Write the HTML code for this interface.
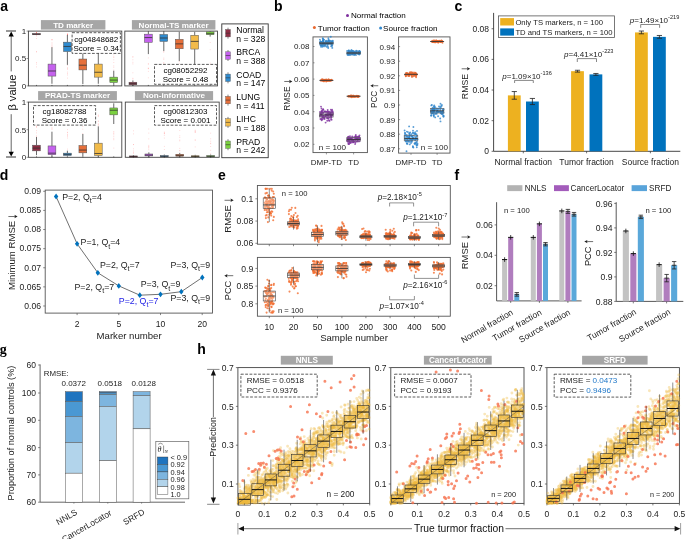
<!DOCTYPE html>
<html><head><meta charset="utf-8"><style>
html,body{margin:0;padding:0;background:#fff;width:685px;height:539px;overflow:hidden}
svg{display:block;will-change:transform}
text{font-family:"Liberation Sans", sans-serif}
.d0{fill:none;stroke:#ff7070;stroke-width:0.7;stroke-linecap:round;stroke-opacity:0.45}
.d1{fill:none;stroke:#2f86cc;stroke-width:1.9;stroke-linecap:round;stroke-opacity:0.8}
.d2{fill:none;stroke:#e8682e;stroke-width:1.9;stroke-linecap:round;stroke-opacity:0.8}
.d3{fill:none;stroke:#7e2f9e;stroke-width:1.9;stroke-linecap:round;stroke-opacity:0.8}
.d4{fill:none;stroke:#f36f32;stroke-width:2.1;stroke-linecap:round;stroke-opacity:0.8}
.d5{fill:none;stroke:#efbb40;stroke-width:2.9;stroke-linecap:round;stroke-opacity:0.36}
.d6{fill:none;stroke:#f6704c;stroke-width:3.0;stroke-linecap:round;stroke-opacity:0.8}
</style></head><body>
<svg width="685" height="539" viewBox="0 0 685 539">
<rect width="685" height="539" fill="#fff"/>
<text x="0.30" y="10.70" font-size="14" text-anchor="start" fill="#000" font-weight="bold">a</text>
<rect x="40.90" y="20.10" width="64.50" height="9.50" fill="#a6a6a6" stroke="none" stroke-width="1"/>
<text x="73.15" y="27.50" font-size="8.1" text-anchor="middle" fill="#fff" font-weight="bold">TD marker</text>
<rect x="131.90" y="20.10" width="83.50" height="9.50" fill="#a6a6a6" stroke="none" stroke-width="1"/>
<text x="173.65" y="27.50" font-size="8.1" text-anchor="middle" fill="#fff" font-weight="bold">Normal-TS marker</text>
<rect x="38.10" y="91.10" width="78.80" height="9.20" fill="#a6a6a6" stroke="none" stroke-width="1"/>
<text x="77.50" y="98.20" font-size="8.1" text-anchor="middle" fill="#fff" font-weight="bold">PRAD-TS marker</text>
<rect x="134.90" y="91.10" width="78.20" height="9.20" fill="#a6a6a6" stroke="none" stroke-width="1"/>
<text x="174.00" y="98.20" font-size="8.1" text-anchor="middle" fill="#fff" font-weight="bold">Non-informative</text>
<rect x="28.40" y="31.10" width="93.40" height="54.80" fill="#fff" stroke="#444" stroke-width="0.9"/>
<rect x="28.40" y="102.10" width="93.40" height="55.20" fill="#fff" stroke="#444" stroke-width="0.9"/>
<rect x="124.80" y="31.10" width="92.70" height="54.80" fill="#fff" stroke="#444" stroke-width="0.9"/>
<rect x="125.30" y="102.10" width="93.90" height="55.20" fill="#fff" stroke="#444" stroke-width="0.9"/>
<path class="d0" d="M36.5 33.1h0M36.5 32.4h0M36.5 32.5h0M36.5 33.0h0M36.5 32.7h0M36.5 32.8h0"/>
<path class="d0" d="M36.5 32.6h0M36.5 32.4h0M36.5 38.5h0M36.5 36.0h0M36.5 66.9h0M36.5 51.5h0"/>
<path class="d0" d="M36.5 64.1h0M36.5 35.0h0M36.5 52.0h0M36.5 62.5h0"/>
<line x1="36.50" y1="33.29" x2="36.50" y2="33.57" stroke="#444" stroke-width="0.8"/>
<line x1="36.50" y1="34.66" x2="36.50" y2="34.94" stroke="#444" stroke-width="0.8"/>
<rect x="32.60" y="33.57" width="7.80" height="1.20" fill="#8f2d44" stroke="#555" stroke-width="0.5"/>
<line x1="32.60" y1="34.17" x2="40.40" y2="34.17" stroke="#333" stroke-width="0.8"/>
<line x1="36.50" y1="85.90" x2="36.50" y2="84.90" stroke="#000" stroke-width="0.5"/>
<path class="d0" d="M52.0 45.4h0M52.0 39.6h0M52.0 39.9h0M52.0 47.0h0M52.0 47.0h0M52.0 42.8h0"/>
<path class="d0" d="M52.0 39.6h0M52.0 44.1h0"/>
<line x1="51.95" y1="47.21" x2="51.95" y2="64.09" stroke="#444" stroke-width="0.8"/>
<line x1="51.95" y1="76.09" x2="51.95" y2="83.76" stroke="#444" stroke-width="0.8"/>
<rect x="48.05" y="64.09" width="7.80" height="12.00" fill="#c562ee" stroke="#555" stroke-width="0.5"/>
<line x1="48.05" y1="70.99" x2="55.85" y2="70.99" stroke="#333" stroke-width="0.8"/>
<line x1="51.95" y1="85.90" x2="51.95" y2="84.90" stroke="#000" stroke-width="0.5"/>
<path class="d0" d="M67.4 34.5h0M67.4 34.1h0M67.4 34.9h0M67.4 34.5h0M67.4 34.1h0M67.4 34.0h0"/>
<path class="d0" d="M67.4 34.5h0M67.4 34.5h0M67.4 68.3h0M67.4 72.1h0M67.4 69.4h0M67.4 65.2h0"/>
<path class="d0" d="M67.4 78.1h0M67.4 73.6h0M67.4 75.0h0M67.4 67.8h0"/>
<line x1="67.40" y1="34.94" x2="67.40" y2="42.17" stroke="#444" stroke-width="0.8"/>
<line x1="67.40" y1="51.54" x2="67.40" y2="64.86" stroke="#444" stroke-width="0.8"/>
<rect x="63.50" y="42.17" width="7.80" height="9.37" fill="#2f8bcf" stroke="#555" stroke-width="0.5"/>
<line x1="63.50" y1="46.44" x2="71.30" y2="46.44" stroke="#333" stroke-width="0.8"/>
<line x1="67.40" y1="85.90" x2="67.40" y2="84.90" stroke="#000" stroke-width="0.5"/>
<path class="d0" d="M82.8 41.6h0M82.8 43.0h0M82.8 50.7h0M82.8 48.5h0M82.8 44.4h0M82.8 44.5h0"/>
<path class="d0" d="M82.8 42.2h0M82.8 47.5h0"/>
<line x1="82.85" y1="51.92" x2="82.85" y2="59.05" stroke="#444" stroke-width="0.8"/>
<line x1="82.85" y1="69.90" x2="82.85" y2="84.04" stroke="#444" stroke-width="0.8"/>
<rect x="78.95" y="59.05" width="7.80" height="10.85" fill="#e66f3a" stroke="#555" stroke-width="0.5"/>
<line x1="78.95" y1="65.19" x2="86.75" y2="65.19" stroke="#333" stroke-width="0.8"/>
<line x1="82.85" y1="85.90" x2="82.85" y2="84.90" stroke="#000" stroke-width="0.5"/>
<path class="d0" d="M98.3 39.1h0M98.3 40.2h0M98.3 42.7h0M98.3 40.8h0M98.3 38.8h0M98.3 39.0h0"/>
<path class="d0" d="M98.3 41.3h0M98.3 40.8h0"/>
<line x1="98.30" y1="44.80" x2="98.30" y2="64.09" stroke="#444" stroke-width="0.8"/>
<line x1="98.30" y1="77.13" x2="98.30" y2="83.76" stroke="#444" stroke-width="0.8"/>
<rect x="94.40" y="64.09" width="7.80" height="13.04" fill="#f2bb4a" stroke="#555" stroke-width="0.5"/>
<line x1="94.40" y1="72.25" x2="102.20" y2="72.25" stroke="#333" stroke-width="0.8"/>
<line x1="98.30" y1="85.90" x2="98.30" y2="84.90" stroke="#000" stroke-width="0.5"/>
<path class="d0" d="M113.8 70.0h0M113.8 65.9h0M113.8 54.9h0M113.8 62.5h0M113.8 67.3h0M113.8 59.8h0"/>
<path class="d0" d="M113.8 56.8h0M113.8 57.4h0"/>
<line x1="113.75" y1="70.72" x2="113.75" y2="77.13" stroke="#444" stroke-width="0.8"/>
<line x1="113.75" y1="82.50" x2="113.75" y2="84.80" stroke="#444" stroke-width="0.8"/>
<rect x="109.85" y="77.13" width="7.80" height="5.37" fill="#7bd13f" stroke="#555" stroke-width="0.5"/>
<line x1="109.85" y1="80.09" x2="117.65" y2="80.09" stroke="#333" stroke-width="0.8"/>
<line x1="113.75" y1="85.90" x2="113.75" y2="84.90" stroke="#000" stroke-width="0.5"/>
<path class="d0" d="M132.9 56.8h0M132.9 57.0h0M132.9 79.0h0M132.9 78.3h0M132.9 59.8h0M132.9 62.3h0"/>
<path class="d0" d="M132.9 63.9h0M132.9 72.8h0"/>
<line x1="132.90" y1="80.42" x2="132.90" y2="82.23" stroke="#444" stroke-width="0.8"/>
<line x1="132.90" y1="84.80" x2="132.90" y2="85.90" stroke="#444" stroke-width="0.8"/>
<rect x="129.00" y="82.23" width="7.80" height="2.58" fill="#8f2d44" stroke="#555" stroke-width="0.5"/>
<line x1="129.00" y1="83.71" x2="136.80" y2="83.71" stroke="#333" stroke-width="0.8"/>
<line x1="132.90" y1="85.90" x2="132.90" y2="84.90" stroke="#000" stroke-width="0.5"/>
<path class="d0" d="M148.3 68.6h0M148.3 68.6h0M148.3 68.0h0M148.3 57.9h0M148.3 64.4h0M148.3 63.5h0"/>
<path class="d0" d="M148.3 71.4h0M148.3 77.8h0"/>
<line x1="148.35" y1="31.10" x2="148.35" y2="34.17" stroke="#444" stroke-width="0.8"/>
<line x1="148.35" y1="42.33" x2="148.35" y2="54.12" stroke="#444" stroke-width="0.8"/>
<rect x="144.45" y="34.17" width="7.80" height="8.17" fill="#c562ee" stroke="#555" stroke-width="0.5"/>
<line x1="144.45" y1="37.57" x2="152.25" y2="37.57" stroke="#333" stroke-width="0.8"/>
<line x1="148.35" y1="85.90" x2="148.35" y2="84.90" stroke="#000" stroke-width="0.5"/>
<path class="d0" d="M163.8 75.9h0M163.8 65.3h0M163.8 62.7h0M163.8 58.1h0M163.8 52.0h0M163.8 51.8h0"/>
<path class="d0" d="M163.8 63.2h0M163.8 59.4h0"/>
<line x1="163.80" y1="31.10" x2="163.80" y2="34.50" stroke="#444" stroke-width="0.8"/>
<line x1="163.80" y1="41.40" x2="163.80" y2="51.05" stroke="#444" stroke-width="0.8"/>
<rect x="159.90" y="34.50" width="7.80" height="6.90" fill="#2f8bcf" stroke="#555" stroke-width="0.5"/>
<line x1="159.90" y1="38.00" x2="167.70" y2="38.00" stroke="#333" stroke-width="0.8"/>
<line x1="163.80" y1="85.90" x2="163.80" y2="84.90" stroke="#000" stroke-width="0.5"/>
<path class="d0" d="M179.2 68.1h0M179.2 77.7h0M179.2 70.8h0M179.2 71.5h0M179.2 65.4h0M179.2 61.5h0"/>
<path class="d0" d="M179.2 67.1h0M179.2 63.6h0"/>
<line x1="179.25" y1="31.87" x2="179.25" y2="39.32" stroke="#444" stroke-width="0.8"/>
<line x1="179.25" y1="48.75" x2="179.25" y2="61.02" stroke="#444" stroke-width="0.8"/>
<rect x="175.35" y="39.32" width="7.80" height="9.43" fill="#e66f3a" stroke="#555" stroke-width="0.5"/>
<line x1="175.35" y1="43.87" x2="183.15" y2="43.87" stroke="#333" stroke-width="0.8"/>
<line x1="179.25" y1="85.90" x2="179.25" y2="84.90" stroke="#000" stroke-width="0.5"/>
<path class="d0" d="M194.7 72.9h0M194.7 80.6h0M194.7 75.5h0M194.7 67.7h0M194.7 79.0h0M194.7 77.4h0"/>
<path class="d0" d="M194.7 76.4h0M194.7 79.2h0"/>
<line x1="194.70" y1="31.87" x2="194.70" y2="35.26" stroke="#444" stroke-width="0.8"/>
<line x1="194.70" y1="49.07" x2="194.70" y2="64.86" stroke="#444" stroke-width="0.8"/>
<rect x="190.80" y="35.26" width="7.80" height="13.81" fill="#f2bb4a" stroke="#555" stroke-width="0.5"/>
<line x1="190.80" y1="41.40" x2="198.60" y2="41.40" stroke="#333" stroke-width="0.8"/>
<line x1="194.70" y1="85.90" x2="194.70" y2="84.90" stroke="#000" stroke-width="0.5"/>
<path class="d0" d="M210.2 64.8h0M210.2 65.8h0M210.2 49.7h0M210.2 72.9h0M210.2 72.2h0M210.2 42.5h0"/>
<path class="d0" d="M210.2 64.5h0M210.2 63.0h0"/>
<line x1="210.15" y1="31.10" x2="210.15" y2="31.87" stroke="#444" stroke-width="0.8"/>
<line x1="210.15" y1="34.61" x2="210.15" y2="36.58" stroke="#444" stroke-width="0.8"/>
<rect x="206.25" y="31.87" width="7.80" height="2.74" fill="#7bd13f" stroke="#555" stroke-width="0.5"/>
<line x1="206.25" y1="33.73" x2="214.05" y2="33.73" stroke="#333" stroke-width="0.8"/>
<line x1="210.15" y1="85.90" x2="210.15" y2="84.90" stroke="#000" stroke-width="0.5"/>
<path class="d0" d="M36.5 132.9h0M36.5 127.5h0M36.5 130.6h0M36.5 126.5h0M36.5 126.1h0M36.5 135.9h0"/>
<path class="d0" d="M36.5 136.8h0M36.5 122.4h0"/>
<line x1="36.50" y1="137.04" x2="36.50" y2="145.21" stroke="#444" stroke-width="0.8"/>
<line x1="36.50" y1="150.84" x2="36.50" y2="155.15" stroke="#444" stroke-width="0.8"/>
<rect x="32.60" y="145.21" width="7.80" height="5.63" fill="#8f2d44" stroke="#555" stroke-width="0.5"/>
<line x1="32.60" y1="148.08" x2="40.40" y2="148.08" stroke="#333" stroke-width="0.8"/>
<line x1="36.50" y1="157.30" x2="36.50" y2="156.30" stroke="#000" stroke-width="0.5"/>
<path class="d0" d="M52.0 127.9h0M52.0 128.2h0M52.0 117.0h0M52.0 124.7h0M52.0 119.3h0M52.0 124.6h0"/>
<path class="d0" d="M52.0 122.2h0M52.0 129.5h0"/>
<line x1="51.95" y1="131.69" x2="51.95" y2="145.93" stroke="#444" stroke-width="0.8"/>
<line x1="51.95" y1="154.71" x2="51.95" y2="156.75" stroke="#444" stroke-width="0.8"/>
<rect x="48.05" y="145.93" width="7.80" height="8.78" fill="#c562ee" stroke="#555" stroke-width="0.5"/>
<line x1="48.05" y1="153.16" x2="55.85" y2="153.16" stroke="#333" stroke-width="0.8"/>
<line x1="51.95" y1="157.30" x2="51.95" y2="156.30" stroke="#000" stroke-width="0.5"/>
<path class="d0" d="M67.4 135.3h0M67.4 129.6h0M67.4 138.0h0M67.4 132.7h0M67.4 134.4h0M67.4 149.1h0"/>
<path class="d0" d="M67.4 132.3h0M67.4 136.3h0"/>
<line x1="67.40" y1="150.68" x2="67.40" y2="153.16" stroke="#444" stroke-width="0.8"/>
<line x1="67.40" y1="155.48" x2="67.40" y2="156.20" stroke="#444" stroke-width="0.8"/>
<rect x="63.50" y="153.16" width="7.80" height="2.32" fill="#2f8bcf" stroke="#555" stroke-width="0.5"/>
<line x1="63.50" y1="154.37" x2="71.30" y2="154.37" stroke="#333" stroke-width="0.8"/>
<line x1="67.40" y1="157.30" x2="67.40" y2="156.30" stroke="#000" stroke-width="0.5"/>
<path class="d0" d="M82.8 129.2h0M82.8 133.5h0M82.8 120.2h0M82.8 126.5h0M82.8 122.5h0M82.8 120.0h0"/>
<path class="d0" d="M82.8 122.6h0M82.8 119.3h0"/>
<line x1="82.85" y1="134.01" x2="82.85" y2="145.49" stroke="#444" stroke-width="0.8"/>
<line x1="82.85" y1="152.83" x2="82.85" y2="156.20" stroke="#444" stroke-width="0.8"/>
<rect x="78.95" y="145.49" width="7.80" height="7.34" fill="#e66f3a" stroke="#555" stroke-width="0.5"/>
<line x1="78.95" y1="150.07" x2="86.75" y2="150.07" stroke="#333" stroke-width="0.8"/>
<line x1="82.85" y1="157.30" x2="82.85" y2="156.30" stroke="#000" stroke-width="0.5"/>
<path class="d0" d="M98.3 121.5h0M98.3 116.6h0M98.3 120.9h0M98.3 115.0h0M98.3 115.7h0M98.3 125.2h0"/>
<path class="d0" d="M98.3 124.7h0M98.3 123.7h0"/>
<line x1="98.30" y1="126.33" x2="98.30" y2="143.17" stroke="#444" stroke-width="0.8"/>
<line x1="98.30" y1="155.48" x2="98.30" y2="156.75" stroke="#444" stroke-width="0.8"/>
<rect x="94.40" y="143.17" width="7.80" height="12.31" fill="#f2bb4a" stroke="#555" stroke-width="0.5"/>
<line x1="94.40" y1="153.49" x2="102.20" y2="153.49" stroke="#333" stroke-width="0.8"/>
<line x1="98.30" y1="157.30" x2="98.30" y2="156.30" stroke="#000" stroke-width="0.5"/>
<path class="d0" d="M113.8 148.1h0M113.8 134.9h0M113.8 139.7h0M113.8 131.5h0M113.8 136.7h0M113.8 133.6h0"/>
<path class="d0" d="M113.8 132.8h0M113.8 138.6h0"/>
<line x1="113.75" y1="103.31" x2="113.75" y2="107.95" stroke="#444" stroke-width="0.8"/>
<line x1="113.75" y1="114.85" x2="113.75" y2="124.01" stroke="#444" stroke-width="0.8"/>
<rect x="109.85" y="107.95" width="7.80" height="6.90" fill="#7bd13f" stroke="#555" stroke-width="0.5"/>
<line x1="109.85" y1="110.21" x2="117.65" y2="110.21" stroke="#333" stroke-width="0.8"/>
<line x1="113.75" y1="157.30" x2="113.75" y2="156.30" stroke="#000" stroke-width="0.5"/>
<path class="d0" d="M133.4 148.8h0M133.4 152.4h0M133.4 144.6h0M133.4 151.0h0M133.4 153.3h0M133.4 144.5h0"/>
<path class="d0" d="M133.4 130.8h0M133.4 133.9h0"/>
<line x1="133.40" y1="155.09" x2="133.40" y2="155.92" stroke="#444" stroke-width="0.8"/>
<line x1="133.40" y1="157.02" x2="133.40" y2="157.30" stroke="#444" stroke-width="0.8"/>
<rect x="129.50" y="155.92" width="7.80" height="1.20" fill="#8f2d44" stroke="#555" stroke-width="0.5"/>
<line x1="129.50" y1="156.64" x2="137.30" y2="156.64" stroke="#333" stroke-width="0.8"/>
<line x1="133.40" y1="157.30" x2="133.40" y2="156.30" stroke="#000" stroke-width="0.5"/>
<path class="d0" d="M148.8 133.1h0M148.8 146.8h0M148.8 138.9h0M148.8 145.4h0M148.8 148.0h0M148.8 149.7h0"/>
<path class="d0" d="M148.8 146.9h0M148.8 129.0h0"/>
<line x1="148.85" y1="152.33" x2="148.85" y2="153.99" stroke="#444" stroke-width="0.8"/>
<line x1="148.85" y1="155.92" x2="148.85" y2="157.30" stroke="#444" stroke-width="0.8"/>
<rect x="144.95" y="153.99" width="7.80" height="1.93" fill="#c562ee" stroke="#555" stroke-width="0.5"/>
<line x1="144.95" y1="155.09" x2="152.75" y2="155.09" stroke="#333" stroke-width="0.8"/>
<line x1="148.85" y1="157.30" x2="148.85" y2="156.30" stroke="#000" stroke-width="0.5"/>
<path class="d0" d="M164.3 132.8h0M164.3 133.4h0M164.3 133.6h0M164.3 149.5h0M164.3 146.4h0M164.3 138.1h0"/>
<path class="d0" d="M164.3 135.3h0M164.3 132.1h0"/>
<line x1="164.30" y1="154.54" x2="164.30" y2="155.64" stroke="#444" stroke-width="0.8"/>
<line x1="164.30" y1="156.86" x2="164.30" y2="157.30" stroke="#444" stroke-width="0.8"/>
<rect x="160.40" y="155.64" width="7.80" height="1.21" fill="#2f8bcf" stroke="#555" stroke-width="0.5"/>
<line x1="160.40" y1="156.31" x2="168.20" y2="156.31" stroke="#333" stroke-width="0.8"/>
<line x1="164.30" y1="157.30" x2="164.30" y2="156.30" stroke="#000" stroke-width="0.5"/>
<path class="d0" d="M179.8 130.5h0M179.8 150.7h0M179.8 137.5h0M179.8 135.8h0M179.8 140.0h0M179.8 148.4h0"/>
<path class="d0" d="M179.8 140.9h0M179.8 150.6h0"/>
<line x1="179.75" y1="152.88" x2="179.75" y2="154.26" stroke="#444" stroke-width="0.8"/>
<line x1="179.75" y1="156.20" x2="179.75" y2="157.30" stroke="#444" stroke-width="0.8"/>
<rect x="175.85" y="154.26" width="7.80" height="1.93" fill="#e66f3a" stroke="#555" stroke-width="0.5"/>
<line x1="175.85" y1="155.37" x2="183.65" y2="155.37" stroke="#333" stroke-width="0.8"/>
<line x1="179.75" y1="157.30" x2="179.75" y2="156.30" stroke="#000" stroke-width="0.5"/>
<path class="d0" d="M195.2 130.2h0M195.2 132.0h0M195.2 140.4h0M195.2 146.9h0M195.2 130.9h0M195.2 139.7h0"/>
<path class="d0" d="M195.2 131.6h0M195.2 132.5h0"/>
<line x1="195.20" y1="154.82" x2="195.20" y2="155.75" stroke="#444" stroke-width="0.8"/>
<line x1="195.20" y1="156.86" x2="195.20" y2="157.30" stroke="#444" stroke-width="0.8"/>
<rect x="191.30" y="155.75" width="7.80" height="1.20" fill="#f2bb4a" stroke="#555" stroke-width="0.5"/>
<line x1="191.30" y1="156.47" x2="199.10" y2="156.47" stroke="#333" stroke-width="0.8"/>
<line x1="195.20" y1="157.30" x2="195.20" y2="156.30" stroke="#000" stroke-width="0.5"/>
<path class="d0" d="M210.7 141.2h0M210.7 143.7h0M210.7 138.8h0M210.7 143.2h0M210.7 150.3h0M210.7 146.5h0"/>
<path class="d0" d="M210.7 133.2h0M210.7 153.4h0"/>
<line x1="210.65" y1="154.54" x2="210.65" y2="155.64" stroke="#444" stroke-width="0.8"/>
<line x1="210.65" y1="156.86" x2="210.65" y2="157.30" stroke="#444" stroke-width="0.8"/>
<rect x="206.75" y="155.64" width="7.80" height="1.21" fill="#7bd13f" stroke="#555" stroke-width="0.5"/>
<line x1="206.75" y1="156.31" x2="214.55" y2="156.31" stroke="#333" stroke-width="0.8"/>
<line x1="210.65" y1="157.30" x2="210.65" y2="156.30" stroke="#000" stroke-width="0.5"/>
<line x1="26.60" y1="31.10" x2="28.40" y2="31.10" stroke="#555" stroke-width="0.6"/>
<line x1="26.60" y1="58.50" x2="28.40" y2="58.50" stroke="#555" stroke-width="0.6"/>
<line x1="26.60" y1="85.90" x2="28.40" y2="85.90" stroke="#555" stroke-width="0.6"/>
<text x="26.20" y="34.00" font-size="8" text-anchor="end" fill="#222">1</text>
<text x="26.20" y="61.40" font-size="8" text-anchor="end" fill="#222">0.5</text>
<text x="26.20" y="88.80" font-size="8" text-anchor="end" fill="#222">0</text>
<line x1="26.60" y1="102.10" x2="28.40" y2="102.10" stroke="#555" stroke-width="0.6"/>
<line x1="26.60" y1="129.70" x2="28.40" y2="129.70" stroke="#555" stroke-width="0.6"/>
<line x1="26.60" y1="157.30" x2="28.40" y2="157.30" stroke="#555" stroke-width="0.6"/>
<text x="26.20" y="105.00" font-size="8" text-anchor="end" fill="#222">1</text>
<text x="26.20" y="132.60" font-size="8" text-anchor="end" fill="#222">0.5</text>
<text x="26.20" y="160.20" font-size="8" text-anchor="end" fill="#222">0</text>
<rect x="72.10" y="32.70" width="48.30" height="20.70" fill="#fff" stroke="#333" stroke-width="0.8" stroke-dasharray="2.8,1.5"/>
<text x="96.25" y="41.60" font-size="8.0" text-anchor="middle" fill="#000">cg04848682</text>
<text x="96.25" y="50.71" font-size="8.0" text-anchor="middle" fill="#000">Score = 0.34</text>
<rect x="154.50" y="64.40" width="62.00" height="19.90" fill="#fff" stroke="#333" stroke-width="0.8" stroke-dasharray="2.8,1.5"/>
<text x="185.50" y="72.96" font-size="8.0" text-anchor="middle" fill="#000">cg08052292</text>
<text x="185.50" y="81.71" font-size="8.0" text-anchor="middle" fill="#000">Score = 0.48</text>
<rect x="33.50" y="105.60" width="62.10" height="19.50" fill="#fff" stroke="#333" stroke-width="0.8" stroke-dasharray="2.8,1.5"/>
<text x="64.55" y="113.98" font-size="8.0" text-anchor="middle" fill="#000">cg18082788</text>
<text x="64.55" y="122.56" font-size="8.0" text-anchor="middle" fill="#000">Score = 0.36</text>
<rect x="154.50" y="105.60" width="62.00" height="19.60" fill="#fff" stroke="#333" stroke-width="0.8" stroke-dasharray="2.8,1.5"/>
<text x="185.50" y="114.03" font-size="8.0" text-anchor="middle" fill="#000">cg00812303</text>
<text x="185.50" y="122.65" font-size="8.0" text-anchor="middle" fill="#000">Score = 0.001</text>
<line x1="11.20" y1="34.00" x2="11.20" y2="71.40" stroke="#222" stroke-width="0.7"/>
<line x1="11.20" y1="114.20" x2="11.20" y2="152.00" stroke="#222" stroke-width="0.7"/>
<path d="M8.6,36.4 L11.2,31.6 L13.8,36.4 Z" fill="#000" stroke="none" stroke-width="1"/>
<path d="M8.6,151.8 L11.2,156.6 L13.8,151.8 Z" fill="#000" stroke="none" stroke-width="1"/>
<line x1="6.00" y1="31.00" x2="16.00" y2="31.00" stroke="#000" stroke-width="0.8"/>
<line x1="6.00" y1="157.00" x2="16.00" y2="157.00" stroke="#000" stroke-width="0.8"/>
<text x="15.60" y="92.60" font-size="11.1" text-anchor="middle" fill="#111" transform="rotate(-90 15.6 92.6)">β value</text>
<rect x="221.80" y="23.90" width="46.40" height="133.80" fill="#fff" stroke="#333" stroke-width="0.9"/>
<line x1="228.00" y1="27.70" x2="228.00" y2="38.70" stroke="#555" stroke-width="0.7"/>
<rect x="225.60" y="29.50" width="4.80" height="7.40" fill="#8f2d44" stroke="#555" stroke-width="0.4"/>
<line x1="225.60" y1="33.20" x2="230.40" y2="33.20" stroke="#333" stroke-width="0.6"/>
<text x="236.30" y="33.10" font-size="8.6" text-anchor="start" fill="#000">Normal</text>
<text x="236.30" y="41.60" font-size="8.6" text-anchor="start" fill="#000">n = 328</text>
<line x1="228.00" y1="50.00" x2="228.00" y2="61.00" stroke="#555" stroke-width="0.7"/>
<rect x="225.60" y="51.80" width="4.80" height="7.40" fill="#c562ee" stroke="#555" stroke-width="0.4"/>
<line x1="225.60" y1="55.50" x2="230.40" y2="55.50" stroke="#333" stroke-width="0.6"/>
<text x="236.30" y="55.40" font-size="8.6" text-anchor="start" fill="#000">BRCA</text>
<text x="236.30" y="63.90" font-size="8.6" text-anchor="start" fill="#000">n = 388</text>
<line x1="228.00" y1="72.30" x2="228.00" y2="83.30" stroke="#555" stroke-width="0.7"/>
<rect x="225.60" y="74.10" width="4.80" height="7.40" fill="#2f8bcf" stroke="#555" stroke-width="0.4"/>
<line x1="225.60" y1="77.80" x2="230.40" y2="77.80" stroke="#333" stroke-width="0.6"/>
<text x="236.30" y="77.70" font-size="8.6" text-anchor="start" fill="#000">COAD</text>
<text x="236.30" y="86.20" font-size="8.6" text-anchor="start" fill="#000">n = 147</text>
<line x1="228.00" y1="94.60" x2="228.00" y2="105.60" stroke="#555" stroke-width="0.7"/>
<rect x="225.60" y="96.40" width="4.80" height="7.40" fill="#e66f3a" stroke="#555" stroke-width="0.4"/>
<line x1="225.60" y1="100.10" x2="230.40" y2="100.10" stroke="#333" stroke-width="0.6"/>
<text x="236.30" y="100.00" font-size="8.6" text-anchor="start" fill="#000">LUNG</text>
<text x="236.30" y="108.50" font-size="8.6" text-anchor="start" fill="#000">n = 411</text>
<line x1="228.00" y1="116.90" x2="228.00" y2="127.90" stroke="#555" stroke-width="0.7"/>
<rect x="225.60" y="118.70" width="4.80" height="7.40" fill="#f2bb4a" stroke="#555" stroke-width="0.4"/>
<line x1="225.60" y1="122.40" x2="230.40" y2="122.40" stroke="#333" stroke-width="0.6"/>
<text x="236.30" y="122.30" font-size="8.6" text-anchor="start" fill="#000">LIHC</text>
<text x="236.30" y="130.80" font-size="8.6" text-anchor="start" fill="#000">n = 188</text>
<line x1="228.00" y1="139.20" x2="228.00" y2="150.20" stroke="#555" stroke-width="0.7"/>
<rect x="225.60" y="141.00" width="4.80" height="7.40" fill="#7bd13f" stroke="#555" stroke-width="0.4"/>
<line x1="225.60" y1="144.70" x2="230.40" y2="144.70" stroke="#333" stroke-width="0.6"/>
<text x="236.30" y="144.60" font-size="8.6" text-anchor="start" fill="#000">PRAD</text>
<text x="236.30" y="153.10" font-size="8.6" text-anchor="start" fill="#000">n = 242</text>
<text x="274.00" y="10.80" font-size="14" text-anchor="start" fill="#000" font-weight="bold">b</text>
<circle cx="347.50" cy="15.40" r="1.5" fill="#7e2f9e" stroke="none"/>
<text x="350.90" y="18.30" font-size="8.1" text-anchor="start" fill="#000">Normal fraction</text>
<circle cx="314.40" cy="27.60" r="1.5" fill="#e8682e" stroke="none"/>
<text x="317.80" y="30.50" font-size="8.1" text-anchor="start" fill="#000">Tumor fraction</text>
<circle cx="380.60" cy="28.00" r="1.5" fill="#2f86cc" stroke="none"/>
<text x="383.10" y="30.50" font-size="8.1" text-anchor="start" fill="#000">Source fraction</text>
<rect x="313.00" y="36.90" width="54.40" height="115.70" fill="#fff" stroke="#555" stroke-width="0.9"/>
<line x1="313.00" y1="144.30" x2="314.50" y2="144.30" stroke="#555" stroke-width="0.6"/>
<text x="309.50" y="147.20" font-size="8" text-anchor="end" fill="#222">0.02</text>
<line x1="313.00" y1="128.00" x2="314.50" y2="128.00" stroke="#555" stroke-width="0.6"/>
<text x="309.50" y="130.90" font-size="8" text-anchor="end" fill="#222">0.03</text>
<line x1="313.00" y1="111.70" x2="314.50" y2="111.70" stroke="#555" stroke-width="0.6"/>
<text x="309.50" y="114.60" font-size="8" text-anchor="end" fill="#222">0.04</text>
<line x1="313.00" y1="95.40" x2="314.50" y2="95.40" stroke="#555" stroke-width="0.6"/>
<text x="309.50" y="98.30" font-size="8" text-anchor="end" fill="#222">0.05</text>
<line x1="313.00" y1="79.10" x2="314.50" y2="79.10" stroke="#555" stroke-width="0.6"/>
<text x="309.50" y="82.00" font-size="8" text-anchor="end" fill="#222">0.06</text>
<line x1="313.00" y1="62.80" x2="314.50" y2="62.80" stroke="#555" stroke-width="0.6"/>
<text x="309.50" y="65.70" font-size="8" text-anchor="end" fill="#222">0.07</text>
<line x1="313.00" y1="46.50" x2="314.50" y2="46.50" stroke="#555" stroke-width="0.6"/>
<text x="309.50" y="49.40" font-size="8" text-anchor="end" fill="#222">0.08</text>
<path class="d1" d="M331.9 45.6h0M326.0 42.5h0M322.3 45.8h0M326.6 43.4h0M321.1 45.6h0M323.8 45.8h0"/>
<path class="d1" d="M328.9 40.2h0M320.4 41.3h0M328.4 38.2h0M327.9 43.8h0M326.8 43.1h0M320.7 43.0h0"/>
<path class="d1" d="M320.3 42.7h0M325.9 41.9h0M326.6 46.7h0M328.2 41.9h0M325.8 46.1h0M323.5 43.2h0"/>
<path class="d1" d="M330.8 36.8h0M329.1 43.3h0M323.7 43.8h0M320.8 41.9h0M330.9 43.0h0M324.9 45.2h0"/>
<path class="d1" d="M319.9 39.6h0M322.6 44.2h0M332.6 41.4h0M325.1 44.4h0M330.0 40.8h0M323.4 42.0h0"/>
<path class="d1" d="M332.4 41.7h0M329.8 42.3h0M321.2 42.2h0M320.7 42.2h0M327.2 42.9h0M325.7 44.4h0"/>
<path class="d1" d="M321.6 42.1h0M328.3 40.3h0M322.7 41.7h0M323.4 41.9h0M323.9 39.8h0M331.4 43.9h0"/>
<path class="d1" d="M331.0 42.8h0M328.2 41.3h0M322.7 38.5h0M323.3 39.8h0M323.8 43.0h0M320.9 45.0h0"/>
<path class="d1" d="M323.1 41.1h0M327.7 41.9h0M332.4 44.7h0M326.2 41.7h0M322.3 46.7h0M321.9 45.0h0"/>
<path class="d1" d="M323.1 40.2h0M322.4 45.2h0M322.5 43.5h0M332.3 47.9h0M325.4 41.3h0M321.2 45.0h0"/>
<path class="d1" d="M323.0 38.4h0M329.1 42.0h0M327.7 43.4h0M323.7 39.6h0M320.8 41.8h0M322.9 40.5h0"/>
<path class="d1" d="M327.9 46.8h0M323.5 44.6h0M320.1 42.1h0M323.4 43.9h0M322.2 43.9h0M324.7 43.0h0"/>
<path class="d1" d="M324.6 44.2h0M331.5 43.7h0M328.9 40.4h0M327.5 43.6h0M320.1 42.9h0M331.7 42.8h0"/>
<path class="d1" d="M320.2 44.8h0M328.2 48.0h0M324.0 46.4h0M332.9 42.9h0M329.5 41.1h0M331.6 42.1h0"/>
<path class="d1" d="M330.2 43.5h0M331.8 46.3h0M331.6 45.0h0M331.2 40.9h0M331.1 46.2h0M327.3 41.5h0"/>
<path class="d1" d="M327.5 44.6h0M327.8 44.6h0M332.8 40.8h0M331.3 41.9h0M329.5 43.5h0M327.5 45.2h0"/>
<path class="d1" d="M321.0 46.7h0M329.7 41.9h0M326.2 40.6h0M322.9 42.7h0"/>
<rect x="319.60" y="42.42" width="13.60" height="1.63" fill="none" stroke="#666" stroke-width="0.6" fill-opacity="0"/>
<line x1="319.60" y1="43.24" x2="333.20" y2="43.24" stroke="#333" stroke-width="0.9"/>
<path class="d2" d="M328.2 81.1h0M322.5 80.3h0M323.9 80.0h0M329.8 80.4h0M327.0 80.6h0M328.2 81.0h0"/>
<path class="d2" d="M322.7 80.1h0M330.9 80.0h0M321.7 79.6h0M328.5 80.1h0M330.2 80.6h0M321.1 80.0h0"/>
<path class="d2" d="M326.5 79.5h0M321.9 80.0h0M322.1 79.3h0M325.6 80.5h0M327.7 80.1h0M322.7 80.1h0"/>
<path class="d2" d="M322.8 80.5h0M329.9 80.5h0M327.5 80.8h0M326.1 80.1h0M328.9 80.5h0M331.5 80.3h0"/>
<path class="d2" d="M324.8 79.7h0M324.9 80.5h0M322.2 80.7h0M323.5 81.0h0M329.8 80.8h0M326.4 80.0h0"/>
<path class="d2" d="M325.6 79.6h0M326.6 80.3h0M325.2 80.3h0M329.4 79.9h0M322.9 79.9h0M328.6 80.1h0"/>
<path class="d2" d="M324.7 80.0h0M327.9 80.3h0M323.2 79.9h0M324.0 80.2h0M326.2 81.5h0M331.4 80.2h0"/>
<path class="d2" d="M324.9 79.9h0M323.0 79.5h0M321.0 80.4h0M323.9 81.4h0M323.6 80.3h0M321.0 80.8h0"/>
<path class="d2" d="M331.7 79.8h0M331.9 80.2h0M324.4 80.5h0M329.6 80.4h0M323.4 80.1h0M326.7 81.0h0"/>
<path class="d2" d="M323.8 81.0h0M331.3 80.3h0M324.1 80.2h0M330.5 80.6h0M326.6 80.6h0M328.6 79.3h0"/>
<line x1="319.40" y1="80.40" x2="333.40" y2="80.40" stroke="#333" stroke-width="0.9"/>
<path class="d3" d="M328.8 115.3h0M330.9 109.8h0M321.8 114.0h0M322.8 112.7h0M326.8 115.1h0M322.7 116.8h0"/>
<path class="d3" d="M330.8 116.0h0M327.8 111.5h0M321.8 112.2h0M331.2 114.7h0M330.6 112.7h0M329.6 120.7h0"/>
<path class="d3" d="M323.2 109.2h0M330.9 116.9h0M327.2 120.7h0M325.5 114.5h0M324.0 117.3h0M321.4 112.2h0"/>
<path class="d3" d="M332.7 112.4h0M328.9 120.5h0M321.7 120.3h0M328.7 116.9h0M322.5 117.0h0M326.7 114.2h0"/>
<path class="d3" d="M327.8 115.0h0M325.0 111.2h0M323.0 112.3h0M323.0 112.0h0M320.9 113.8h0M328.4 111.9h0"/>
<path class="d3" d="M329.2 111.7h0M332.0 115.9h0M330.4 113.1h0M330.8 114.5h0M325.3 116.3h0M331.2 116.5h0"/>
<path class="d3" d="M322.5 110.3h0M331.0 119.0h0M321.7 118.8h0M332.5 111.1h0M322.7 119.3h0M327.9 118.3h0"/>
<path class="d3" d="M324.6 119.0h0M329.4 117.2h0M322.0 116.5h0M328.8 112.6h0M320.8 113.1h0M328.3 113.4h0"/>
<path class="d3" d="M320.4 119.0h0M325.6 116.4h0M319.9 115.8h0M332.9 113.7h0M323.4 112.9h0M327.7 113.0h0"/>
<path class="d3" d="M324.7 111.6h0M330.7 113.2h0M326.4 111.9h0M332.5 114.8h0M328.6 118.8h0M323.8 115.4h0"/>
<path class="d3" d="M331.7 111.0h0M329.5 114.2h0M330.9 115.2h0M323.3 109.8h0M323.1 117.7h0M323.6 116.6h0"/>
<path class="d3" d="M320.4 114.1h0M325.1 111.9h0M327.7 110.0h0M320.0 112.0h0M326.1 114.6h0M327.1 117.2h0"/>
<path class="d3" d="M325.6 116.4h0M321.7 112.5h0M330.6 113.9h0M322.7 116.2h0M320.3 116.1h0M321.6 111.8h0"/>
<path class="d3" d="M331.3 117.3h0M332.8 112.1h0M321.6 110.9h0M330.3 113.8h0M327.0 118.2h0M321.5 108.5h0"/>
<path class="d3" d="M331.2 112.4h0M321.8 114.9h0M324.4 118.2h0M330.3 114.5h0M328.6 113.7h0M332.1 109.7h0"/>
<path class="d3" d="M325.6 122.6h0M327.4 115.9h0M331.6 119.7h0M321.4 119.5h0M330.5 112.2h0M326.8 111.7h0"/>
<path class="d3" d="M323.8 117.6h0M321.0 106.6h0M329.4 114.2h0M321.3 114.7h0"/>
<rect x="319.60" y="113.00" width="13.60" height="4.07" fill="none" stroke="#666" stroke-width="0.6" fill-opacity="0"/>
<line x1="319.60" y1="114.96" x2="333.20" y2="114.96" stroke="#333" stroke-width="0.9"/>
<path class="d1" d="M355.6 51.4h0M359.3 51.8h0M356.6 53.2h0M355.7 52.0h0M352.3 53.7h0M357.2 51.1h0"/>
<path class="d1" d="M358.8 52.3h0M351.8 52.4h0M355.3 53.2h0M349.0 50.7h0M349.2 54.8h0M355.6 53.6h0"/>
<path class="d1" d="M348.2 52.2h0M349.8 52.2h0M360.0 51.7h0M352.8 53.2h0M356.0 55.1h0M348.5 54.7h0"/>
<path class="d1" d="M349.5 54.6h0M348.3 54.0h0M349.6 51.9h0M353.0 54.1h0M353.6 52.6h0M348.4 50.7h0"/>
<path class="d1" d="M350.7 52.8h0M347.5 53.5h0M353.9 53.1h0M348.3 53.7h0M354.1 55.0h0M353.0 52.8h0"/>
<path class="d1" d="M354.8 54.4h0M348.3 52.9h0M358.4 54.0h0M359.3 52.9h0M356.2 52.4h0M354.5 52.7h0"/>
<path class="d1" d="M359.4 51.0h0M352.6 52.8h0M359.3 54.0h0M350.5 51.6h0M355.3 53.3h0M353.2 52.2h0"/>
<path class="d1" d="M347.6 53.1h0M351.2 51.7h0M350.8 51.3h0M359.3 53.2h0M347.6 53.6h0M349.0 52.2h0"/>
<path class="d1" d="M358.4 52.7h0M350.5 52.1h0M359.0 53.0h0M350.9 51.2h0M354.4 52.9h0M354.8 54.3h0"/>
<path class="d1" d="M353.7 51.0h0M358.0 53.8h0M359.6 53.9h0M354.2 52.1h0M359.0 52.9h0M355.1 54.1h0"/>
<path class="d1" d="M353.2 53.0h0M351.5 50.0h0M349.7 53.1h0M356.1 52.4h0M352.9 52.4h0M354.2 52.2h0"/>
<path class="d1" d="M350.4 54.7h0M351.9 51.5h0M350.0 53.6h0M349.0 52.7h0M355.8 53.1h0M350.0 53.7h0"/>
<path class="d1" d="M351.7 54.2h0M359.2 54.5h0M347.7 53.9h0M352.4 54.4h0M359.2 53.2h0M358.3 51.6h0"/>
<path class="d1" d="M359.2 51.2h0M354.2 52.3h0M352.6 50.9h0M359.8 51.5h0M359.2 51.3h0M348.0 54.8h0"/>
<path class="d1" d="M348.9 52.7h0M352.0 54.1h0M352.9 53.1h0M357.3 53.1h0M351.0 54.6h0M359.7 53.0h0"/>
<path class="d1" d="M355.5 53.0h0M347.1 51.0h0M360.0 52.1h0M359.2 53.0h0M352.3 50.9h0M352.9 54.5h0"/>
<path class="d1" d="M347.5 54.8h0M348.9 50.5h0M356.3 50.7h0M359.7 53.7h0"/>
<rect x="346.80" y="52.21" width="13.60" height="1.63" fill="none" stroke="#666" stroke-width="0.6" fill-opacity="0"/>
<line x1="346.80" y1="53.02" x2="360.40" y2="53.02" stroke="#333" stroke-width="0.9"/>
<path class="d2" d="M356.2 96.2h0M349.8 96.2h0M357.8 96.2h0M355.6 96.2h0M350.7 95.5h0M351.8 97.2h0"/>
<path class="d2" d="M351.0 96.3h0M350.6 96.4h0M356.9 95.8h0M350.6 96.7h0M350.6 95.9h0M353.1 96.4h0"/>
<path class="d2" d="M354.3 96.3h0M352.1 96.2h0M355.2 96.8h0M352.6 96.5h0M353.5 95.6h0M358.5 96.9h0"/>
<path class="d2" d="M350.0 96.1h0M358.4 96.2h0M351.3 96.4h0M353.5 96.7h0M349.4 96.1h0M348.6 96.3h0"/>
<path class="d2" d="M354.2 96.8h0M352.5 96.1h0M358.5 96.4h0M352.0 96.2h0M357.2 96.2h0M351.6 96.0h0"/>
<path class="d2" d="M353.0 96.0h0M348.9 96.4h0M353.3 95.8h0M349.4 96.5h0M357.3 96.5h0M358.3 96.2h0"/>
<path class="d2" d="M348.6 96.2h0M357.9 96.5h0M353.6 96.1h0M353.4 96.3h0M348.8 96.1h0M357.4 96.2h0"/>
<path class="d2" d="M356.7 96.5h0M354.6 96.4h0M349.0 96.3h0M348.2 96.4h0M352.3 96.4h0M351.9 95.8h0"/>
<path class="d2" d="M354.6 96.6h0M351.5 96.5h0M357.9 96.0h0M357.9 96.7h0M351.9 95.8h0M352.4 96.2h0"/>
<path class="d2" d="M350.8 96.4h0M358.9 96.2h0M355.6 96.5h0M351.6 95.6h0M355.8 96.4h0M351.8 95.9h0"/>
<line x1="346.60" y1="96.22" x2="360.60" y2="96.22" stroke="#333" stroke-width="0.9"/>
<path class="d3" d="M352.5 141.0h0M352.9 137.6h0M350.5 142.0h0M355.4 137.7h0M351.5 137.6h0M348.9 139.3h0"/>
<path class="d3" d="M357.4 139.5h0M359.5 141.2h0M357.6 139.5h0M355.8 134.9h0M355.2 137.1h0M351.0 139.0h0"/>
<path class="d3" d="M350.5 139.1h0M357.3 137.6h0M355.5 140.7h0M359.4 137.6h0M359.8 139.6h0M357.9 138.8h0"/>
<path class="d3" d="M350.2 138.8h0M349.1 141.9h0M348.0 140.2h0M356.2 137.2h0M358.1 139.5h0M353.5 139.8h0"/>
<path class="d3" d="M357.4 137.3h0M353.0 140.6h0M347.4 141.3h0M349.0 141.0h0M351.9 139.2h0M354.1 137.3h0"/>
<path class="d3" d="M351.3 140.6h0M353.7 141.2h0M355.6 135.9h0M357.7 140.5h0M348.3 139.3h0M348.7 138.4h0"/>
<path class="d3" d="M359.0 136.4h0M348.6 139.2h0M357.0 141.4h0M349.1 144.1h0M349.4 140.5h0M347.2 140.7h0"/>
<path class="d3" d="M348.5 144.1h0M349.0 140.2h0M353.1 139.9h0M356.6 139.0h0M347.5 140.0h0M349.7 139.3h0"/>
<path class="d3" d="M353.6 141.8h0M348.4 143.6h0M348.5 138.9h0M348.6 137.3h0M350.2 143.1h0M358.6 137.8h0"/>
<path class="d3" d="M350.0 137.8h0M349.5 141.0h0M358.3 141.4h0M349.8 142.8h0M351.1 139.8h0M350.9 139.2h0"/>
<path class="d3" d="M360.0 138.8h0M351.1 138.8h0M353.2 142.0h0M354.8 139.4h0M348.1 141.9h0M355.3 139.4h0"/>
<path class="d3" d="M351.2 141.1h0M353.1 142.4h0M347.8 138.2h0M351.5 142.6h0M352.3 137.8h0M352.2 136.5h0"/>
<path class="d3" d="M356.4 139.0h0M355.3 137.1h0M355.2 139.0h0M347.8 137.3h0M355.2 139.0h0M349.0 139.7h0"/>
<path class="d3" d="M350.0 136.3h0M353.6 140.3h0M355.7 137.1h0M355.4 142.8h0M353.8 139.6h0M355.1 144.1h0"/>
<path class="d3" d="M349.9 138.7h0M354.6 141.8h0M356.8 141.4h0M358.9 136.7h0M359.2 139.1h0M356.6 139.1h0"/>
<path class="d3" d="M359.5 135.5h0M349.1 139.5h0M357.0 138.3h0M348.6 136.7h0M349.7 138.0h0M352.8 139.9h0"/>
<path class="d3" d="M348.1 139.0h0M347.5 138.6h0M357.2 137.5h0M357.1 136.8h0"/>
<rect x="346.80" y="137.45" width="13.60" height="3.59" fill="none" stroke="#666" stroke-width="0.6" fill-opacity="0"/>
<line x1="346.80" y1="139.41" x2="360.40" y2="139.41" stroke="#333" stroke-width="0.9"/>
<line x1="326.40" y1="152.60" x2="326.40" y2="154.40" stroke="#555" stroke-width="0.6"/>
<line x1="353.60" y1="152.60" x2="353.60" y2="154.40" stroke="#555" stroke-width="0.6"/>
<text x="326.40" y="164.50" font-size="8" text-anchor="middle" fill="#222">DMP-TD</text>
<text x="353.60" y="164.50" font-size="8" text-anchor="middle" fill="#222">TD</text>
<text x="332.30" y="149.60" font-size="8.1" text-anchor="middle" fill="#222">n = 100</text>
<text x="290.30" y="98.60" font-size="8.4" text-anchor="middle" fill="#222" transform="rotate(-90 290.3 98.6)">RMSE</text>
<line x1="284.25" y1="81.47" x2="289.98" y2="81.47" stroke="#222" stroke-width="0.65"/>
<path d="M292.38,81.47 L289.18,79.77 L289.78,81.47 L289.18,83.17 Z" fill="#222" stroke="none" stroke-width="1"/>
<rect x="398.60" y="36.90" width="51.40" height="116.20" fill="#fff" stroke="#555" stroke-width="0.9"/>
<line x1="398.60" y1="148.80" x2="400.10" y2="148.80" stroke="#555" stroke-width="0.6"/>
<text x="395.20" y="151.70" font-size="8" text-anchor="end" fill="#222">0.87</text>
<line x1="398.60" y1="134.20" x2="400.10" y2="134.20" stroke="#555" stroke-width="0.6"/>
<text x="395.20" y="137.10" font-size="8" text-anchor="end" fill="#222">0.88</text>
<line x1="398.60" y1="119.60" x2="400.10" y2="119.60" stroke="#555" stroke-width="0.6"/>
<text x="395.20" y="122.50" font-size="8" text-anchor="end" fill="#222">0.89</text>
<line x1="398.60" y1="105.00" x2="400.10" y2="105.00" stroke="#555" stroke-width="0.6"/>
<text x="395.20" y="107.90" font-size="8" text-anchor="end" fill="#222">0.9</text>
<line x1="398.60" y1="90.40" x2="400.10" y2="90.40" stroke="#555" stroke-width="0.6"/>
<text x="395.20" y="93.30" font-size="8" text-anchor="end" fill="#222">0.91</text>
<line x1="398.60" y1="75.80" x2="400.10" y2="75.80" stroke="#555" stroke-width="0.6"/>
<text x="395.20" y="78.70" font-size="8" text-anchor="end" fill="#222">0.92</text>
<line x1="398.60" y1="61.20" x2="400.10" y2="61.20" stroke="#555" stroke-width="0.6"/>
<text x="395.20" y="64.10" font-size="8" text-anchor="end" fill="#222">0.93</text>
<line x1="398.60" y1="46.60" x2="400.10" y2="46.60" stroke="#555" stroke-width="0.6"/>
<text x="395.20" y="49.50" font-size="8" text-anchor="end" fill="#222">0.94</text>
<path class="d2" d="M412.5 73.4h0M410.8 72.8h0M414.4 73.9h0M411.1 72.3h0M405.5 75.2h0M409.6 74.4h0"/>
<path class="d2" d="M414.2 74.7h0M408.1 74.6h0M416.5 74.3h0M413.6 74.0h0M405.9 73.2h0M409.1 75.5h0"/>
<path class="d2" d="M416.0 74.9h0M409.6 74.3h0M406.9 73.1h0M415.7 72.6h0M409.3 75.8h0M410.8 73.9h0"/>
<path class="d2" d="M415.0 74.2h0M408.1 74.0h0M416.2 74.2h0M415.3 75.1h0M411.9 74.3h0M413.5 76.3h0"/>
<path class="d2" d="M414.6 73.4h0M407.7 73.4h0M410.0 72.2h0M409.5 75.5h0M416.4 75.4h0M409.8 74.0h0"/>
<path class="d2" d="M413.4 73.8h0M416.4 74.3h0M411.6 75.7h0M413.7 74.3h0M411.6 74.1h0M412.3 72.8h0"/>
<path class="d2" d="M409.3 74.0h0M415.7 73.7h0M408.9 75.2h0M406.6 73.0h0M414.0 72.4h0M409.6 73.5h0"/>
<path class="d2" d="M415.4 75.1h0M416.0 75.9h0M416.1 77.3h0M412.0 72.4h0M409.6 73.3h0M408.2 75.2h0"/>
<path class="d2" d="M406.3 73.8h0M414.4 74.8h0M414.7 74.1h0M406.1 75.7h0M410.1 74.4h0M407.4 73.4h0"/>
<path class="d2" d="M415.4 73.4h0M416.3 73.9h0M408.3 74.4h0M416.0 75.7h0M405.8 76.2h0M407.8 74.6h0"/>
<path class="d2" d="M415.2 73.2h0M412.1 76.1h0M414.8 75.7h0M408.9 73.6h0M414.0 75.3h0M405.6 74.5h0"/>
<path class="d2" d="M405.8 75.5h0M412.0 77.0h0M411.9 75.8h0M408.3 76.1h0"/>
<line x1="404.00" y1="74.34" x2="418.00" y2="74.34" stroke="#333" stroke-width="0.9"/>
<path class="d1" d="M404.8 136.0h0M417.5 139.3h0M413.0 137.6h0M409.0 136.3h0M417.0 135.9h0M408.7 140.8h0"/>
<path class="d1" d="M413.4 147.6h0M416.5 145.2h0M416.0 139.0h0M412.2 140.0h0M415.5 139.7h0M412.1 135.7h0"/>
<path class="d1" d="M417.0 130.9h0M411.9 141.7h0M407.9 140.7h0M416.9 144.9h0M416.9 141.8h0M413.0 130.8h0"/>
<path class="d1" d="M413.2 132.9h0M406.9 131.6h0M404.9 132.9h0M416.5 136.8h0M409.8 144.4h0M413.1 138.8h0"/>
<path class="d1" d="M409.4 135.0h0M412.1 140.6h0M411.6 140.5h0M410.1 132.4h0M405.6 141.3h0M417.5 143.8h0"/>
<path class="d1" d="M409.7 141.7h0M416.6 134.5h0M409.7 133.1h0M405.8 140.3h0M411.6 136.2h0M409.0 140.4h0"/>
<path class="d1" d="M407.0 140.7h0M405.0 134.6h0M412.9 147.0h0M407.1 140.5h0M409.8 139.1h0M415.3 140.1h0"/>
<path class="d1" d="M415.5 133.9h0M411.0 141.1h0M417.4 144.9h0M414.2 139.5h0M412.9 146.2h0M409.1 137.3h0"/>
<path class="d1" d="M412.4 136.7h0M416.8 147.3h0M412.7 132.9h0M408.9 137.9h0M410.1 135.1h0M408.0 132.1h0"/>
<path class="d1" d="M409.1 126.4h0M406.0 135.3h0M415.8 137.8h0M406.8 135.0h0M410.6 138.9h0M407.2 136.4h0"/>
<path class="d1" d="M416.5 143.0h0M415.3 132.1h0M415.5 134.0h0M404.9 137.5h0M409.5 137.0h0M414.3 133.2h0"/>
<path class="d1" d="M407.7 139.7h0M407.5 143.9h0M413.2 138.8h0M406.6 136.8h0M405.2 133.2h0M411.0 143.0h0"/>
<path class="d1" d="M410.8 139.7h0M404.9 139.4h0M412.7 138.5h0M417.3 139.0h0M411.4 136.6h0M406.3 141.5h0"/>
<path class="d1" d="M415.1 143.9h0M404.6 130.5h0M406.8 143.6h0M414.9 133.9h0M409.2 133.8h0M415.5 142.4h0"/>
<path class="d1" d="M408.1 141.7h0M406.6 138.8h0M413.6 135.5h0M415.1 143.5h0M409.8 135.5h0M415.9 139.1h0"/>
<path class="d1" d="M413.0 138.2h0M407.0 143.3h0M409.4 137.8h0M407.6 137.3h0M406.5 151.2h0M411.7 140.0h0"/>
<path class="d1" d="M411.4 134.3h0M414.5 143.5h0M413.4 127.0h0M415.0 137.0h0"/>
<rect x="404.20" y="135.66" width="13.60" height="5.11" fill="none" stroke="#666" stroke-width="0.6" fill-opacity="0"/>
<line x1="404.20" y1="138.58" x2="417.80" y2="138.58" stroke="#333" stroke-width="0.9"/>
<path class="d2" d="M441.4 40.4h0M432.5 42.1h0M437.4 41.9h0M433.0 41.8h0M434.0 41.3h0M436.6 41.0h0"/>
<path class="d2" d="M439.4 41.3h0M436.2 41.5h0M435.5 42.3h0M432.2 41.6h0M438.8 41.3h0M438.4 42.2h0"/>
<path class="d2" d="M440.0 41.0h0M435.7 41.6h0M435.1 42.2h0M432.5 41.8h0M438.1 42.3h0M436.5 41.4h0"/>
<path class="d2" d="M433.6 41.7h0M435.2 41.7h0M432.9 41.4h0M432.7 41.8h0M437.9 41.1h0M440.6 41.4h0"/>
<path class="d2" d="M434.8 41.7h0M435.0 41.1h0M434.4 41.4h0M432.8 42.1h0M440.7 41.3h0M434.2 42.3h0"/>
<path class="d2" d="M438.1 42.6h0M442.0 41.8h0M432.2 40.8h0M436.2 40.3h0M439.2 40.6h0M442.3 41.4h0"/>
<path class="d2" d="M437.5 41.1h0M442.5 42.7h0M442.3 41.5h0M435.7 42.0h0M436.7 41.4h0M433.8 41.3h0"/>
<path class="d2" d="M434.0 40.3h0M432.7 42.0h0M437.6 41.8h0M440.5 41.5h0M441.5 41.5h0M436.5 41.0h0"/>
<path class="d2" d="M440.6 42.1h0M441.4 40.6h0M439.2 41.7h0M440.7 42.0h0M434.8 41.7h0M436.1 41.8h0"/>
<path class="d2" d="M437.6 41.4h0M440.7 42.1h0M435.3 40.9h0M437.8 41.0h0M442.1 41.3h0M432.5 41.8h0"/>
<line x1="430.10" y1="41.49" x2="444.10" y2="41.49" stroke="#333" stroke-width="0.9"/>
<path class="d1" d="M433.0 112.2h0M443.6 116.5h0M431.8 109.3h0M440.5 106.5h0M440.0 108.0h0M440.6 106.9h0"/>
<path class="d1" d="M443.4 116.6h0M432.1 108.6h0M440.2 118.5h0M436.4 111.7h0M431.7 113.4h0M440.5 103.7h0"/>
<path class="d1" d="M434.8 109.8h0M434.6 112.3h0M442.2 113.7h0M442.6 111.6h0M431.5 113.5h0M431.9 104.9h0"/>
<path class="d1" d="M441.2 113.6h0M443.5 115.6h0M440.3 109.3h0M442.6 112.7h0M432.6 107.9h0M432.5 108.9h0"/>
<path class="d1" d="M443.3 115.4h0M432.3 110.3h0M440.5 121.4h0M437.5 111.2h0M434.0 110.6h0M439.0 106.5h0"/>
<path class="d1" d="M440.9 112.7h0M435.8 113.3h0M433.9 116.5h0M433.0 109.7h0M442.0 113.8h0M433.8 112.3h0"/>
<path class="d1" d="M436.5 111.6h0M434.7 110.1h0M431.1 115.8h0M443.5 109.2h0M437.6 112.2h0M438.1 116.3h0"/>
<path class="d1" d="M433.5 113.4h0M434.5 109.2h0M442.4 111.6h0M441.0 108.2h0M434.0 111.2h0M437.7 111.3h0"/>
<path class="d1" d="M438.8 112.0h0M442.4 113.8h0M440.5 111.2h0M434.7 107.9h0M430.9 111.4h0M436.6 113.9h0"/>
<path class="d1" d="M441.6 106.0h0M437.5 108.6h0M436.4 109.1h0M432.9 112.1h0M431.3 105.4h0M442.7 109.1h0"/>
<path class="d1" d="M431.2 115.3h0M442.4 112.5h0M433.0 110.5h0M432.4 112.2h0M441.0 112.1h0M437.1 110.9h0"/>
<path class="d1" d="M439.1 111.5h0M436.5 113.1h0M443.5 112.7h0M441.6 113.4h0M433.1 109.4h0M432.6 113.3h0"/>
<path class="d1" d="M434.3 105.4h0M441.9 104.9h0M433.8 110.4h0M434.6 106.6h0M442.9 110.9h0M433.7 115.0h0"/>
<path class="d1" d="M433.4 111.0h0M443.3 109.7h0M435.0 114.0h0M440.5 112.2h0M431.2 111.5h0M432.9 112.5h0"/>
<path class="d1" d="M433.5 108.8h0M433.6 115.4h0M440.3 112.5h0M433.7 106.5h0M442.9 111.9h0M437.8 108.9h0"/>
<path class="d1" d="M438.8 108.7h0M438.0 111.7h0M433.6 108.2h0M441.2 112.0h0M434.9 107.3h0M431.7 111.9h0"/>
<path class="d1" d="M435.2 117.4h0M436.4 108.4h0M432.0 112.9h0M437.3 111.7h0"/>
<rect x="430.30" y="108.65" width="13.60" height="4.38" fill="none" stroke="#666" stroke-width="0.6" fill-opacity="0"/>
<line x1="430.30" y1="110.84" x2="443.90" y2="110.84" stroke="#333" stroke-width="0.9"/>
<line x1="411.00" y1="153.10" x2="411.00" y2="154.90" stroke="#555" stroke-width="0.6"/>
<line x1="437.10" y1="153.10" x2="437.10" y2="154.90" stroke="#555" stroke-width="0.6"/>
<text x="411.00" y="165.00" font-size="8" text-anchor="middle" fill="#222">DMP-TD</text>
<text x="437.10" y="165.00" font-size="8" text-anchor="middle" fill="#222">TD</text>
<text x="434.30" y="149.80" font-size="8.1" text-anchor="middle" fill="#222">n = 100</text>
<text x="376.60" y="99.40" font-size="8.2" text-anchor="middle" fill="#222" transform="rotate(-90 376.6 99.4)">PCC</text>
<line x1="372.70" y1="85.74" x2="378.24" y2="85.74" stroke="#222" stroke-width="0.65"/>
<path d="M370.30,85.74 L373.50,84.04 L372.90,85.74 L373.50,87.44 Z" fill="#222" stroke="none" stroke-width="1"/>
<text x="454.60" y="10.80" font-size="14" text-anchor="start" fill="#000" font-weight="bold">c</text>
<line x1="493.60" y1="12.90" x2="493.60" y2="151.30" stroke="#333" stroke-width="0.9"/>
<line x1="493.60" y1="151.30" x2="680.30" y2="151.30" stroke="#333" stroke-width="0.9"/>
<line x1="491.60" y1="151.30" x2="493.60" y2="151.30" stroke="#333" stroke-width="0.7"/>
<text x="489.00" y="154.30" font-size="8.5" text-anchor="end" fill="#222">0</text>
<line x1="491.60" y1="120.66" x2="493.60" y2="120.66" stroke="#333" stroke-width="0.7"/>
<text x="489.00" y="123.66" font-size="8.5" text-anchor="end" fill="#222">0.02</text>
<line x1="491.60" y1="90.02" x2="493.60" y2="90.02" stroke="#333" stroke-width="0.7"/>
<text x="489.00" y="93.02" font-size="8.5" text-anchor="end" fill="#222">0.04</text>
<line x1="491.60" y1="59.38" x2="493.60" y2="59.38" stroke="#333" stroke-width="0.7"/>
<text x="489.00" y="62.38" font-size="8.5" text-anchor="end" fill="#222">0.06</text>
<line x1="491.60" y1="28.74" x2="493.60" y2="28.74" stroke="#333" stroke-width="0.7"/>
<text x="489.00" y="31.74" font-size="8.5" text-anchor="end" fill="#222">0.08</text>
<line x1="523.30" y1="151.30" x2="523.30" y2="153.30" stroke="#333" stroke-width="0.7"/>
<line x1="586.60" y1="151.30" x2="586.60" y2="153.30" stroke="#333" stroke-width="0.7"/>
<line x1="650.40" y1="151.30" x2="650.40" y2="153.30" stroke="#333" stroke-width="0.7"/>
<rect x="507.90" y="95.38" width="12.80" height="55.92" fill="#edb120" stroke="none" stroke-width="1"/>
<rect x="526.00" y="101.51" width="12.80" height="49.79" fill="#0072bd" stroke="none" stroke-width="1"/>
<line x1="514.30" y1="91.55" x2="514.30" y2="99.21" stroke="#222" stroke-width="0.8"/>
<line x1="511.70" y1="91.55" x2="516.90" y2="91.55" stroke="#222" stroke-width="0.8"/>
<line x1="511.70" y1="99.21" x2="516.90" y2="99.21" stroke="#222" stroke-width="0.8"/>
<line x1="532.40" y1="98.45" x2="532.40" y2="104.57" stroke="#222" stroke-width="0.8"/>
<line x1="529.80" y1="98.45" x2="535.00" y2="98.45" stroke="#222" stroke-width="0.8"/>
<line x1="529.80" y1="104.57" x2="535.00" y2="104.57" stroke="#222" stroke-width="0.8"/>
<rect x="571.10" y="71.18" width="12.80" height="80.12" fill="#edb120" stroke="none" stroke-width="1"/>
<rect x="589.50" y="74.39" width="12.80" height="76.91" fill="#0072bd" stroke="none" stroke-width="1"/>
<line x1="577.50" y1="70.26" x2="577.50" y2="72.10" stroke="#222" stroke-width="0.8"/>
<line x1="574.90" y1="70.26" x2="580.10" y2="70.26" stroke="#222" stroke-width="0.8"/>
<line x1="574.90" y1="72.10" x2="580.10" y2="72.10" stroke="#222" stroke-width="0.8"/>
<line x1="595.90" y1="73.47" x2="595.90" y2="75.31" stroke="#222" stroke-width="0.8"/>
<line x1="593.30" y1="73.47" x2="598.50" y2="73.47" stroke="#222" stroke-width="0.8"/>
<line x1="593.30" y1="75.31" x2="598.50" y2="75.31" stroke="#222" stroke-width="0.8"/>
<rect x="635.00" y="32.42" width="12.80" height="118.88" fill="#edb120" stroke="none" stroke-width="1"/>
<rect x="653.00" y="36.86" width="12.80" height="114.44" fill="#0072bd" stroke="none" stroke-width="1"/>
<line x1="641.40" y1="31.04" x2="641.40" y2="33.80" stroke="#222" stroke-width="0.8"/>
<line x1="638.80" y1="31.04" x2="644.00" y2="31.04" stroke="#222" stroke-width="0.8"/>
<line x1="638.80" y1="33.80" x2="644.00" y2="33.80" stroke="#222" stroke-width="0.8"/>
<line x1="659.40" y1="35.48" x2="659.40" y2="38.24" stroke="#222" stroke-width="0.8"/>
<line x1="656.80" y1="35.48" x2="662.00" y2="35.48" stroke="#222" stroke-width="0.8"/>
<line x1="656.80" y1="38.24" x2="662.00" y2="38.24" stroke="#222" stroke-width="0.8"/>
<text x="523.30" y="165.10" font-size="8.5" text-anchor="middle" fill="#222">Normal fraction</text>
<text x="586.60" y="165.10" font-size="8.5" text-anchor="middle" fill="#222">Tumor fraction</text>
<text x="650.40" y="165.10" font-size="8.5" text-anchor="middle" fill="#222">Source fraction</text>
<text x="468.00" y="86.50" font-size="8.8" text-anchor="middle" fill="#222" transform="rotate(-90 468.0 86.5)">RMSE</text>
<line x1="461.66" y1="68.79" x2="467.76" y2="68.79" stroke="#222" stroke-width="0.65"/>
<path d="M470.16,68.79 L466.96,67.09 L467.56,68.79 L466.96,70.49 Z" fill="#222" stroke="none" stroke-width="1"/>
<rect x="498.40" y="15.90" width="116.00" height="21.50" fill="#fff" stroke="#555" stroke-width="0.8"/>
<rect x="500.20" y="18.10" width="13.80" height="7.40" fill="#edb120" stroke="none" stroke-width="1"/>
<rect x="500.20" y="28.40" width="13.80" height="7.20" fill="#0072bd" stroke="none" stroke-width="1"/>
<text x="515.40" y="24.70" font-size="7.7" text-anchor="start" fill="#222">Only TS markers, n = 100</text>
<text x="515.40" y="34.50" font-size="7.7" text-anchor="start" fill="#222">TD and TS markers, n = 100</text>
<text x="502.30" y="78.60" font-size="8.0" text-anchor="start" fill="#222"><tspan font-style="italic">p</tspan>=1.09×10<tspan dy="-3.6" font-size="5.6">-136</tspan></text>
<path d="M514.6,83 V80.4 H533.3 V83" fill="none" stroke="#555" stroke-width="0.7"/>
<text x="564.00" y="56.60" font-size="8.0" text-anchor="start" fill="#222"><tspan font-style="italic">p</tspan>=4.41×10<tspan dy="-3.6" font-size="5.6">-223</tspan></text>
<path d="M577.3,62 V58.6 H596.5 V62" fill="none" stroke="#555" stroke-width="0.7"/>
<text x="629.80" y="22.50" font-size="8.0" text-anchor="start" fill="#222"><tspan font-style="italic">p</tspan>=1.49×10<tspan dy="-3.6" font-size="5.6">-219</tspan></text>
<path d="M640.7,27.8 V24.5 H659.6 V27.8" fill="none" stroke="#555" stroke-width="0.7"/>
<text x="-0.30" y="180.00" font-size="14" text-anchor="start" fill="#000" font-weight="bold">d</text>
<rect x="45.20" y="190.10" width="167.30" height="123.00" fill="none" stroke="#555" stroke-width="0.9"/>
<line x1="43.20" y1="191.30" x2="45.20" y2="191.30" stroke="#555" stroke-width="0.7"/>
<text x="41.00" y="194.10" font-size="8.6" text-anchor="end" fill="#222">0.09</text>
<line x1="43.20" y1="210.41" x2="45.20" y2="210.41" stroke="#555" stroke-width="0.7"/>
<text x="41.00" y="213.21" font-size="8.6" text-anchor="end" fill="#222">0.085</text>
<line x1="43.20" y1="229.53" x2="45.20" y2="229.53" stroke="#555" stroke-width="0.7"/>
<text x="41.00" y="232.33" font-size="8.6" text-anchor="end" fill="#222">0.08</text>
<line x1="43.20" y1="248.65" x2="45.20" y2="248.65" stroke="#555" stroke-width="0.7"/>
<text x="41.00" y="251.45" font-size="8.6" text-anchor="end" fill="#222">0.075</text>
<line x1="43.20" y1="267.76" x2="45.20" y2="267.76" stroke="#555" stroke-width="0.7"/>
<text x="41.00" y="270.56" font-size="8.6" text-anchor="end" fill="#222">0.07</text>
<line x1="43.20" y1="286.88" x2="45.20" y2="286.88" stroke="#555" stroke-width="0.7"/>
<text x="41.00" y="289.68" font-size="8.6" text-anchor="end" fill="#222">0.065</text>
<line x1="43.20" y1="305.99" x2="45.20" y2="305.99" stroke="#555" stroke-width="0.7"/>
<text x="41.00" y="308.79" font-size="8.6" text-anchor="end" fill="#222">0.06</text>
<line x1="77.10" y1="313.10" x2="77.10" y2="315.10" stroke="#555" stroke-width="0.7"/>
<text x="77.10" y="327.20" font-size="8.6" text-anchor="middle" fill="#222">2</text>
<line x1="118.80" y1="313.10" x2="118.80" y2="315.10" stroke="#555" stroke-width="0.7"/>
<text x="118.80" y="327.20" font-size="8.6" text-anchor="middle" fill="#222">5</text>
<line x1="160.50" y1="313.10" x2="160.50" y2="315.10" stroke="#555" stroke-width="0.7"/>
<text x="160.50" y="327.20" font-size="8.6" text-anchor="middle" fill="#222">10</text>
<line x1="202.20" y1="313.10" x2="202.20" y2="315.10" stroke="#555" stroke-width="0.7"/>
<text x="202.20" y="327.20" font-size="8.6" text-anchor="middle" fill="#222">20</text>
<path d="M56.1,196.5 L77.1,243.8 L97.8,272.8 L118.8,285.9 L139.8,295.2 L160.5,294.3 L181.3,291.7 L202.3,277.5" fill="none" stroke="#333" stroke-width="0.7"/>
<path d="M53.90,196.50 L56.10,193.60 L58.30,196.50 L56.10,199.40 Z" fill="#0072bd" stroke="none" stroke-width="1"/>
<path d="M74.90,243.80 L77.10,240.90 L79.30,243.80 L77.10,246.70 Z" fill="#0072bd" stroke="none" stroke-width="1"/>
<path d="M95.60,272.80 L97.80,269.90 L100.00,272.80 L97.80,275.70 Z" fill="#0072bd" stroke="none" stroke-width="1"/>
<path d="M116.60,285.90 L118.80,283.00 L121.00,285.90 L118.80,288.80 Z" fill="#0072bd" stroke="none" stroke-width="1"/>
<path d="M137.60,295.20 L139.80,292.30 L142.00,295.20 L139.80,298.10 Z" fill="#0072bd" stroke="none" stroke-width="1"/>
<path d="M158.30,294.30 L160.50,291.40 L162.70,294.30 L160.50,297.20 Z" fill="#0072bd" stroke="none" stroke-width="1"/>
<path d="M179.10,291.70 L181.30,288.80 L183.50,291.70 L181.30,294.60 Z" fill="#0072bd" stroke="none" stroke-width="1"/>
<path d="M200.10,277.50 L202.30,274.60 L204.50,277.50 L202.30,280.40 Z" fill="#0072bd" stroke="none" stroke-width="1"/>
<text x="62.20" y="199.60" font-size="8.8" text-anchor="start" fill="#222">P=2, Q<tspan dy="3.1" font-size="7.2">t</tspan><tspan dy="-3.1">=4</tspan></text>
<text x="80.60" y="245.40" font-size="8.8" text-anchor="start" fill="#222">P=1, Q<tspan dy="3.1" font-size="7.2">t</tspan><tspan dy="-3.1">=4</tspan></text>
<text x="99.90" y="268.20" font-size="8.8" text-anchor="start" fill="#222">P=2, Q<tspan dy="3.1" font-size="7.2">t</tspan><tspan dy="-3.1">=7</tspan></text>
<text x="74.50" y="290.00" font-size="8.8" text-anchor="start" fill="#222">P=2, Q<tspan dy="3.1" font-size="7.2">t</tspan><tspan dy="-3.1">=7</tspan></text>
<text x="118.80" y="304.00" font-size="8.8" text-anchor="start" fill="#2323e6">P=2, Q<tspan dy="3.1" font-size="7.2">t</tspan><tspan dy="-3.1">=7</tspan></text>
<text x="140.70" y="287.40" font-size="8.8" text-anchor="start" fill="#222">P=3, Q<tspan dy="3.1" font-size="7.2">t</tspan><tspan dy="-3.1">=9</tspan></text>
<text x="170.40" y="300.50" font-size="8.8" text-anchor="start" fill="#222">P=3, Q<tspan dy="3.1" font-size="7.2">t</tspan><tspan dy="-3.1">=9</tspan></text>
<text x="170.40" y="268.20" font-size="8.8" text-anchor="start" fill="#222">P=3, Q<tspan dy="3.1" font-size="7.2">t</tspan><tspan dy="-3.1">=9</tspan></text>
<text x="129.10" y="339.00" font-size="9.6" text-anchor="middle" fill="#222">Marker number</text>
<text x="15.30" y="255.40" font-size="9.6" text-anchor="middle" fill="#222" transform="rotate(-90 15.3 255.4)">Minimum RMSE</text>
<line x1="8.39" y1="216.53" x2="15.22" y2="216.53" stroke="#222" stroke-width="0.65"/>
<path d="M17.62,216.53 L14.42,214.83 L15.02,216.53 L14.42,218.23 Z" fill="#222" stroke="none" stroke-width="1"/>
<text x="217.90" y="180.00" font-size="14" text-anchor="start" fill="#000" font-weight="bold">e</text>
<rect x="257.40" y="185.50" width="192.90" height="58.70" fill="none" stroke="#555" stroke-width="0.9"/>
<rect x="257.40" y="257.40" width="192.90" height="58.80" fill="none" stroke="#555" stroke-width="0.9"/>
<line x1="255.40" y1="198.80" x2="257.40" y2="198.80" stroke="#555" stroke-width="0.7"/>
<text x="253.20" y="201.90" font-size="8.6" text-anchor="end" fill="#222">0.1</text>
<line x1="255.40" y1="221.05" x2="257.40" y2="221.05" stroke="#555" stroke-width="0.7"/>
<text x="253.20" y="224.15" font-size="8.6" text-anchor="end" fill="#222">0.08</text>
<line x1="255.40" y1="243.30" x2="257.40" y2="243.30" stroke="#555" stroke-width="0.7"/>
<text x="253.20" y="246.40" font-size="8.6" text-anchor="end" fill="#222">0.06</text>
<line x1="255.40" y1="268.40" x2="257.40" y2="268.40" stroke="#555" stroke-width="0.7"/>
<text x="253.20" y="271.50" font-size="8.6" text-anchor="end" fill="#222">0.9</text>
<line x1="255.40" y1="286.10" x2="257.40" y2="286.10" stroke="#555" stroke-width="0.7"/>
<text x="253.20" y="289.20" font-size="8.6" text-anchor="end" fill="#222">0.85</text>
<line x1="255.40" y1="303.80" x2="257.40" y2="303.80" stroke="#555" stroke-width="0.7"/>
<text x="253.20" y="306.90" font-size="8.6" text-anchor="end" fill="#222">0.8</text>
<line x1="269.30" y1="244.20" x2="269.30" y2="246.20" stroke="#555" stroke-width="0.7"/>
<line x1="269.30" y1="316.20" x2="269.30" y2="318.20" stroke="#555" stroke-width="0.7"/>
<text x="269.30" y="330.10" font-size="8.6" text-anchor="middle" fill="#222">10</text>
<line x1="293.50" y1="244.20" x2="293.50" y2="246.20" stroke="#555" stroke-width="0.7"/>
<line x1="293.50" y1="316.20" x2="293.50" y2="318.20" stroke="#555" stroke-width="0.7"/>
<text x="293.50" y="330.10" font-size="8.6" text-anchor="middle" fill="#222">20</text>
<line x1="317.50" y1="244.20" x2="317.50" y2="246.20" stroke="#555" stroke-width="0.7"/>
<line x1="317.50" y1="316.20" x2="317.50" y2="318.20" stroke="#555" stroke-width="0.7"/>
<text x="317.50" y="330.10" font-size="8.6" text-anchor="middle" fill="#222">50</text>
<line x1="341.90" y1="244.20" x2="341.90" y2="246.20" stroke="#555" stroke-width="0.7"/>
<line x1="341.90" y1="316.20" x2="341.90" y2="318.20" stroke="#555" stroke-width="0.7"/>
<text x="341.90" y="330.10" font-size="8.6" text-anchor="middle" fill="#222">100</text>
<line x1="365.90" y1="244.20" x2="365.90" y2="246.20" stroke="#555" stroke-width="0.7"/>
<line x1="365.90" y1="316.20" x2="365.90" y2="318.20" stroke="#555" stroke-width="0.7"/>
<text x="365.90" y="330.10" font-size="8.6" text-anchor="middle" fill="#222">200</text>
<line x1="390.10" y1="244.20" x2="390.10" y2="246.20" stroke="#555" stroke-width="0.7"/>
<line x1="390.10" y1="316.20" x2="390.10" y2="318.20" stroke="#555" stroke-width="0.7"/>
<text x="390.10" y="330.10" font-size="8.6" text-anchor="middle" fill="#222">300</text>
<line x1="414.40" y1="244.20" x2="414.40" y2="246.20" stroke="#555" stroke-width="0.7"/>
<line x1="414.40" y1="316.20" x2="414.40" y2="318.20" stroke="#555" stroke-width="0.7"/>
<text x="414.40" y="330.10" font-size="8.6" text-anchor="middle" fill="#222">400</text>
<line x1="438.60" y1="244.20" x2="438.60" y2="246.20" stroke="#555" stroke-width="0.7"/>
<line x1="438.60" y1="316.20" x2="438.60" y2="318.20" stroke="#555" stroke-width="0.7"/>
<text x="438.60" y="330.10" font-size="8.6" text-anchor="middle" fill="#222">500</text>
<path class="d4" d="M271.3 199.6h0M268.7 198.0h0M268.9 195.5h0M267.7 188.8h0M271.8 199.5h0M267.8 203.5h0"/>
<path class="d4" d="M273.7 200.2h0M273.1 200.1h0M266.1 188.8h0M268.3 201.6h0M272.5 203.4h0M266.8 215.0h0"/>
<path class="d4" d="M265.8 215.6h0M273.8 201.3h0M269.4 214.7h0M270.2 212.9h0M268.0 212.1h0M271.8 206.2h0"/>
<path class="d4" d="M266.9 198.4h0M273.2 220.2h0M269.2 207.9h0M265.9 218.1h0M271.7 190.6h0M270.2 201.0h0"/>
<path class="d4" d="M270.7 203.6h0M269.9 198.2h0M266.4 203.8h0M268.3 217.4h0M268.4 206.9h0M269.1 207.4h0"/>
<path class="d4" d="M271.2 215.6h0M265.0 197.4h0M266.9 192.9h0M265.7 201.3h0M269.7 197.2h0M267.8 207.6h0"/>
<path class="d4" d="M266.9 209.9h0M273.4 202.8h0M273.9 197.0h0M266.4 209.9h0M268.3 201.3h0M273.4 205.8h0"/>
<path class="d4" d="M269.9 198.7h0M267.4 203.8h0M272.3 211.8h0M271.0 213.6h0M273.8 216.9h0M272.2 199.4h0"/>
<path class="d4" d="M271.5 204.4h0M269.4 205.3h0M266.6 201.4h0M267.1 199.3h0M270.6 213.3h0M265.6 198.0h0"/>
<path class="d4" d="M272.8 197.0h0M268.9 209.9h0M272.7 207.6h0M264.7 202.8h0M270.5 202.2h0M265.9 188.8h0"/>
<path class="d4" d="M270.1 213.3h0M268.2 195.6h0M265.5 188.8h0M273.2 191.5h0M271.6 201.2h0M267.9 222.1h0"/>
<path class="d4" d="M269.8 203.6h0M269.1 203.1h0M266.5 206.8h0M270.1 188.8h0M271.8 188.8h0M264.9 208.1h0"/>
<path class="d4" d="M264.7 210.0h0M272.9 207.6h0M272.9 200.1h0M273.4 200.3h0M271.8 203.7h0M273.4 201.7h0"/>
<path class="d4" d="M266.5 205.7h0M270.9 208.1h0M273.2 200.2h0M265.0 198.1h0M273.8 193.8h0M268.2 195.7h0"/>
<path class="d4" d="M266.3 204.5h0M273.1 205.5h0M267.0 199.4h0M266.2 198.8h0M265.4 203.8h0M268.1 207.8h0"/>
<path class="d4" d="M269.5 201.1h0M264.9 206.3h0M273.9 204.0h0M267.0 203.0h0M270.0 212.1h0M267.6 206.1h0"/>
<path class="d4" d="M271.6 211.3h0M266.9 212.2h0M265.5 193.4h0M270.4 201.8h0"/>
<rect x="263.20" y="197.91" width="12.20" height="10.68" fill="#fff" stroke="#444" stroke-width="0.6" fill-opacity="0.25"/>
<line x1="263.20" y1="204.92" x2="275.40" y2="204.92" stroke="#333" stroke-width="0.9"/>
<line x1="269.30" y1="188.79" x2="269.30" y2="197.91" stroke="#444" stroke-width="0.6"/>
<line x1="269.30" y1="208.59" x2="269.30" y2="222.16" stroke="#444" stroke-width="0.6"/>
<path class="d4" d="M297.5 224.8h0M295.1 224.2h0M295.3 223.1h0M298.0 221.9h0M296.1 221.3h0M294.8 225.2h0"/>
<path class="d4" d="M290.7 221.6h0M296.6 220.6h0M292.5 224.9h0M292.8 226.6h0M293.2 216.9h0M295.4 221.9h0"/>
<path class="d4" d="M289.1 222.9h0M295.3 220.9h0M293.3 223.8h0M297.1 225.7h0M295.2 225.2h0M292.0 221.8h0"/>
<path class="d4" d="M297.1 223.2h0M296.1 222.9h0M296.3 224.5h0M295.8 222.6h0M293.0 222.4h0M297.2 222.5h0"/>
<path class="d4" d="M289.4 224.3h0M289.3 226.9h0M296.6 224.6h0M290.7 218.9h0M291.8 207.7h0M288.9 214.1h0"/>
<path class="d4" d="M296.9 227.5h0M291.0 226.4h0M295.0 222.7h0M297.7 226.2h0M295.2 224.4h0M290.8 218.6h0"/>
<path class="d4" d="M292.0 221.7h0M295.2 225.2h0M292.2 221.7h0M293.9 215.0h0M291.0 224.9h0M293.1 220.3h0"/>
<path class="d4" d="M298.2 221.3h0M291.3 223.7h0M297.8 226.0h0M297.5 223.1h0M291.4 216.1h0M290.1 222.2h0"/>
<path class="d4" d="M295.3 207.9h0M298.0 223.8h0M292.0 220.2h0M292.7 223.7h0M291.0 224.8h0M291.0 209.7h0"/>
<path class="d4" d="M294.3 223.0h0M297.3 222.2h0M293.7 224.1h0M297.5 223.3h0M297.6 225.1h0M297.6 223.6h0"/>
<path class="d4" d="M290.0 221.0h0M295.5 213.0h0M294.5 222.7h0M289.3 223.2h0M291.6 224.2h0M295.6 220.7h0"/>
<path class="d4" d="M296.9 217.0h0M291.9 220.1h0M293.2 217.8h0M290.2 218.9h0M297.1 222.2h0M295.9 221.4h0"/>
<path class="d4" d="M293.7 222.0h0M294.4 220.3h0M294.9 224.3h0M297.7 224.4h0M298.1 225.5h0M289.6 223.0h0"/>
<path class="d4" d="M292.3 224.1h0M289.2 223.1h0M298.1 219.4h0M297.5 223.5h0M295.7 222.1h0M298.0 220.3h0"/>
<path class="d4" d="M292.5 224.0h0M293.7 227.0h0M296.9 228.7h0M288.9 211.2h0M291.5 224.2h0M297.7 215.7h0"/>
<path class="d4" d="M289.4 223.4h0M293.9 223.2h0M293.1 224.5h0M289.5 209.8h0M295.5 222.5h0M297.8 228.0h0"/>
<path class="d4" d="M289.3 223.7h0M294.3 227.4h0M293.8 221.7h0M291.5 223.4h0"/>
<rect x="287.40" y="221.83" width="12.20" height="3.12" fill="#fff" stroke="#444" stroke-width="0.6" fill-opacity="0.25"/>
<line x1="287.40" y1="223.50" x2="299.60" y2="223.50" stroke="#333" stroke-width="0.9"/>
<line x1="293.50" y1="217.16" x2="293.50" y2="221.83" stroke="#444" stroke-width="0.6"/>
<line x1="293.50" y1="224.94" x2="293.50" y2="229.62" stroke="#444" stroke-width="0.6"/>
<path class="d4" d="M319.5 229.6h0M318.1 237.2h0M317.7 228.4h0M319.7 235.5h0M320.4 232.3h0M317.5 236.3h0"/>
<path class="d4" d="M317.8 238.8h0M319.1 231.8h0M313.6 231.0h0M319.9 237.1h0M316.5 230.3h0M318.3 233.0h0"/>
<path class="d4" d="M316.9 235.7h0M321.2 237.9h0M318.8 235.9h0M318.7 242.2h0M319.2 233.1h0M321.4 238.8h0"/>
<path class="d4" d="M317.8 231.2h0M321.7 230.6h0M314.4 235.3h0M316.4 228.8h0M319.3 231.8h0M319.0 232.5h0"/>
<path class="d4" d="M316.7 235.5h0M313.5 232.3h0M314.2 231.7h0M315.8 233.2h0M316.7 233.3h0M319.8 234.5h0"/>
<path class="d4" d="M317.2 232.5h0M320.8 232.5h0M314.9 240.4h0M316.5 232.9h0M321.9 233.5h0M315.4 232.1h0"/>
<path class="d4" d="M321.5 233.7h0M321.9 229.9h0M315.4 237.0h0M319.7 237.5h0M321.8 233.8h0M317.3 228.7h0"/>
<path class="d4" d="M321.8 233.3h0M317.1 235.6h0M314.1 233.1h0M318.0 230.3h0M317.4 234.4h0M319.9 233.4h0"/>
<path class="d4" d="M313.0 235.0h0M317.2 238.8h0M321.3 234.8h0M318.0 230.9h0M319.9 233.9h0M314.7 236.1h0"/>
<path class="d4" d="M322.0 233.2h0M316.0 225.5h0M315.0 237.7h0M314.7 234.1h0M317.4 230.7h0M313.6 231.4h0"/>
<path class="d4" d="M312.9 229.9h0M322.2 232.9h0M322.0 229.7h0M316.5 225.9h0M317.0 233.5h0M314.9 239.0h0"/>
<path class="d4" d="M320.4 230.5h0M321.4 234.9h0M318.8 240.7h0M320.9 234.9h0M315.3 233.3h0M313.0 235.2h0"/>
<path class="d4" d="M320.6 233.3h0M319.3 229.7h0M321.5 225.9h0M315.1 235.8h0M320.5 236.4h0M315.4 229.9h0"/>
<path class="d4" d="M313.7 230.6h0M319.2 235.1h0M317.2 230.8h0M319.8 239.0h0M315.8 229.8h0M319.6 232.8h0"/>
<path class="d4" d="M316.4 238.1h0M314.2 231.8h0M318.4 230.9h0M313.1 234.7h0M320.8 237.8h0M319.8 234.6h0"/>
<path class="d4" d="M316.2 237.2h0M318.9 230.9h0M314.3 232.7h0M316.4 236.1h0M320.4 230.7h0M319.7 232.0h0"/>
<path class="d4" d="M322.0 232.6h0M315.9 234.9h0M321.1 231.1h0M314.5 229.5h0"/>
<rect x="311.40" y="232.18" width="12.20" height="4.45" fill="#fff" stroke="#444" stroke-width="0.6" fill-opacity="0.25"/>
<line x1="311.40" y1="234.62" x2="323.60" y2="234.62" stroke="#333" stroke-width="0.9"/>
<line x1="317.50" y1="225.50" x2="317.50" y2="232.18" stroke="#444" stroke-width="0.6"/>
<line x1="317.50" y1="236.62" x2="317.50" y2="242.19" stroke="#444" stroke-width="0.6"/>
<path class="d4" d="M344.1 230.3h0M337.9 233.7h0M345.6 234.4h0M338.3 234.1h0M337.4 231.6h0M338.2 232.3h0"/>
<path class="d4" d="M341.0 231.0h0M344.0 230.9h0M345.0 237.4h0M340.7 230.9h0M341.7 239.0h0M339.8 236.5h0"/>
<path class="d4" d="M345.6 231.6h0M343.9 225.5h0M341.1 227.2h0M338.1 233.3h0M343.8 232.0h0M346.5 230.6h0"/>
<path class="d4" d="M344.5 231.6h0M342.8 233.9h0M344.9 235.5h0M341.4 230.1h0M342.3 229.5h0M343.1 232.2h0"/>
<path class="d4" d="M343.3 232.9h0M341.7 230.6h0M340.3 235.0h0M345.2 230.3h0M345.9 240.0h0M340.6 235.0h0"/>
<path class="d4" d="M345.4 233.0h0M343.6 233.9h0M337.8 234.7h0M338.7 227.5h0M339.9 235.9h0M344.2 231.8h0"/>
<path class="d4" d="M339.5 234.9h0M340.3 236.0h0M341.1 233.7h0M343.6 230.2h0M345.4 229.7h0M337.3 232.9h0"/>
<path class="d4" d="M339.4 233.4h0M339.6 237.3h0M342.4 223.6h0M342.2 222.2h0M344.6 231.2h0M339.5 233.3h0"/>
<path class="d4" d="M344.4 238.2h0M341.7 232.0h0M343.5 237.7h0M346.5 235.1h0M338.2 236.0h0M339.9 234.2h0"/>
<path class="d4" d="M341.5 229.6h0M337.4 233.2h0M342.1 234.2h0M340.5 229.7h0M339.0 234.4h0M341.5 230.2h0"/>
<path class="d4" d="M339.8 230.8h0M343.5 235.5h0M343.5 231.1h0M346.3 232.5h0M344.9 237.3h0M343.2 232.9h0"/>
<path class="d4" d="M341.1 231.8h0M343.2 233.0h0M343.4 231.3h0M341.2 237.3h0M345.6 233.4h0M337.6 232.0h0"/>
<path class="d4" d="M340.6 230.3h0M344.0 232.5h0M339.7 227.7h0M346.2 234.2h0M339.9 234.9h0M342.8 232.2h0"/>
<path class="d4" d="M341.6 227.9h0M339.4 229.2h0M341.4 235.7h0M342.9 232.3h0M344.2 237.1h0M339.4 229.4h0"/>
<path class="d4" d="M344.1 226.2h0M342.3 232.1h0M340.2 232.4h0M340.4 233.2h0M346.0 231.8h0M339.4 232.9h0"/>
<path class="d4" d="M339.0 229.1h0M338.1 233.3h0M338.5 235.9h0M343.3 223.7h0M337.7 229.2h0M341.0 235.7h0"/>
<path class="d4" d="M339.8 232.2h0M344.7 232.8h0M346.3 231.9h0M338.0 235.1h0"/>
<rect x="335.80" y="231.29" width="12.20" height="3.67" fill="#fff" stroke="#444" stroke-width="0.6" fill-opacity="0.25"/>
<line x1="335.80" y1="233.29" x2="348.00" y2="233.29" stroke="#333" stroke-width="0.9"/>
<line x1="341.90" y1="225.78" x2="341.90" y2="231.29" stroke="#444" stroke-width="0.6"/>
<line x1="341.90" y1="234.96" x2="341.90" y2="239.96" stroke="#444" stroke-width="0.6"/>
<path class="d4" d="M363.3 233.7h0M367.9 237.4h0M369.7 235.9h0M367.3 235.0h0M366.7 235.2h0M367.1 237.6h0"/>
<path class="d4" d="M365.6 235.8h0M366.6 235.8h0M369.0 235.0h0M365.1 235.4h0M363.0 235.4h0M361.5 237.3h0"/>
<path class="d4" d="M367.2 238.0h0M370.6 239.0h0M364.7 231.7h0M362.0 236.1h0M363.5 228.5h0M367.1 231.5h0"/>
<path class="d4" d="M366.2 238.3h0M367.7 236.9h0M369.6 237.9h0M368.1 235.7h0M361.4 238.1h0M365.4 235.8h0"/>
<path class="d4" d="M368.9 231.4h0M364.1 237.6h0M369.2 240.1h0M362.7 235.5h0M362.8 237.6h0M363.5 235.7h0"/>
<path class="d4" d="M361.9 236.1h0M363.3 236.5h0M363.4 236.2h0M369.6 231.8h0M370.1 238.0h0M364.9 237.2h0"/>
<path class="d4" d="M367.0 236.3h0M369.7 235.2h0M369.8 235.7h0M361.3 235.6h0M364.5 234.9h0M362.7 235.8h0"/>
<path class="d4" d="M367.6 236.2h0M368.7 234.6h0M364.7 236.3h0M362.1 229.0h0M365.2 237.2h0M367.5 235.5h0"/>
<path class="d4" d="M366.5 234.6h0M370.0 234.5h0M369.6 237.0h0M369.0 236.4h0M368.2 235.6h0M361.5 237.4h0"/>
<path class="d4" d="M362.4 237.0h0M366.9 236.6h0M361.8 236.7h0M367.8 234.4h0M365.1 236.2h0M368.2 237.5h0"/>
<path class="d4" d="M369.0 237.3h0M362.3 234.9h0M367.6 237.2h0M369.6 235.1h0M361.7 237.4h0M368.9 237.7h0"/>
<path class="d4" d="M368.8 232.7h0M364.8 233.7h0M366.3 233.9h0M362.4 237.4h0M366.0 236.5h0M368.3 234.8h0"/>
<path class="d4" d="M363.8 237.3h0M367.8 240.0h0M362.6 236.6h0M369.5 232.6h0M361.2 237.3h0M365.4 235.8h0"/>
<path class="d4" d="M361.5 235.4h0M362.8 235.8h0M364.6 237.5h0M362.3 237.2h0M362.9 235.6h0M363.4 238.2h0"/>
<path class="d4" d="M370.5 237.6h0M370.3 237.1h0M365.8 235.6h0M367.8 237.2h0M366.0 236.6h0M368.4 235.8h0"/>
<path class="d4" d="M369.0 237.2h0M366.0 235.0h0M363.0 237.7h0M362.1 236.9h0M365.2 231.1h0M367.9 238.1h0"/>
<path class="d4" d="M367.0 237.1h0M367.8 236.3h0M368.0 235.7h0M363.4 236.2h0"/>
<rect x="359.80" y="235.74" width="12.20" height="2.00" fill="#fff" stroke="#444" stroke-width="0.6" fill-opacity="0.25"/>
<line x1="359.80" y1="236.62" x2="372.00" y2="236.62" stroke="#333" stroke-width="0.9"/>
<line x1="365.90" y1="232.73" x2="365.90" y2="235.74" stroke="#444" stroke-width="0.6"/>
<line x1="365.90" y1="237.74" x2="365.90" y2="240.74" stroke="#444" stroke-width="0.6"/>
<path class="d4" d="M394.4 235.4h0M392.6 237.2h0M392.5 236.7h0M387.0 234.1h0M389.0 237.4h0M387.5 239.1h0"/>
<path class="d4" d="M391.2 235.6h0M387.7 233.8h0M394.8 236.9h0M392.6 236.8h0M394.6 236.8h0M390.4 234.0h0"/>
<path class="d4" d="M392.6 236.6h0M391.0 238.1h0M392.9 238.2h0M389.3 233.5h0M386.4 233.1h0M394.5 238.7h0"/>
<path class="d4" d="M385.5 236.0h0M388.4 236.1h0M389.6 235.8h0M386.1 238.7h0M388.7 237.7h0M394.1 235.2h0"/>
<path class="d4" d="M386.1 236.5h0M386.9 235.4h0M388.6 239.3h0M387.6 236.3h0M394.8 231.9h0M391.2 234.7h0"/>
<path class="d4" d="M391.8 236.6h0M390.4 233.5h0M391.9 236.2h0M392.4 230.7h0M391.6 234.7h0M388.8 238.5h0"/>
<path class="d4" d="M393.0 235.6h0M387.9 234.4h0M393.2 235.3h0M385.7 235.7h0M394.3 237.0h0M388.3 237.9h0"/>
<path class="d4" d="M389.9 235.6h0M385.6 237.6h0M387.0 235.8h0M386.0 237.4h0M391.8 235.3h0M386.2 236.1h0"/>
<path class="d4" d="M389.6 238.5h0M393.8 228.7h0M388.7 233.9h0M393.5 237.8h0M386.3 237.4h0M390.3 229.7h0"/>
<path class="d4" d="M389.9 234.3h0M394.7 236.6h0M390.2 231.6h0M387.8 237.4h0M388.8 238.1h0M389.8 237.9h0"/>
<path class="d4" d="M389.2 233.6h0M388.4 237.7h0M385.5 235.9h0M389.4 234.0h0M389.8 235.3h0M391.0 236.4h0"/>
<path class="d4" d="M390.9 234.8h0M389.8 233.0h0M389.6 236.8h0M388.5 235.8h0M394.5 235.6h0M392.1 234.7h0"/>
<path class="d4" d="M385.8 233.5h0M385.7 229.8h0M394.4 235.9h0M389.7 235.3h0M387.4 234.1h0M390.4 237.1h0"/>
<path class="d4" d="M393.8 234.8h0M393.4 237.6h0M392.4 235.9h0M386.3 235.7h0M389.7 237.5h0M388.6 236.9h0"/>
<path class="d4" d="M386.5 235.8h0M389.0 234.4h0M387.1 238.4h0M391.9 235.4h0M392.8 238.0h0M386.1 234.8h0"/>
<path class="d4" d="M390.3 235.1h0M394.6 235.9h0M394.8 235.9h0M389.7 236.1h0M391.0 234.5h0M390.6 238.1h0"/>
<path class="d4" d="M393.1 235.4h0M387.5 234.8h0M387.2 233.7h0M393.7 233.2h0"/>
<rect x="384.00" y="235.29" width="12.20" height="1.89" fill="#fff" stroke="#444" stroke-width="0.6" fill-opacity="0.25"/>
<line x1="384.00" y1="236.29" x2="396.20" y2="236.29" stroke="#333" stroke-width="0.9"/>
<line x1="390.10" y1="232.45" x2="390.10" y2="235.29" stroke="#444" stroke-width="0.6"/>
<line x1="390.10" y1="237.18" x2="390.10" y2="240.02" stroke="#444" stroke-width="0.6"/>
<path class="d4" d="M418.6 230.0h0M417.3 237.6h0M418.9 238.1h0M416.2 238.6h0M412.3 236.7h0M414.3 238.4h0"/>
<path class="d4" d="M411.3 233.6h0M410.0 235.9h0M416.7 237.8h0M414.9 238.3h0M411.1 238.9h0M412.7 236.9h0"/>
<path class="d4" d="M411.7 236.9h0M417.5 235.5h0M414.9 235.7h0M413.3 238.3h0M413.4 238.3h0M417.9 238.5h0"/>
<path class="d4" d="M416.6 238.1h0M410.3 238.3h0M414.4 236.5h0M414.9 236.9h0M416.8 237.4h0M417.1 237.2h0"/>
<path class="d4" d="M410.3 236.7h0M412.3 237.8h0M413.7 235.6h0M410.7 236.5h0M414.3 237.8h0M411.2 237.4h0"/>
<path class="d4" d="M416.0 237.5h0M412.7 239.6h0M417.3 238.1h0M410.0 237.0h0M415.1 239.1h0M410.1 239.3h0"/>
<path class="d4" d="M411.5 238.3h0M414.7 238.2h0M415.5 238.5h0M417.8 235.5h0M413.5 238.4h0M410.7 235.2h0"/>
<path class="d4" d="M418.7 237.1h0M412.9 238.5h0M413.1 236.3h0M415.0 234.9h0M413.9 238.7h0M415.3 236.8h0"/>
<path class="d4" d="M410.5 239.0h0M411.6 238.1h0M417.8 237.6h0M415.5 237.1h0M416.5 237.7h0M410.2 237.9h0"/>
<path class="d4" d="M413.5 237.2h0M415.2 235.9h0M414.4 239.2h0M418.6 239.2h0M411.3 232.5h0M415.8 237.2h0"/>
<path class="d4" d="M412.2 233.0h0M415.5 236.4h0M409.8 237.2h0M413.3 237.6h0M416.2 237.3h0M413.9 237.4h0"/>
<path class="d4" d="M414.5 235.5h0M414.4 239.3h0M416.6 233.9h0M418.9 240.0h0M411.7 239.0h0M415.3 237.7h0"/>
<path class="d4" d="M414.5 234.4h0M412.9 237.0h0M411.5 238.3h0M415.9 237.6h0M415.6 236.5h0M417.8 236.3h0"/>
<path class="d4" d="M409.7 238.3h0M416.2 237.6h0M410.3 239.5h0M411.9 239.3h0M419.0 238.6h0M418.4 235.7h0"/>
<path class="d4" d="M414.9 238.4h0M416.6 237.7h0M411.2 235.8h0M411.3 238.8h0M416.1 230.4h0M410.3 238.0h0"/>
<path class="d4" d="M418.6 238.7h0M413.0 237.4h0M414.0 236.9h0M419.0 237.8h0M415.8 237.2h0M416.3 239.6h0"/>
<path class="d4" d="M411.6 238.7h0M414.6 234.3h0M416.3 230.0h0M415.1 238.5h0"/>
<rect x="408.30" y="236.62" width="12.20" height="1.67" fill="#fff" stroke="#444" stroke-width="0.6" fill-opacity="0.25"/>
<line x1="408.30" y1="237.74" x2="420.50" y2="237.74" stroke="#333" stroke-width="0.9"/>
<line x1="414.40" y1="234.12" x2="414.40" y2="236.62" stroke="#444" stroke-width="0.6"/>
<line x1="414.40" y1="238.29" x2="414.40" y2="240.80" stroke="#444" stroke-width="0.6"/>
<path class="d4" d="M440.1 235.7h0M436.8 233.8h0M436.2 232.2h0M440.6 231.6h0M435.6 234.7h0M442.6 236.4h0"/>
<path class="d4" d="M434.6 235.8h0M436.4 233.4h0M437.9 235.7h0M437.7 235.1h0M436.7 236.6h0M442.3 235.2h0"/>
<path class="d4" d="M436.7 238.5h0M441.3 235.5h0M441.4 233.8h0M441.4 233.5h0M441.4 236.1h0M437.5 234.5h0"/>
<path class="d4" d="M439.2 237.0h0M440.4 237.2h0M443.0 235.7h0M438.9 234.2h0M436.3 235.6h0M442.2 237.9h0"/>
<path class="d4" d="M442.6 233.8h0M442.7 233.6h0M437.7 238.2h0M440.2 238.1h0M434.6 234.9h0M433.9 234.6h0"/>
<path class="d4" d="M435.3 236.8h0M438.7 228.5h0M437.1 237.7h0M443.1 233.8h0M439.9 229.8h0M439.6 233.4h0"/>
<path class="d4" d="M437.9 233.5h0M441.3 232.3h0M436.3 234.4h0M436.7 233.1h0M441.6 235.0h0M434.5 236.1h0"/>
<path class="d4" d="M439.6 236.8h0M438.1 233.8h0M439.4 239.2h0M435.7 235.2h0M436.0 237.0h0M434.2 237.2h0"/>
<path class="d4" d="M435.9 234.3h0M443.0 234.7h0M436.3 237.9h0M434.9 236.1h0M438.0 237.3h0M434.4 233.6h0"/>
<path class="d4" d="M437.0 235.8h0M438.7 237.4h0M442.2 236.3h0M438.7 236.0h0M436.7 233.6h0M443.3 235.0h0"/>
<path class="d4" d="M434.9 235.3h0M439.6 235.9h0M438.7 231.4h0M436.5 235.0h0M441.3 234.7h0M440.6 232.6h0"/>
<path class="d4" d="M436.8 234.0h0M439.8 239.0h0M433.9 232.5h0M436.3 227.7h0M438.7 235.4h0M436.6 238.8h0"/>
<path class="d4" d="M437.0 234.8h0M434.6 235.0h0M435.3 234.0h0M442.3 239.1h0M437.4 231.6h0M441.4 235.7h0"/>
<path class="d4" d="M441.6 232.0h0M442.3 233.5h0M435.6 235.9h0M441.6 235.9h0M439.6 233.0h0M439.3 235.5h0"/>
<path class="d4" d="M439.7 235.4h0M441.7 235.4h0M440.2 236.8h0M440.7 236.4h0M440.2 235.4h0M441.8 237.0h0"/>
<path class="d4" d="M435.9 235.0h0M435.7 231.8h0M439.1 236.3h0M437.0 235.1h0M435.6 235.1h0M436.8 235.5h0"/>
<path class="d4" d="M438.5 236.8h0M442.5 234.6h0M439.4 232.6h0M439.2 236.1h0"/>
<rect x="432.50" y="234.62" width="12.20" height="2.00" fill="#fff" stroke="#444" stroke-width="0.6" fill-opacity="0.25"/>
<line x1="432.50" y1="235.74" x2="444.70" y2="235.74" stroke="#333" stroke-width="0.9"/>
<line x1="438.60" y1="231.62" x2="438.60" y2="234.62" stroke="#444" stroke-width="0.6"/>
<line x1="438.60" y1="236.62" x2="438.60" y2="239.63" stroke="#444" stroke-width="0.6"/>
<path class="d4" d="M265.9 291.3h0M267.1 294.6h0M264.7 296.7h0M272.7 297.4h0M271.2 288.0h0M271.1 298.0h0"/>
<path class="d4" d="M270.7 293.3h0M269.2 299.2h0M265.6 291.4h0M270.9 301.5h0M269.7 310.4h0M271.1 295.1h0"/>
<path class="d4" d="M273.9 283.8h0M272.9 312.6h0M269.8 299.7h0M272.4 311.3h0M269.4 291.4h0M271.0 303.0h0"/>
<path class="d4" d="M267.8 300.0h0M271.8 294.8h0M264.8 302.3h0M266.6 312.6h0M266.7 302.0h0M265.2 287.6h0"/>
<path class="d4" d="M267.3 293.5h0M273.6 297.5h0M265.9 298.5h0M268.9 295.3h0M269.5 296.9h0M265.8 287.9h0"/>
<path class="d4" d="M271.5 295.0h0M271.1 312.6h0M270.8 293.1h0M265.6 305.3h0M266.9 294.2h0M268.5 285.9h0"/>
<path class="d4" d="M271.3 306.7h0M266.1 293.1h0M273.5 303.8h0M271.8 295.1h0M268.6 305.0h0M266.1 292.9h0"/>
<path class="d4" d="M264.7 291.4h0M270.2 290.5h0M268.7 298.0h0M273.6 311.4h0M268.2 286.3h0M271.3 294.6h0"/>
<path class="d4" d="M272.1 301.8h0M266.8 290.3h0M267.9 292.5h0M267.7 303.7h0M268.3 289.5h0M271.1 285.3h0"/>
<path class="d4" d="M273.0 297.1h0M273.7 285.0h0M265.4 300.1h0M272.2 300.7h0M269.3 308.5h0M270.7 304.5h0"/>
<path class="d4" d="M269.2 291.3h0M269.8 297.9h0M274.0 292.3h0M267.1 288.3h0M267.6 305.6h0M272.2 312.6h0"/>
<path class="d4" d="M268.7 293.0h0M268.6 288.6h0M272.9 303.5h0M267.3 293.3h0M266.1 304.7h0M268.7 302.4h0"/>
<path class="d4" d="M272.9 296.3h0M271.5 302.8h0M268.4 306.3h0M271.6 307.1h0M268.9 292.0h0M270.6 296.9h0"/>
<path class="d4" d="M270.5 292.0h0M270.3 288.9h0M266.2 296.3h0M269.4 291.5h0M265.7 307.1h0M268.0 300.4h0"/>
<path class="d4" d="M271.4 284.7h0M269.2 280.9h0M272.4 292.3h0M267.4 279.8h0M272.8 304.4h0M268.4 292.4h0"/>
<path class="d4" d="M265.9 292.6h0M268.6 299.8h0M269.0 283.5h0M270.6 303.1h0M267.3 308.3h0M273.6 303.6h0"/>
<path class="d4" d="M268.2 300.8h0M270.3 295.0h0M272.2 299.1h0M271.5 297.9h0"/>
<rect x="263.20" y="291.06" width="12.20" height="9.91" fill="#fff" stroke="#444" stroke-width="0.6" fill-opacity="0.25"/>
<line x1="263.20" y1="296.01" x2="275.40" y2="296.01" stroke="#333" stroke-width="0.9"/>
<line x1="269.30" y1="279.73" x2="269.30" y2="291.06" stroke="#444" stroke-width="0.6"/>
<line x1="269.30" y1="300.97" x2="269.30" y2="312.65" stroke="#444" stroke-width="0.6"/>
<path class="d4" d="M291.4 278.4h0M295.9 275.0h0M297.0 280.4h0M293.3 276.6h0M290.8 276.3h0M291.0 275.9h0"/>
<path class="d4" d="M290.5 277.2h0M294.2 288.5h0M293.9 270.8h0M296.1 272.8h0M294.3 282.0h0M290.5 282.2h0"/>
<path class="d4" d="M295.5 276.7h0M292.7 286.6h0M291.1 270.6h0M291.8 282.1h0M294.3 276.2h0M293.4 278.1h0"/>
<path class="d4" d="M288.8 278.8h0M297.0 277.6h0M289.1 281.1h0M293.4 275.6h0M293.1 272.7h0M292.1 275.1h0"/>
<path class="d4" d="M298.0 274.3h0M291.9 276.9h0M292.9 276.6h0M296.9 274.8h0M292.0 275.1h0M294.4 288.0h0"/>
<path class="d4" d="M291.0 273.9h0M295.1 273.3h0M297.8 279.1h0M294.5 284.4h0M292.4 277.4h0M291.7 273.5h0"/>
<path class="d4" d="M295.3 272.4h0M293.8 273.6h0M295.5 286.3h0M297.6 275.9h0M292.3 268.0h0M295.1 283.8h0"/>
<path class="d4" d="M289.5 270.9h0M291.5 281.3h0M296.4 272.7h0M290.8 277.6h0M288.8 272.2h0M291.6 274.1h0"/>
<path class="d4" d="M296.0 272.6h0M293.7 276.4h0M291.7 278.5h0M292.5 275.9h0M293.5 276.9h0M298.0 274.1h0"/>
<path class="d4" d="M291.1 272.5h0M294.3 271.5h0M297.4 272.3h0M288.9 272.7h0M291.0 277.8h0M292.1 280.0h0"/>
<path class="d4" d="M295.4 272.6h0M295.5 276.7h0M289.9 270.7h0M296.0 278.3h0M295.5 277.0h0M295.4 276.7h0"/>
<path class="d4" d="M297.8 293.2h0M292.3 279.9h0M296.9 278.5h0M294.4 278.1h0M289.5 291.6h0M293.9 281.5h0"/>
<path class="d4" d="M295.9 286.3h0M291.0 284.7h0M295.9 274.0h0M295.5 274.6h0M298.1 281.3h0M291.3 273.4h0"/>
<path class="d4" d="M291.5 270.0h0M289.2 281.9h0M296.5 275.6h0M294.3 275.7h0M296.9 274.3h0M297.1 276.6h0"/>
<path class="d4" d="M298.2 275.1h0M291.8 274.9h0M293.5 272.0h0M297.6 276.4h0M290.8 274.7h0M293.6 275.8h0"/>
<path class="d4" d="M294.6 272.8h0M292.8 278.1h0M295.4 278.1h0M291.1 283.6h0M294.7 275.5h0M296.0 281.3h0"/>
<path class="d4" d="M294.9 277.3h0M291.3 276.0h0M294.8 275.0h0M290.4 273.9h0"/>
<rect x="287.40" y="273.00" width="12.20" height="4.60" fill="#fff" stroke="#444" stroke-width="0.6" fill-opacity="0.25"/>
<line x1="287.40" y1="275.13" x2="299.60" y2="275.13" stroke="#333" stroke-width="0.9"/>
<line x1="293.50" y1="266.63" x2="293.50" y2="273.00" stroke="#444" stroke-width="0.6"/>
<line x1="293.50" y1="277.60" x2="293.50" y2="284.51" stroke="#444" stroke-width="0.6"/>
<path class="d4" d="M314.6 266.8h0M322.0 273.0h0M317.8 271.3h0M320.9 266.0h0M321.0 263.0h0M319.5 268.3h0"/>
<path class="d4" d="M313.1 265.5h0M320.9 267.3h0M313.2 264.3h0M313.1 261.3h0M314.4 272.1h0M314.8 268.5h0"/>
<path class="d4" d="M315.7 266.7h0M314.6 269.9h0M315.1 269.4h0M313.3 261.3h0M318.2 266.0h0M314.3 263.7h0"/>
<path class="d4" d="M322.0 270.8h0M312.9 268.6h0M322.1 261.3h0M321.0 269.8h0M321.9 268.5h0M314.0 269.2h0"/>
<path class="d4" d="M318.0 261.9h0M316.0 268.5h0M313.0 269.9h0M312.9 269.8h0M317.5 274.1h0M320.3 269.7h0"/>
<path class="d4" d="M317.2 261.7h0M317.5 262.6h0M315.0 266.2h0M313.4 269.6h0M318.6 271.2h0M316.7 273.2h0"/>
<path class="d4" d="M321.0 262.0h0M317.6 269.4h0M317.4 273.0h0M314.2 261.7h0M320.1 265.4h0M316.4 262.4h0"/>
<path class="d4" d="M318.8 270.2h0M317.4 268.4h0M321.1 262.1h0M316.2 275.5h0M318.4 269.9h0M322.0 273.9h0"/>
<path class="d4" d="M318.2 269.6h0M318.8 266.1h0M314.6 261.3h0M319.4 264.4h0M320.5 261.3h0M314.1 268.0h0"/>
<path class="d4" d="M316.5 264.8h0M316.6 264.0h0M318.2 268.6h0M319.2 266.8h0M315.8 265.1h0M315.2 265.1h0"/>
<path class="d4" d="M319.4 267.3h0M321.5 273.1h0M318.7 267.5h0M319.5 270.6h0M319.7 263.1h0M317.7 269.9h0"/>
<path class="d4" d="M314.7 268.5h0M314.3 272.6h0M316.9 273.8h0M318.4 265.1h0M316.2 269.8h0M321.8 268.0h0"/>
<path class="d4" d="M319.1 266.0h0M318.3 270.7h0M312.8 266.5h0M317.5 266.0h0M320.4 267.8h0M314.7 268.6h0"/>
<path class="d4" d="M313.0 271.0h0M313.3 272.9h0M316.9 261.3h0M314.6 272.0h0M318.9 268.0h0M318.6 267.6h0"/>
<path class="d4" d="M318.0 262.2h0M319.1 273.6h0M315.9 272.4h0M317.4 273.9h0M318.4 272.5h0M322.1 265.6h0"/>
<path class="d4" d="M314.0 272.8h0M314.0 266.5h0M320.9 262.5h0M313.4 271.5h0M314.4 265.3h0M320.9 274.7h0"/>
<path class="d4" d="M313.4 270.2h0M316.4 263.4h0M314.7 268.2h0M316.7 270.5h0"/>
<rect x="311.40" y="264.51" width="12.20" height="5.31" fill="#fff" stroke="#444" stroke-width="0.6" fill-opacity="0.25"/>
<line x1="311.40" y1="267.34" x2="323.60" y2="267.34" stroke="#333" stroke-width="0.9"/>
<line x1="317.50" y1="261.32" x2="317.50" y2="264.51" stroke="#444" stroke-width="0.6"/>
<line x1="317.50" y1="269.82" x2="317.50" y2="276.54" stroke="#444" stroke-width="0.6"/>
<path class="d4" d="M339.2 263.1h0M342.8 264.6h0M344.5 266.0h0M338.1 272.9h0M346.6 266.9h0M339.6 269.5h0"/>
<path class="d4" d="M340.0 270.2h0M338.9 271.6h0M342.8 271.0h0M345.4 271.4h0M339.8 263.7h0M340.3 266.3h0"/>
<path class="d4" d="M344.2 272.4h0M344.6 268.8h0M339.8 269.2h0M341.9 265.6h0M343.9 266.2h0M341.7 267.7h0"/>
<path class="d4" d="M346.6 265.3h0M346.5 276.7h0M340.9 269.6h0M340.8 273.9h0M345.2 271.4h0M344.7 268.8h0"/>
<path class="d4" d="M341.6 268.4h0M343.5 267.1h0M339.4 266.2h0M346.1 263.1h0M337.9 263.1h0M343.8 267.5h0"/>
<path class="d4" d="M341.2 274.5h0M341.0 271.1h0M346.0 268.7h0M340.9 274.1h0M344.4 271.4h0M343.8 269.1h0"/>
<path class="d4" d="M343.1 266.9h0M338.2 270.1h0M342.5 270.6h0M338.2 270.3h0M345.5 274.2h0M346.0 266.2h0"/>
<path class="d4" d="M341.2 267.4h0M343.7 278.1h0M342.3 268.5h0M346.0 270.1h0M342.6 266.8h0M345.1 265.8h0"/>
<path class="d4" d="M338.7 265.3h0M340.4 264.1h0M340.0 273.5h0M341.3 268.9h0M343.9 263.2h0M339.7 269.1h0"/>
<path class="d4" d="M340.8 272.3h0M339.7 264.0h0M341.7 268.3h0M340.6 272.4h0M337.8 270.6h0M341.3 270.1h0"/>
<path class="d4" d="M344.4 268.7h0M342.7 270.4h0M338.2 268.5h0M342.6 269.3h0M346.0 269.1h0M338.1 265.6h0"/>
<path class="d4" d="M339.6 273.3h0M343.4 263.1h0M344.8 271.3h0M337.5 266.8h0M337.9 277.1h0M345.8 265.6h0"/>
<path class="d4" d="M341.5 269.4h0M346.2 263.1h0M341.1 271.0h0M337.9 267.6h0M343.0 266.6h0M342.9 268.7h0"/>
<path class="d4" d="M343.7 267.2h0M340.6 266.6h0M344.1 268.1h0M341.5 269.8h0M346.3 268.9h0M346.3 274.8h0"/>
<path class="d4" d="M337.3 272.1h0M343.6 278.3h0M343.8 267.3h0M345.4 268.6h0M342.1 271.8h0M345.7 267.8h0"/>
<path class="d4" d="M338.8 263.1h0M345.1 267.6h0M338.4 268.4h0M340.9 267.0h0M344.2 272.6h0M344.1 263.1h0"/>
<path class="d4" d="M345.0 265.6h0M342.1 271.5h0M344.1 267.6h0M340.5 269.3h0"/>
<rect x="335.80" y="265.92" width="12.20" height="4.96" fill="#fff" stroke="#444" stroke-width="0.6" fill-opacity="0.25"/>
<line x1="335.80" y1="268.40" x2="348.00" y2="268.40" stroke="#333" stroke-width="0.9"/>
<line x1="341.90" y1="263.09" x2="341.90" y2="265.92" stroke="#444" stroke-width="0.6"/>
<line x1="341.90" y1="270.88" x2="341.90" y2="278.31" stroke="#444" stroke-width="0.6"/>
<path class="d4" d="M362.4 264.9h0M364.3 264.2h0M361.8 264.7h0M369.3 270.6h0M362.6 267.2h0M362.8 264.2h0"/>
<path class="d4" d="M364.7 263.7h0M362.4 265.4h0M368.1 262.8h0M365.4 262.0h0M369.7 264.0h0M362.9 265.6h0"/>
<path class="d4" d="M370.0 264.7h0M362.6 263.5h0M366.0 266.1h0M368.8 261.7h0M365.0 264.5h0M363.0 264.9h0"/>
<path class="d4" d="M366.6 269.9h0M370.1 265.0h0M367.7 264.7h0M366.5 265.9h0M370.6 263.5h0M365.0 264.7h0"/>
<path class="d4" d="M368.4 265.5h0M362.7 270.0h0M366.5 263.3h0M362.2 264.0h0M370.5 263.6h0M370.0 265.0h0"/>
<path class="d4" d="M368.2 262.7h0M368.8 263.8h0M367.0 262.2h0M369.4 265.9h0M363.6 263.4h0M369.6 264.5h0"/>
<path class="d4" d="M370.3 262.8h0M368.2 262.1h0M367.2 264.3h0M364.6 266.2h0M366.2 263.9h0M362.7 265.1h0"/>
<path class="d4" d="M369.3 265.6h0M365.7 263.8h0M368.1 263.0h0M365.5 268.1h0M362.3 263.3h0M366.0 272.3h0"/>
<path class="d4" d="M363.0 262.9h0M366.9 264.5h0M369.4 264.9h0M369.4 264.2h0M362.9 263.6h0M370.5 264.9h0"/>
<path class="d4" d="M367.4 265.6h0M370.2 262.8h0M367.5 267.7h0M366.7 264.8h0M369.8 264.1h0M363.0 265.5h0"/>
<path class="d4" d="M366.4 265.7h0M365.1 264.5h0M362.2 263.3h0M362.4 265.3h0M367.1 264.0h0M362.8 263.0h0"/>
<path class="d4" d="M369.9 268.7h0M369.8 264.2h0M363.5 264.4h0M365.8 265.0h0M366.5 266.0h0M363.4 263.8h0"/>
<path class="d4" d="M364.5 264.1h0M365.3 264.2h0M370.5 263.7h0M364.2 265.5h0M368.0 263.9h0M363.7 269.4h0"/>
<path class="d4" d="M370.2 265.3h0M368.1 265.9h0M368.3 264.4h0M367.7 262.3h0M361.2 264.8h0M370.1 265.8h0"/>
<path class="d4" d="M369.3 262.8h0M361.3 265.2h0M369.2 264.6h0M365.3 266.4h0M366.9 264.8h0M369.7 263.3h0"/>
<path class="d4" d="M362.9 265.2h0M365.2 265.9h0M366.4 264.8h0M362.3 263.2h0M368.4 263.0h0M367.9 270.1h0"/>
<path class="d4" d="M370.0 265.8h0M363.1 264.3h0M365.9 263.8h0M363.4 266.6h0"/>
<rect x="359.80" y="263.80" width="12.20" height="1.42" fill="#fff" stroke="#444" stroke-width="0.6" fill-opacity="0.25"/>
<line x1="359.80" y1="264.51" x2="372.00" y2="264.51" stroke="#333" stroke-width="0.9"/>
<line x1="365.90" y1="261.67" x2="365.90" y2="263.80" stroke="#444" stroke-width="0.6"/>
<line x1="365.90" y1="265.21" x2="365.90" y2="267.34" stroke="#444" stroke-width="0.6"/>
<path class="d4" d="M390.1 267.5h0M387.5 264.2h0M392.4 265.9h0M387.3 264.6h0M388.4 261.3h0M391.3 265.0h0"/>
<path class="d4" d="M388.5 265.3h0M388.2 263.5h0M390.4 263.9h0M388.8 266.8h0M392.1 270.1h0M386.3 261.3h0"/>
<path class="d4" d="M387.3 265.3h0M392.2 265.6h0M388.8 266.0h0M386.4 267.8h0M387.6 263.9h0M390.1 270.6h0"/>
<path class="d4" d="M390.9 264.8h0M394.4 268.2h0M388.9 266.4h0M387.9 265.0h0M386.6 270.4h0M393.3 265.1h0"/>
<path class="d4" d="M385.4 264.3h0M387.9 266.4h0M389.2 267.5h0M392.7 266.8h0M393.1 264.1h0M390.6 264.4h0"/>
<path class="d4" d="M394.1 263.2h0M390.2 267.0h0M386.5 264.8h0M393.3 263.4h0M394.3 266.2h0M392.1 269.4h0"/>
<path class="d4" d="M388.5 266.5h0M390.4 266.3h0M392.4 266.0h0M386.3 269.3h0M389.1 261.3h0M387.4 263.4h0"/>
<path class="d4" d="M388.1 266.2h0M393.8 265.1h0M393.6 263.5h0M385.9 267.0h0M393.7 266.1h0M388.0 264.8h0"/>
<path class="d4" d="M388.5 265.1h0M387.7 265.5h0M387.1 267.1h0M391.8 266.3h0M392.7 265.2h0M390.1 265.3h0"/>
<path class="d4" d="M389.8 265.7h0M386.1 263.6h0M387.5 267.2h0M392.2 266.3h0M386.8 265.6h0M387.7 266.3h0"/>
<path class="d4" d="M394.2 268.9h0M385.9 263.9h0M392.0 266.0h0M392.2 271.3h0M392.6 265.5h0M391.1 263.4h0"/>
<path class="d4" d="M386.0 266.6h0M385.7 265.7h0M389.5 265.8h0M388.8 267.1h0M388.4 266.4h0M394.5 267.0h0"/>
<path class="d4" d="M394.2 265.0h0M391.3 265.6h0M388.1 262.7h0M387.2 264.7h0M387.8 271.4h0M386.8 265.9h0"/>
<path class="d4" d="M387.5 263.8h0M386.0 265.4h0M391.2 264.4h0M393.3 266.1h0M386.5 269.6h0M385.9 267.8h0"/>
<path class="d4" d="M393.8 264.6h0M391.8 263.7h0M394.4 267.5h0M388.6 261.5h0M394.8 265.3h0M388.3 266.8h0"/>
<path class="d4" d="M391.9 267.0h0M389.5 267.2h0M385.7 264.6h0M387.6 265.5h0M394.5 267.8h0M393.1 266.8h0"/>
<path class="d4" d="M386.1 265.0h0M393.0 264.6h0M386.3 265.4h0M392.1 270.2h0"/>
<rect x="384.00" y="264.15" width="12.20" height="2.12" fill="#fff" stroke="#444" stroke-width="0.6" fill-opacity="0.25"/>
<line x1="384.00" y1="265.21" x2="396.20" y2="265.21" stroke="#333" stroke-width="0.9"/>
<line x1="390.10" y1="261.32" x2="390.10" y2="264.15" stroke="#444" stroke-width="0.6"/>
<line x1="390.10" y1="266.28" x2="390.10" y2="269.46" stroke="#444" stroke-width="0.6"/>
<path class="d4" d="M417.6 263.4h0M418.9 264.4h0M415.8 264.1h0M416.7 263.6h0M412.5 264.8h0M416.2 262.6h0"/>
<path class="d4" d="M412.9 265.6h0M410.6 264.9h0M414.5 262.6h0M409.8 265.2h0M410.5 266.8h0M416.8 266.5h0"/>
<path class="d4" d="M417.4 264.2h0M419.1 265.1h0M412.7 266.2h0M416.2 264.3h0M419.0 264.4h0M410.2 263.7h0"/>
<path class="d4" d="M413.9 264.2h0M412.8 264.3h0M418.5 263.2h0M409.7 266.4h0M415.1 264.5h0M416.6 266.4h0"/>
<path class="d4" d="M414.0 264.7h0M416.0 264.8h0M411.5 264.4h0M411.4 261.5h0M412.3 265.8h0M419.0 264.5h0"/>
<path class="d4" d="M413.2 262.5h0M415.8 271.9h0M410.7 266.4h0M417.4 265.8h0M411.4 265.3h0M417.7 262.1h0"/>
<path class="d4" d="M416.0 263.9h0M415.9 263.5h0M418.1 265.7h0M418.4 266.1h0M415.0 265.7h0M418.8 262.1h0"/>
<path class="d4" d="M414.3 265.3h0M415.4 263.3h0M417.9 262.4h0M410.1 266.5h0M411.3 270.5h0M410.0 268.4h0"/>
<path class="d4" d="M417.0 265.6h0M415.1 267.8h0M415.6 263.5h0M417.4 268.4h0M409.9 265.6h0M415.0 263.8h0"/>
<path class="d4" d="M416.6 264.9h0M415.2 264.7h0M415.8 263.7h0M417.1 262.9h0M415.1 263.4h0M414.0 265.3h0"/>
<path class="d4" d="M413.4 265.1h0M414.1 264.2h0M414.3 266.6h0M415.8 266.1h0M414.0 265.4h0M419.0 264.7h0"/>
<path class="d4" d="M416.5 264.8h0M410.9 263.4h0M416.5 265.6h0M417.6 263.3h0M416.6 265.5h0M410.2 261.3h0"/>
<path class="d4" d="M409.9 264.3h0M413.9 265.4h0M415.6 265.0h0M409.9 266.8h0M410.2 262.5h0M413.2 266.4h0"/>
<path class="d4" d="M417.7 266.0h0M415.5 264.8h0M411.2 265.1h0M418.5 264.7h0M415.6 268.3h0M411.0 264.7h0"/>
<path class="d4" d="M412.0 264.3h0M417.1 263.5h0M412.0 262.9h0M410.3 265.4h0M417.1 264.2h0M418.5 264.2h0"/>
<path class="d4" d="M418.6 265.2h0M412.7 265.8h0M415.4 264.0h0M414.3 264.6h0M418.8 270.1h0M410.3 265.2h0"/>
<path class="d4" d="M415.5 265.8h0M411.9 261.8h0M418.0 265.2h0M417.3 269.2h0"/>
<rect x="408.30" y="263.44" width="12.20" height="1.77" fill="#fff" stroke="#444" stroke-width="0.6" fill-opacity="0.25"/>
<line x1="408.30" y1="264.51" x2="420.50" y2="264.51" stroke="#333" stroke-width="0.9"/>
<line x1="414.40" y1="261.32" x2="414.40" y2="263.44" stroke="#444" stroke-width="0.6"/>
<line x1="414.40" y1="265.21" x2="414.40" y2="267.87" stroke="#444" stroke-width="0.6"/>
<path class="d4" d="M436.0 268.3h0M440.5 267.7h0M434.4 267.2h0M442.7 266.6h0M437.6 265.2h0M434.3 268.2h0"/>
<path class="d4" d="M441.1 265.3h0M436.3 268.3h0M437.3 266.4h0M439.8 266.6h0M437.4 266.9h0M440.9 264.8h0"/>
<path class="d4" d="M441.0 265.0h0M438.6 266.6h0M435.8 267.3h0M434.0 262.7h0M441.5 266.4h0M439.0 263.7h0"/>
<path class="d4" d="M440.4 269.7h0M441.5 265.7h0M434.1 265.5h0M436.7 266.4h0M440.0 267.1h0M443.3 269.6h0"/>
<path class="d4" d="M438.4 267.5h0M437.6 269.8h0M434.9 267.5h0M437.0 265.1h0M433.9 262.0h0M442.0 265.1h0"/>
<path class="d4" d="M442.7 266.5h0M434.3 267.5h0M434.3 270.0h0M443.3 263.4h0M442.0 263.9h0M436.2 267.7h0"/>
<path class="d4" d="M440.7 263.9h0M441.6 266.6h0M438.0 265.9h0M438.7 264.2h0M435.8 268.1h0M437.3 269.4h0"/>
<path class="d4" d="M434.1 266.5h0M433.9 267.5h0M439.1 265.7h0M441.8 271.1h0M440.6 268.1h0M441.9 265.0h0"/>
<path class="d4" d="M437.6 265.9h0M441.6 265.6h0M440.0 268.3h0M441.1 264.4h0M435.7 266.8h0M438.3 268.6h0"/>
<path class="d4" d="M436.6 264.7h0M439.7 267.7h0M433.9 268.4h0M438.2 267.4h0M438.1 264.5h0M439.3 266.8h0"/>
<path class="d4" d="M436.7 265.8h0M442.1 274.4h0M436.9 265.7h0M442.6 265.9h0M440.2 265.8h0M438.9 269.8h0"/>
<path class="d4" d="M441.3 264.7h0M434.0 265.3h0M441.9 267.3h0M441.5 270.1h0M441.0 268.5h0M440.0 269.5h0"/>
<path class="d4" d="M438.1 265.6h0M434.6 266.3h0M438.4 264.8h0M441.2 264.8h0M442.4 266.0h0M440.2 264.8h0"/>
<path class="d4" d="M435.5 265.1h0M443.3 264.2h0M441.7 265.3h0M437.0 262.4h0M433.9 272.7h0M439.6 264.9h0"/>
<path class="d4" d="M435.5 266.3h0M440.1 265.3h0M439.8 273.6h0M437.8 265.4h0M443.0 267.0h0M437.9 263.6h0"/>
<path class="d4" d="M440.0 264.9h0M434.4 265.9h0M437.2 265.0h0M435.3 265.9h0M440.5 265.5h0M440.5 264.4h0"/>
<path class="d4" d="M436.7 267.6h0M438.5 266.6h0M436.2 265.1h0M441.8 265.0h0"/>
<rect x="432.50" y="264.86" width="12.20" height="2.12" fill="#fff" stroke="#444" stroke-width="0.6" fill-opacity="0.25"/>
<line x1="432.50" y1="265.92" x2="444.70" y2="265.92" stroke="#333" stroke-width="0.9"/>
<line x1="438.60" y1="262.03" x2="438.60" y2="264.86" stroke="#444" stroke-width="0.6"/>
<line x1="438.60" y1="266.98" x2="438.60" y2="270.17" stroke="#444" stroke-width="0.6"/>
<text x="294.60" y="196.00" font-size="7.6" text-anchor="middle" fill="#222">n = 100</text>
<text x="290.80" y="313.20" font-size="7.6" text-anchor="middle" fill="#222">n = 100</text>
<text x="377.70" y="200.00" font-size="8.2" text-anchor="start" fill="#222"><tspan font-style="italic">p</tspan>=2.18×10<tspan dy="-3.6" font-size="5.6">-5</tspan></text>
<path d="M389.6,206.5 V202.9 H413.6 V206.5" fill="none" stroke="#666" stroke-width="0.7"/>
<text x="403.20" y="220.20" font-size="8.2" text-anchor="start" fill="#222"><tspan font-style="italic">p</tspan>=1.21×10<tspan dy="-3.6" font-size="5.6">-7</tspan></text>
<path d="M413.6,226.3 V222.2 H438.6 V226.3" fill="none" stroke="#666" stroke-width="0.7"/>
<text x="403.20" y="287.70" font-size="8.2" text-anchor="start" fill="#222"><tspan font-style="italic">p</tspan>=2.16×10<tspan dy="-3.6" font-size="5.6">-6</tspan></text>
<path d="M414.4,274.5 V278.4 H438.6 V274.5" fill="none" stroke="#666" stroke-width="0.7"/>
<text x="379.60" y="308.70" font-size="8.2" text-anchor="start" fill="#222"><tspan font-style="italic">p</tspan>=1.07×10<tspan dy="-3.6" font-size="5.6">-4</tspan></text>
<path d="M389.6,296 V299.8 H414.4 V296" fill="none" stroke="#666" stroke-width="0.7"/>
<text x="354.00" y="341.00" font-size="9.6" text-anchor="middle" fill="#222">Sample number</text>
<text x="231.40" y="219.00" font-size="9.5" text-anchor="middle" fill="#222" transform="rotate(-90 231.4 219.0)">RMSE</text>
<line x1="224.56" y1="200.28" x2="231.30" y2="200.28" stroke="#222" stroke-width="0.65"/>
<path d="M233.70,200.28 L230.50,198.58 L231.10,200.28 L230.50,201.98 Z" fill="#222" stroke="none" stroke-width="1"/>
<text x="231.40" y="290.50" font-size="9.3" text-anchor="middle" fill="#222" transform="rotate(-90 231.4 290.5)">PCC</text>
<line x1="226.70" y1="275.68" x2="233.26" y2="275.68" stroke="#222" stroke-width="0.65"/>
<path d="M224.30,275.68 L227.50,273.98 L226.90,275.68 L227.50,277.38 Z" fill="#222" stroke="none" stroke-width="1"/>
<text x="454.60" y="180.00" font-size="14" text-anchor="start" fill="#000" font-weight="bold">f</text>
<rect x="507.20" y="185.20" width="15.20" height="5.90" fill="#b3b3b3" stroke="none" stroke-width="1"/>
<text x="524.70" y="190.90" font-size="8.2" text-anchor="start" fill="#222">NNLS</text>
<rect x="554.00" y="185.20" width="14.90" height="5.90" fill="#a35cbb" stroke="none" stroke-width="1"/>
<text x="570.60" y="190.90" font-size="8.2" text-anchor="start" fill="#222">CancerLocator</text>
<rect x="631.60" y="185.20" width="15.40" height="5.90" fill="#59a4da" stroke="none" stroke-width="1"/>
<text x="649.10" y="190.90" font-size="8.2" text-anchor="start" fill="#222">SRFD</text>
<line x1="496.60" y1="202.20" x2="496.60" y2="300.90" stroke="#444" stroke-width="0.9"/>
<line x1="496.60" y1="300.90" x2="581.60" y2="300.90" stroke="#444" stroke-width="0.9"/>
<line x1="494.60" y1="285.70" x2="496.60" y2="285.70" stroke="#444" stroke-width="0.7"/>
<text x="492.80" y="288.80" font-size="8.6" text-anchor="end" fill="#222">0.02</text>
<line x1="494.60" y1="255.30" x2="496.60" y2="255.30" stroke="#444" stroke-width="0.7"/>
<text x="492.80" y="258.40" font-size="8.6" text-anchor="end" fill="#222">0.04</text>
<line x1="494.60" y1="224.90" x2="496.60" y2="224.90" stroke="#444" stroke-width="0.7"/>
<text x="492.80" y="228.00" font-size="8.6" text-anchor="end" fill="#222">0.06</text>
<line x1="510.70" y1="300.90" x2="510.70" y2="302.90" stroke="#444" stroke-width="0.7"/>
<rect x="502.10" y="259.56" width="5.00" height="41.34" fill="#c3c3c3" stroke="none" stroke-width="1"/>
<line x1="504.60" y1="257.26" x2="504.60" y2="261.86" stroke="#111" stroke-width="0.8"/>
<line x1="502.00" y1="259.56" x2="507.20" y2="259.56" stroke="#111" stroke-width="1.0"/>
<rect x="508.20" y="237.36" width="5.00" height="63.54" fill="#b07dbe" stroke="none" stroke-width="1"/>
<line x1="510.70" y1="235.06" x2="510.70" y2="239.66" stroke="#111" stroke-width="0.8"/>
<line x1="508.10" y1="237.36" x2="513.30" y2="237.36" stroke="#111" stroke-width="1.0"/>
<rect x="514.30" y="294.36" width="5.00" height="6.54" fill="#5aa8da" stroke="none" stroke-width="1"/>
<line x1="516.80" y1="292.54" x2="516.80" y2="296.19" stroke="#222" stroke-width="0.8"/>
<line x1="514.60" y1="292.54" x2="519.00" y2="292.54" stroke="#222" stroke-width="0.8"/>
<line x1="514.60" y1="296.19" x2="519.00" y2="296.19" stroke="#222" stroke-width="0.8"/>
<line x1="514.60" y1="294.36" x2="519.00" y2="294.36" stroke="#222" stroke-width="0.9"/>
<line x1="539.40" y1="300.90" x2="539.40" y2="302.90" stroke="#444" stroke-width="0.7"/>
<rect x="530.80" y="237.36" width="5.00" height="63.54" fill="#c3c3c3" stroke="none" stroke-width="1"/>
<line x1="533.30" y1="235.06" x2="533.30" y2="239.66" stroke="#111" stroke-width="0.8"/>
<line x1="530.70" y1="237.36" x2="535.90" y2="237.36" stroke="#111" stroke-width="1.0"/>
<rect x="536.90" y="223.84" width="5.00" height="77.06" fill="#b07dbe" stroke="none" stroke-width="1"/>
<line x1="539.40" y1="221.54" x2="539.40" y2="226.14" stroke="#111" stroke-width="0.8"/>
<line x1="536.80" y1="223.84" x2="542.00" y2="223.84" stroke="#111" stroke-width="1.0"/>
<rect x="543.00" y="244.20" width="5.00" height="56.70" fill="#5aa8da" stroke="none" stroke-width="1"/>
<line x1="545.50" y1="242.53" x2="545.50" y2="245.88" stroke="#222" stroke-width="0.8"/>
<line x1="543.30" y1="242.53" x2="547.70" y2="242.53" stroke="#222" stroke-width="0.8"/>
<line x1="543.30" y1="245.88" x2="547.70" y2="245.88" stroke="#222" stroke-width="0.8"/>
<line x1="543.30" y1="244.20" x2="547.70" y2="244.20" stroke="#222" stroke-width="0.9"/>
<line x1="567.90" y1="300.90" x2="567.90" y2="302.90" stroke="#444" stroke-width="0.7"/>
<rect x="559.30" y="210.92" width="5.00" height="89.98" fill="#c3c3c3" stroke="none" stroke-width="1"/>
<line x1="561.80" y1="208.62" x2="561.80" y2="213.22" stroke="#111" stroke-width="0.8"/>
<line x1="559.20" y1="210.92" x2="564.40" y2="210.92" stroke="#111" stroke-width="1.0"/>
<rect x="565.40" y="211.37" width="5.00" height="89.53" fill="#b07dbe" stroke="none" stroke-width="1"/>
<line x1="567.90" y1="209.40" x2="567.90" y2="213.35" stroke="#222" stroke-width="0.8"/>
<line x1="565.70" y1="209.40" x2="570.10" y2="209.40" stroke="#222" stroke-width="0.8"/>
<line x1="565.70" y1="213.35" x2="570.10" y2="213.35" stroke="#222" stroke-width="0.8"/>
<line x1="565.70" y1="211.37" x2="570.10" y2="211.37" stroke="#222" stroke-width="0.9"/>
<rect x="571.50" y="214.26" width="5.00" height="86.64" fill="#5aa8da" stroke="none" stroke-width="1"/>
<line x1="574.00" y1="212.44" x2="574.00" y2="216.08" stroke="#222" stroke-width="0.8"/>
<line x1="571.80" y1="212.44" x2="576.20" y2="212.44" stroke="#222" stroke-width="0.8"/>
<line x1="571.80" y1="216.08" x2="576.20" y2="216.08" stroke="#222" stroke-width="0.8"/>
<line x1="571.80" y1="214.26" x2="576.20" y2="214.26" stroke="#222" stroke-width="0.9"/>
<text x="516.90" y="212.70" font-size="7.7" text-anchor="middle" fill="#222">n = 100</text>
<text x="468.30" y="255.60" font-size="9.4" text-anchor="middle" fill="#222" transform="rotate(-90 468.3 255.6)">RMSE</text>
<line x1="461.53" y1="237.02" x2="468.18" y2="237.02" stroke="#222" stroke-width="0.65"/>
<path d="M470.58,237.02 L467.38,235.32 L467.98,237.02 L467.38,238.72 Z" fill="#222" stroke="none" stroke-width="1"/>
<text x="513.70" y="314.00" font-size="8.6" text-anchor="end" fill="#222" transform="rotate(-30 513.7 314.0)">Normal fraction</text>
<text x="542.30" y="314.00" font-size="8.6" text-anchor="end" fill="#222" transform="rotate(-30 542.3 314.0)">Tumor fraction</text>
<text x="571.00" y="314.00" font-size="8.6" text-anchor="end" fill="#222" transform="rotate(-30 571.0 314.0)">Source fraction</text>
<line x1="616.20" y1="202.20" x2="616.20" y2="301.40" stroke="#444" stroke-width="0.9"/>
<line x1="616.20" y1="301.40" x2="683.30" y2="301.40" stroke="#444" stroke-width="0.9"/>
<line x1="614.20" y1="301.40" x2="616.20" y2="301.40" stroke="#444" stroke-width="0.7"/>
<text x="612.50" y="304.50" font-size="8.6" text-anchor="end" fill="#222">0.88</text>
<line x1="614.20" y1="276.90" x2="616.20" y2="276.90" stroke="#444" stroke-width="0.7"/>
<text x="612.50" y="280.00" font-size="8.6" text-anchor="end" fill="#222">0.9</text>
<line x1="614.20" y1="252.40" x2="616.20" y2="252.40" stroke="#444" stroke-width="0.7"/>
<text x="612.50" y="255.50" font-size="8.6" text-anchor="end" fill="#222">0.92</text>
<line x1="614.20" y1="227.90" x2="616.20" y2="227.90" stroke="#444" stroke-width="0.7"/>
<text x="612.50" y="231.00" font-size="8.6" text-anchor="end" fill="#222">0.94</text>
<line x1="614.20" y1="203.40" x2="616.20" y2="203.40" stroke="#444" stroke-width="0.7"/>
<text x="612.50" y="206.50" font-size="8.6" text-anchor="end" fill="#222">0.96</text>
<line x1="633.30" y1="301.40" x2="633.30" y2="303.40" stroke="#444" stroke-width="0.7"/>
<rect x="622.80" y="230.96" width="6.10" height="70.44" fill="#c3c3c3" stroke="none" stroke-width="1"/>
<line x1="625.85" y1="228.66" x2="625.85" y2="233.26" stroke="#111" stroke-width="0.8"/>
<line x1="623.25" y1="230.96" x2="628.45" y2="230.96" stroke="#111" stroke-width="1.0"/>
<rect x="630.30" y="253.62" width="6.10" height="47.78" fill="#b07dbe" stroke="none" stroke-width="1"/>
<line x1="633.35" y1="251.32" x2="633.35" y2="255.92" stroke="#111" stroke-width="0.8"/>
<line x1="630.75" y1="253.62" x2="635.95" y2="253.62" stroke="#111" stroke-width="1.0"/>
<rect x="637.80" y="216.88" width="6.10" height="84.52" fill="#5aa8da" stroke="none" stroke-width="1"/>
<line x1="640.85" y1="215.16" x2="640.85" y2="218.59" stroke="#222" stroke-width="0.8"/>
<line x1="638.65" y1="215.16" x2="643.05" y2="215.16" stroke="#222" stroke-width="0.8"/>
<line x1="638.65" y1="218.59" x2="643.05" y2="218.59" stroke="#222" stroke-width="0.8"/>
<line x1="638.65" y1="216.88" x2="643.05" y2="216.88" stroke="#222" stroke-width="0.9"/>
<line x1="666.60" y1="301.40" x2="666.60" y2="303.40" stroke="#444" stroke-width="0.7"/>
<rect x="656.10" y="264.65" width="6.10" height="36.75" fill="#c3c3c3" stroke="none" stroke-width="1"/>
<line x1="659.15" y1="262.35" x2="659.15" y2="266.95" stroke="#111" stroke-width="0.8"/>
<line x1="656.55" y1="264.65" x2="661.75" y2="264.65" stroke="#111" stroke-width="1.0"/>
<rect x="663.60" y="278.12" width="6.10" height="23.28" fill="#b07dbe" stroke="none" stroke-width="1"/>
<line x1="666.65" y1="274.45" x2="666.65" y2="281.80" stroke="#222" stroke-width="0.8"/>
<line x1="664.45" y1="274.45" x2="668.85" y2="274.45" stroke="#222" stroke-width="0.8"/>
<line x1="664.45" y1="281.80" x2="668.85" y2="281.80" stroke="#222" stroke-width="0.8"/>
<line x1="664.45" y1="278.12" x2="668.85" y2="278.12" stroke="#222" stroke-width="0.9"/>
<rect x="671.10" y="265.26" width="6.10" height="36.14" fill="#5aa8da" stroke="none" stroke-width="1"/>
<line x1="674.15" y1="261.59" x2="674.15" y2="268.94" stroke="#222" stroke-width="0.8"/>
<line x1="671.95" y1="261.59" x2="676.35" y2="261.59" stroke="#222" stroke-width="0.8"/>
<line x1="671.95" y1="268.94" x2="676.35" y2="268.94" stroke="#222" stroke-width="0.8"/>
<line x1="671.95" y1="265.26" x2="676.35" y2="265.26" stroke="#222" stroke-width="0.9"/>
<text x="658.40" y="212.70" font-size="7.7" text-anchor="middle" fill="#222">n = 100</text>
<text x="591.30" y="256.30" font-size="9.2" text-anchor="middle" fill="#222" transform="rotate(-90 591.3 256.3)">PCC</text>
<line x1="586.68" y1="241.59" x2="593.14" y2="241.59" stroke="#222" stroke-width="0.65"/>
<path d="M584.28,241.59 L587.48,239.89 L586.88,241.59 L587.48,243.29 Z" fill="#222" stroke="none" stroke-width="1"/>
<text x="637.00" y="313.70" font-size="8.6" text-anchor="end" fill="#222" transform="rotate(-30 637.0 313.7)">Tumor fraction</text>
<text x="671.20" y="313.70" font-size="8.6" text-anchor="end" fill="#222" transform="rotate(-30 671.2 313.7)">Source fraction</text>
<text x="-0.20" y="354.30" font-size="14" text-anchor="start" fill="#000" font-weight="bold" style="font-family:Liberation Serif">g</text>
<line x1="40.10" y1="364.40" x2="40.10" y2="502.20" stroke="#555" stroke-width="0.9"/>
<line x1="40.10" y1="502.20" x2="185.00" y2="502.20" stroke="#555" stroke-width="0.9"/>
<line x1="38.10" y1="365.00" x2="40.10" y2="365.00" stroke="#555" stroke-width="0.7"/>
<text x="36.00" y="368.00" font-size="8.5" text-anchor="end" fill="#222">60</text>
<line x1="38.10" y1="393.00" x2="40.10" y2="393.00" stroke="#555" stroke-width="0.7"/>
<text x="36.00" y="396.00" font-size="8.5" text-anchor="end" fill="#222">100</text>
<line x1="38.10" y1="420.30" x2="40.10" y2="420.30" stroke="#555" stroke-width="0.7"/>
<text x="36.00" y="423.30" font-size="8.5" text-anchor="end" fill="#222">90</text>
<line x1="38.10" y1="447.60" x2="40.10" y2="447.60" stroke="#555" stroke-width="0.7"/>
<text x="36.00" y="450.60" font-size="8.5" text-anchor="end" fill="#222">80</text>
<line x1="38.10" y1="474.90" x2="40.10" y2="474.90" stroke="#555" stroke-width="0.7"/>
<text x="36.00" y="477.90" font-size="8.5" text-anchor="end" fill="#222">70</text>
<line x1="38.10" y1="502.20" x2="40.10" y2="502.20" stroke="#555" stroke-width="0.7"/>
<text x="36.00" y="505.20" font-size="8.5" text-anchor="end" fill="#222">60</text>
<text x="43.70" y="375.90" font-size="7.9" text-anchor="start" fill="#222">RMSE:</text>
<text x="73.70" y="385.90" font-size="8.0" text-anchor="middle" fill="#222">0.0372</text>
<text x="109.80" y="385.90" font-size="8.0" text-anchor="middle" fill="#222">0.0518</text>
<text x="143.70" y="385.90" font-size="8.0" text-anchor="middle" fill="#222">0.0128</text>
<rect x="65.40" y="391.70" width="17.00" height="9.70" fill="#1f74bf" stroke="#555" stroke-width="0.5"/>
<rect x="65.40" y="401.40" width="17.00" height="15.00" fill="#4a98d3" stroke="#555" stroke-width="0.5"/>
<rect x="65.40" y="416.40" width="17.00" height="26.20" fill="#7db5df" stroke="#555" stroke-width="0.5"/>
<rect x="65.40" y="442.60" width="17.00" height="30.60" fill="#b2d4eb" stroke="#555" stroke-width="0.5"/>
<rect x="65.40" y="473.20" width="17.00" height="29.00" fill="#ffffff" stroke="#555" stroke-width="0.5"/>
<line x1="73.90" y1="502.20" x2="73.90" y2="503.70" stroke="#555" stroke-width="0.6"/>
<rect x="99.30" y="391.70" width="17.00" height="1.20" fill="#1f74bf" stroke="#555" stroke-width="0.5"/>
<rect x="99.30" y="392.90" width="17.00" height="1.60" fill="#4a98d3" stroke="#555" stroke-width="0.5"/>
<rect x="99.30" y="394.50" width="17.00" height="11.90" fill="#7db5df" stroke="#555" stroke-width="0.5"/>
<rect x="99.30" y="406.40" width="17.00" height="54.30" fill="#b2d4eb" stroke="#555" stroke-width="0.5"/>
<rect x="99.30" y="460.70" width="17.00" height="41.50" fill="#ffffff" stroke="#555" stroke-width="0.5"/>
<line x1="107.80" y1="502.20" x2="107.80" y2="503.70" stroke="#555" stroke-width="0.6"/>
<rect x="133.10" y="391.70" width="17.00" height="3.90" fill="#7db5df" stroke="#555" stroke-width="0.5"/>
<rect x="133.10" y="395.60" width="17.00" height="33.20" fill="#b2d4eb" stroke="#555" stroke-width="0.5"/>
<rect x="133.10" y="428.80" width="17.00" height="73.40" fill="#ffffff" stroke="#555" stroke-width="0.5"/>
<line x1="141.60" y1="502.20" x2="141.60" y2="503.70" stroke="#555" stroke-width="0.6"/>
<text x="78.00" y="513.80" font-size="8.5" text-anchor="end" fill="#222" transform="rotate(-30 78.0 513.8)">NNLS</text>
<text x="112.20" y="514.60" font-size="8.5" text-anchor="end" fill="#222" transform="rotate(-30 112.2 514.6)">CancerLocator</text>
<text x="145.30" y="513.80" font-size="8.5" text-anchor="end" fill="#222" transform="rotate(-30 145.3 513.8)">SRFD</text>
<text x="14.00" y="433.00" font-size="9.2" text-anchor="middle" fill="#222" transform="rotate(-90 14.0 433)">Proportion of normal controls (%)</text>
<rect x="155.80" y="441.50" width="33.00" height="57.30" fill="#fff" stroke="#666" stroke-width="0.7"/>
<text x="157.5" y="451.5" font-size="8" style="font-family:Liberation Serif" font-style="italic" fill="#222">θ</text>
<line x1="158.20" y1="444.30" x2="160.50" y2="443.20" stroke="#222" stroke-width="0.5"/>
<line x1="160.50" y1="443.20" x2="162.80" y2="444.30" stroke="#222" stroke-width="0.5"/>
<line x1="163.60" y1="445.50" x2="163.60" y2="453.00" stroke="#222" stroke-width="0.5"/>
<text x="164.6" y="453" font-size="5" style="font-family:Liberation Serif" font-style="italic" fill="#222">N</text>
<rect x="157.40" y="457.00" width="10.50" height="7.40" fill="#1f74bf" stroke="#333" stroke-width="0.4"/>
<rect x="157.40" y="464.40" width="10.50" height="7.50" fill="#4a98d3" stroke="#333" stroke-width="0.4"/>
<rect x="157.40" y="471.90" width="10.50" height="7.30" fill="#7db5df" stroke="#333" stroke-width="0.4"/>
<rect x="157.40" y="479.20" width="10.50" height="7.50" fill="#b2d4eb" stroke="#333" stroke-width="0.4"/>
<rect x="157.40" y="486.70" width="10.50" height="7.70" fill="#ffffff" stroke="#333" stroke-width="0.4"/>
<text x="170.40" y="459.80" font-size="7.4" text-anchor="start" fill="#222">&lt; 0.9</text>
<text x="170.40" y="467.20" font-size="7.4" text-anchor="start" fill="#222">0.92</text>
<text x="170.40" y="474.70" font-size="7.4" text-anchor="start" fill="#222">0.94</text>
<text x="170.40" y="482.00" font-size="7.4" text-anchor="start" fill="#222">0.96</text>
<text x="170.40" y="489.50" font-size="7.4" text-anchor="start" fill="#222">0.98</text>
<text x="170.40" y="497.20" font-size="7.4" text-anchor="start" fill="#222">1.0</text>
<text x="197.20" y="354.00" font-size="14" text-anchor="start" fill="#000" font-weight="bold">h</text>
<rect x="280.80" y="355.80" width="52.00" height="8.80" fill="#a6a6a6" stroke="none" stroke-width="1"/>
<text x="306.80" y="362.90" font-size="8.2" text-anchor="middle" fill="#fff" font-weight="bold">NNLS</text>
<rect x="237.90" y="367.60" width="131.80" height="135.80" fill="#fff" stroke="#444" stroke-width="0.9"/>
<path class="d5" d="M238.1 497.9h0M246.9 492.2h0M239.7 498.3h0M247.9 493.0h0M239.8 503.4h0M239.7 500.0h0"/>
<path class="d5" d="M245.0 502.3h0M251.0 491.8h0M239.1 484.1h0M243.2 497.8h0M240.5 502.6h0M250.5 488.0h0"/>
<path class="d5" d="M240.7 499.9h0M245.1 488.2h0M250.5 490.8h0M240.6 501.8h0M248.9 494.0h0M247.6 497.2h0"/>
<path class="d5" d="M249.3 499.1h0M248.4 501.1h0M247.5 493.0h0M240.8 491.1h0M238.4 502.2h0M243.1 494.0h0"/>
<path class="d5" d="M246.4 487.1h0M250.8 500.6h0M251.0 492.8h0M240.2 501.7h0M246.1 501.4h0M239.1 502.4h0"/>
<path class="d5" d="M240.4 492.6h0M247.1 502.7h0M239.2 499.1h0M246.5 487.2h0M251.0 491.6h0M248.5 487.9h0"/>
<path class="d5" d="M243.8 497.3h0M239.5 500.5h0M239.2 499.1h0M240.5 502.7h0M242.3 503.0h0M244.2 499.9h0"/>
<path class="d5" d="M244.5 497.8h0M242.8 502.3h0M246.0 499.7h0M239.4 503.0h0M239.7 503.0h0M250.7 502.2h0"/>
<path class="d5" d="M248.0 497.1h0M250.9 480.6h0M242.5 492.9h0M241.6 500.9h0M240.2 498.4h0M249.3 494.6h0"/>
<path class="d5" d="M238.6 502.1h0M240.4 502.6h0M248.7 497.8h0M243.9 494.8h0M247.1 500.4h0M243.2 502.8h0"/>
<path class="d5" d="M244.8 501.0h0M247.4 502.6h0M244.1 496.8h0M248.2 493.4h0M247.7 485.2h0M245.5 503.0h0"/>
<path class="d5" d="M240.1 500.1h0M243.5 503.3h0M239.8 502.0h0M243.5 495.3h0M247.3 503.2h0M248.2 498.2h0"/>
<path class="d5" d="M247.6 496.1h0M246.0 500.1h0M249.7 495.8h0M248.6 490.8h0M242.7 500.5h0M243.0 491.7h0"/>
<path class="d5" d="M240.5 500.6h0M247.1 490.0h0M242.8 500.2h0M241.2 503.0h0M246.1 502.1h0M250.2 493.9h0"/>
<path class="d5" d="M241.6 500.6h0M244.3 497.5h0M241.8 502.1h0M237.9 503.2h0M242.9 500.2h0M249.9 502.3h0"/>
<path class="d5" d="M245.5 501.3h0M241.0 493.8h0M245.9 492.5h0M242.1 501.6h0M239.2 502.0h0M242.8 502.9h0"/>
<path class="d5" d="M245.0 487.5h0M244.7 503.3h0M249.2 498.8h0M246.8 490.0h0M245.2 497.3h0M248.8 487.9h0"/>
<path class="d5" d="M241.1 502.5h0M250.5 497.4h0M246.9 502.0h0M248.4 475.4h0M238.7 503.4h0M251.1 484.9h0"/>
<path class="d5" d="M239.8 496.1h0M238.5 501.7h0M243.3 501.8h0M239.8 502.9h0M238.2 501.1h0M244.2 502.1h0"/>
<path class="d5" d="M244.2 502.5h0M248.8 500.7h0M247.5 499.8h0M239.1 499.1h0M249.2 485.8h0M249.9 491.6h0"/>
<path class="d5" d="M242.1 502.1h0M250.3 489.5h0M246.9 496.3h0M247.5 499.1h0M243.8 500.8h0M247.6 488.3h0"/>
<path class="d5" d="M249.9 496.6h0M243.5 499.0h0M245.2 496.8h0M239.7 500.9h0M245.6 487.0h0M239.5 499.9h0"/>
<path class="d5" d="M242.9 499.5h0M250.5 487.4h0M243.4 502.6h0M243.7 493.9h0M246.7 500.6h0M240.9 497.6h0"/>
<path class="d5" d="M241.3 497.5h0M247.8 499.6h0M239.3 501.7h0M248.2 502.9h0M243.6 496.8h0M248.4 494.7h0"/>
<path class="d5" d="M245.0 502.5h0M247.0 496.8h0M244.3 489.2h0M242.0 496.9h0M249.1 501.6h0M239.5 502.2h0"/>
<path class="d5" d="M247.2 501.5h0M249.6 502.7h0M245.2 501.3h0M241.4 501.6h0M245.1 496.4h0M245.0 501.5h0"/>
<path class="d5" d="M249.2 489.6h0M238.9 503.1h0M246.0 485.3h0M244.2 482.2h0M244.9 492.2h0M239.8 499.1h0"/>
<path class="d5" d="M243.9 495.9h0M239.7 494.7h0M249.5 500.7h0M249.7 489.0h0M248.8 501.2h0M246.6 489.5h0"/>
<path class="d5" d="M240.4 491.8h0M240.0 490.4h0M247.2 498.1h0M242.5 500.9h0M249.2 495.1h0M249.7 498.6h0"/>
<path class="d5" d="M246.3 499.2h0M239.2 498.4h0M248.6 491.9h0M240.3 501.8h0M238.9 501.6h0M238.6 500.1h0"/>
<path class="d5" d="M241.8 500.0h0M243.2 503.0h0M244.7 498.0h0M238.9 501.6h0M239.8 486.8h0M247.2 500.0h0"/>
<path class="d5" d="M249.8 498.3h0M249.4 490.2h0M245.9 491.4h0M243.3 503.3h0M247.4 493.6h0M241.4 502.9h0"/>
<path class="d5" d="M238.1 498.0h0M245.4 502.8h0M239.9 502.3h0M239.3 500.2h0M249.9 500.4h0M242.4 501.8h0"/>
<path class="d5" d="M240.0 501.3h0M241.0 500.3h0M246.4 501.8h0M250.7 500.8h0M244.0 501.3h0M243.6 502.1h0"/>
<path class="d5" d="M245.4 496.3h0M244.0 500.0h0M242.3 494.1h0M244.1 498.9h0M239.0 500.7h0M246.9 503.3h0"/>
<path class="d5" d="M261.3 497.2h0M261.2 484.6h0M251.4 493.4h0M264.0 472.3h0M263.5 489.8h0M254.8 470.1h0"/>
<path class="d5" d="M257.0 484.0h0M256.2 481.2h0M260.1 483.6h0M259.7 489.3h0M259.0 489.0h0M263.5 483.2h0"/>
<path class="d5" d="M260.2 490.5h0M262.9 488.5h0M256.3 500.9h0M257.0 487.9h0M263.6 497.5h0M261.3 484.4h0"/>
<path class="d5" d="M263.4 481.8h0M263.6 478.6h0M259.1 500.5h0M252.6 481.1h0M254.4 480.8h0M257.5 484.6h0"/>
<path class="d5" d="M255.1 497.4h0M260.4 485.2h0M261.1 499.4h0M251.7 482.8h0M258.5 486.6h0M258.4 485.7h0"/>
<path class="d5" d="M252.2 489.7h0M256.0 488.8h0M262.0 487.5h0M261.2 482.9h0M261.8 483.9h0M253.3 492.9h0"/>
<path class="d5" d="M256.8 480.0h0M262.7 486.5h0M254.0 503.0h0M254.1 490.0h0M258.0 482.5h0M260.3 501.3h0"/>
<path class="d5" d="M262.0 475.1h0M254.4 492.3h0M254.0 475.0h0M258.6 482.5h0M259.0 479.8h0M256.3 499.8h0"/>
<path class="d5" d="M258.8 483.3h0M255.6 488.0h0M261.6 492.8h0M256.3 500.2h0M255.7 493.1h0M255.8 489.2h0"/>
<path class="d5" d="M263.1 483.1h0M257.7 495.4h0M260.9 484.8h0M258.8 481.4h0M253.6 491.3h0M262.7 486.8h0"/>
<path class="d5" d="M259.9 493.5h0M262.5 481.9h0M260.5 485.8h0M252.3 486.6h0M259.4 494.8h0M260.4 484.3h0"/>
<path class="d5" d="M254.4 482.7h0M262.8 474.3h0M261.7 499.0h0M262.5 490.9h0M251.6 496.5h0M260.7 479.9h0"/>
<path class="d5" d="M255.5 490.7h0M263.6 491.7h0M256.8 500.1h0M261.9 492.8h0M258.5 486.9h0M258.5 480.3h0"/>
<path class="d5" d="M252.0 490.4h0M263.2 491.8h0M256.0 478.2h0M256.3 494.7h0M260.3 484.2h0M258.8 488.8h0"/>
<path class="d5" d="M255.1 502.3h0M257.3 482.7h0M259.2 489.3h0M252.5 501.7h0M262.0 486.7h0M252.2 499.6h0"/>
<path class="d5" d="M253.6 483.5h0M264.2 479.0h0M257.5 490.6h0M263.9 480.0h0M258.3 487.8h0M256.6 472.2h0"/>
<path class="d5" d="M264.1 491.3h0M253.5 493.1h0M251.3 491.4h0M260.7 494.2h0M262.2 494.4h0M260.6 481.8h0"/>
<path class="d5" d="M259.5 491.8h0M254.8 487.5h0M251.4 502.1h0M261.3 495.9h0M256.9 491.4h0M262.3 496.8h0"/>
<path class="d5" d="M258.3 494.4h0M253.8 502.4h0M252.1 488.3h0M257.8 501.1h0M263.1 480.0h0M257.7 477.3h0"/>
<path class="d5" d="M252.5 492.2h0M253.6 491.3h0M261.3 489.5h0M257.6 489.3h0M263.9 483.4h0M257.5 496.6h0"/>
<path class="d5" d="M255.9 489.5h0M251.4 482.3h0M257.3 477.4h0M259.7 494.2h0M262.0 480.1h0M263.5 487.3h0"/>
<path class="d5" d="M262.9 490.3h0M258.1 489.1h0M257.6 483.4h0M260.5 487.7h0M261.1 492.6h0M263.0 489.7h0"/>
<path class="d5" d="M254.4 481.1h0M258.1 502.8h0M251.8 494.4h0M253.5 489.6h0M255.8 503.1h0M251.7 500.7h0"/>
<path class="d5" d="M260.9 477.1h0M251.2 486.1h0M255.8 475.9h0M251.8 501.4h0M256.2 486.3h0M257.1 492.7h0"/>
<path class="d5" d="M254.5 494.7h0M252.9 483.9h0M253.1 479.1h0M259.0 490.9h0M252.9 485.4h0M259.2 479.9h0"/>
<path class="d5" d="M251.2 486.6h0M254.6 493.7h0M259.5 481.7h0M257.8 493.5h0M251.7 501.1h0M263.5 481.7h0"/>
<path class="d5" d="M255.7 473.8h0M255.1 500.8h0M262.4 490.3h0M262.9 464.6h0M263.9 495.7h0M260.4 480.7h0"/>
<path class="d5" d="M258.8 477.2h0M261.7 482.8h0M259.5 470.7h0M259.5 500.5h0M255.8 496.3h0M254.0 492.6h0"/>
<path class="d5" d="M264.0 493.7h0M262.8 482.5h0M261.6 478.5h0M258.1 487.0h0M254.2 491.1h0M262.3 497.8h0"/>
<path class="d5" d="M252.9 490.5h0M257.9 482.9h0M254.4 499.6h0M251.9 494.5h0M262.0 503.3h0M257.9 494.0h0"/>
<path class="d5" d="M262.4 493.7h0M263.5 491.6h0M255.8 480.1h0M263.6 486.9h0M252.3 500.5h0M261.9 488.3h0"/>
<path class="d5" d="M263.1 480.4h0M252.0 500.1h0M263.9 480.8h0M258.9 473.8h0M260.7 489.0h0M256.2 496.6h0"/>
<path class="d5" d="M256.1 494.4h0M264.1 496.9h0M258.2 491.7h0M256.9 486.8h0M258.9 489.5h0M253.7 494.4h0"/>
<path class="d5" d="M259.5 483.9h0M252.9 500.7h0M260.7 498.0h0M260.1 484.3h0M256.4 502.2h0M251.4 502.1h0"/>
<path class="d5" d="M258.3 472.2h0M254.4 492.1h0M261.4 479.6h0M258.3 493.5h0M255.0 486.3h0M260.3 487.8h0"/>
<path class="d5" d="M277.3 458.9h0M270.0 483.1h0M276.6 470.2h0M269.2 488.0h0M268.6 486.5h0M269.7 471.0h0"/>
<path class="d5" d="M276.9 464.0h0M269.9 480.5h0M277.4 461.8h0M273.9 478.1h0M269.3 483.1h0M275.0 482.8h0"/>
<path class="d5" d="M271.8 478.5h0M269.4 475.3h0M268.8 486.2h0M264.7 492.5h0M268.6 502.7h0M276.5 468.4h0"/>
<path class="d5" d="M272.4 474.1h0M267.0 483.8h0M266.2 483.6h0M271.4 472.7h0M276.0 480.7h0M270.5 474.3h0"/>
<path class="d5" d="M276.8 499.5h0M268.3 482.8h0M271.5 488.6h0M275.3 486.4h0M265.8 482.5h0M274.5 473.4h0"/>
<path class="d5" d="M270.8 482.3h0M274.8 476.9h0M277.1 450.4h0M270.6 477.9h0M265.8 470.9h0M274.8 474.6h0"/>
<path class="d5" d="M269.7 480.4h0M275.7 476.8h0M266.3 480.3h0M268.6 474.6h0M276.1 485.0h0M275.0 477.2h0"/>
<path class="d5" d="M270.0 483.5h0M271.9 471.9h0M276.2 474.3h0M269.1 482.0h0M273.5 491.7h0M276.6 475.3h0"/>
<path class="d5" d="M264.9 486.4h0M272.9 484.3h0M266.8 472.6h0M272.9 465.8h0M272.7 484.4h0M265.1 481.4h0"/>
<path class="d5" d="M276.8 471.8h0M265.3 497.5h0M264.4 488.4h0M272.3 478.0h0M268.3 480.9h0M270.8 484.9h0"/>
<path class="d5" d="M269.7 480.0h0M266.8 475.5h0M268.2 489.6h0M273.0 475.4h0M275.8 481.9h0M271.0 480.0h0"/>
<path class="d5" d="M266.2 482.5h0M268.0 483.3h0M276.5 482.5h0M264.7 488.2h0M266.6 481.3h0M273.4 480.9h0"/>
<path class="d5" d="M266.4 483.0h0M266.0 487.6h0M266.8 481.4h0M270.6 480.6h0M276.2 476.6h0M273.0 479.7h0"/>
<path class="d5" d="M268.3 481.0h0M265.8 479.3h0M271.7 478.7h0M272.7 496.6h0M270.0 476.2h0M276.4 478.5h0"/>
<path class="d5" d="M277.2 488.8h0M272.4 482.3h0M273.5 483.5h0M273.2 489.9h0M270.6 477.2h0M268.6 474.6h0"/>
<path class="d5" d="M273.3 469.5h0M270.5 470.6h0M276.4 488.2h0M266.2 476.9h0M266.1 474.1h0M267.5 494.9h0"/>
<path class="d5" d="M269.8 480.4h0M273.3 481.6h0M273.4 450.6h0M274.5 486.1h0M265.8 481.6h0M267.9 486.6h0"/>
<path class="d5" d="M275.0 485.7h0M275.9 475.9h0M275.4 481.3h0M277.3 459.8h0M273.3 476.2h0M271.6 469.2h0"/>
<path class="d5" d="M268.0 482.2h0M266.5 487.3h0M276.8 478.1h0M274.6 473.1h0M274.8 486.1h0M264.4 481.2h0"/>
<path class="d5" d="M264.5 467.8h0M273.7 489.6h0M273.3 484.0h0M273.9 473.7h0M274.7 473.5h0M265.2 482.0h0"/>
<path class="d5" d="M273.6 481.2h0M270.9 479.5h0M276.6 474.1h0M272.7 492.1h0M266.9 491.6h0M276.6 478.2h0"/>
<path class="d5" d="M264.6 482.4h0M265.2 483.7h0M268.4 490.7h0M274.9 487.8h0M265.3 493.6h0M268.7 475.9h0"/>
<path class="d5" d="M267.8 478.5h0M265.6 477.0h0M277.4 478.6h0M265.1 503.1h0M265.8 496.8h0M269.6 499.7h0"/>
<path class="d5" d="M268.4 482.3h0M266.9 482.4h0M266.2 469.5h0M272.8 460.6h0M275.2 486.0h0M269.1 476.5h0"/>
<path class="d5" d="M270.4 477.1h0M266.3 495.5h0M267.8 487.9h0M271.3 487.8h0M264.9 486.4h0M276.1 467.2h0"/>
<path class="d5" d="M277.1 467.7h0M266.7 478.3h0M269.7 491.9h0M272.0 487.1h0M272.5 483.2h0M266.8 485.8h0"/>
<path class="d5" d="M270.8 472.6h0M272.5 475.1h0M275.8 465.4h0M266.1 485.1h0M271.8 481.7h0M275.2 482.1h0"/>
<path class="d5" d="M266.8 495.2h0M275.5 492.9h0M274.2 479.7h0M276.0 467.7h0M270.7 477.8h0M265.2 476.8h0"/>
<path class="d5" d="M276.9 482.5h0M265.1 477.6h0M272.5 475.6h0M274.4 472.6h0M270.6 486.3h0M265.2 486.4h0"/>
<path class="d5" d="M268.6 494.7h0M273.7 465.9h0M270.3 492.8h0M274.1 481.7h0M274.3 479.3h0M268.0 473.8h0"/>
<path class="d5" d="M269.2 477.0h0M264.9 492.5h0M274.0 484.8h0M276.3 464.7h0M276.2 477.5h0M276.2 476.6h0"/>
<path class="d5" d="M264.9 486.5h0M265.2 484.4h0M275.6 481.4h0M266.7 493.5h0M267.5 487.2h0M267.3 468.2h0"/>
<path class="d5" d="M272.0 476.8h0M269.6 483.9h0M267.5 488.8h0M276.9 479.3h0M268.6 476.1h0M270.8 486.5h0"/>
<path class="d5" d="M274.1 479.1h0M267.3 494.7h0M270.2 475.1h0M270.4 477.6h0M276.0 471.7h0M273.7 482.7h0"/>
<path class="d5" d="M277.2 481.8h0M270.2 495.9h0M274.9 485.0h0M270.3 487.1h0M272.0 489.8h0M264.8 484.9h0"/>
<path class="d5" d="M286.9 466.5h0M289.3 462.6h0M288.4 464.2h0M279.4 482.0h0M282.4 465.0h0M280.8 466.1h0"/>
<path class="d5" d="M283.1 454.5h0M279.5 485.5h0M285.3 454.0h0M284.6 488.0h0M287.4 462.4h0M287.1 463.2h0"/>
<path class="d5" d="M289.0 455.2h0M288.6 454.4h0M278.6 479.2h0M288.3 472.2h0M282.5 460.7h0M280.9 480.6h0"/>
<path class="d5" d="M283.9 478.4h0M288.5 470.4h0M279.2 459.1h0M281.5 484.9h0M286.4 481.2h0M279.7 487.0h0"/>
<path class="d5" d="M288.7 466.8h0M283.8 484.5h0M284.6 465.4h0M286.4 468.1h0M289.3 465.7h0M281.6 476.5h0"/>
<path class="d5" d="M284.9 485.4h0M286.4 466.0h0M289.2 456.5h0M287.9 478.1h0M290.0 463.3h0M289.4 457.6h0"/>
<path class="d5" d="M281.8 474.0h0M286.3 465.5h0M288.9 464.1h0M279.5 467.8h0M288.5 462.5h0M289.9 448.7h0"/>
<path class="d5" d="M286.0 452.7h0M284.0 476.9h0M285.2 457.8h0M289.7 452.1h0M278.8 473.2h0M286.7 464.6h0"/>
<path class="d5" d="M280.6 447.7h0M280.7 472.6h0M284.7 473.5h0M277.6 493.6h0M278.9 480.8h0M288.2 457.7h0"/>
<path class="d5" d="M289.1 455.9h0M280.6 480.4h0M289.0 472.0h0M281.0 482.7h0M281.0 462.6h0M283.9 473.9h0"/>
<path class="d5" d="M280.7 472.8h0M287.2 463.0h0M285.4 473.3h0M284.9 463.6h0M281.9 459.5h0M282.7 490.7h0"/>
<path class="d5" d="M287.9 493.0h0M281.4 453.1h0M287.1 484.2h0M279.5 489.7h0M280.8 487.7h0M286.3 472.6h0"/>
<path class="d5" d="M280.4 488.0h0M289.2 469.5h0M285.3 476.0h0M284.8 469.8h0M282.1 468.9h0M288.1 485.3h0"/>
<path class="d5" d="M279.2 472.1h0M288.7 468.0h0M280.8 469.6h0M282.9 467.0h0M285.9 466.8h0M281.7 470.4h0"/>
<path class="d5" d="M285.0 470.2h0M279.3 468.3h0M279.8 462.2h0M278.2 476.7h0M288.2 476.2h0M284.1 462.3h0"/>
<path class="d5" d="M279.2 481.5h0M289.6 467.8h0M282.6 470.5h0M279.0 466.1h0M278.0 490.9h0M286.7 478.5h0"/>
<path class="d5" d="M281.9 466.7h0M287.8 465.2h0M286.2 479.7h0M282.0 475.7h0M283.3 465.1h0M285.4 464.3h0"/>
<path class="d5" d="M289.0 463.4h0M283.9 460.5h0M288.7 471.1h0M278.1 481.9h0M289.5 463.7h0M288.3 455.1h0"/>
<path class="d5" d="M290.2 469.1h0M283.7 480.4h0M285.5 455.6h0M278.6 460.1h0M289.6 461.8h0M280.4 473.9h0"/>
<path class="d5" d="M288.4 451.5h0M283.6 467.3h0M288.2 478.8h0M280.7 481.4h0M285.8 467.1h0M278.1 463.7h0"/>
<path class="d5" d="M289.2 463.1h0M277.6 481.4h0M286.6 458.5h0M280.6 462.9h0M287.6 446.3h0M287.1 475.6h0"/>
<path class="d5" d="M283.0 475.2h0M281.5 473.7h0M284.3 480.1h0M281.4 455.4h0M286.9 456.1h0M288.7 475.3h0"/>
<path class="d5" d="M288.1 467.6h0M278.0 475.5h0M279.8 491.7h0M285.4 478.6h0M281.9 471.8h0M284.0 470.8h0"/>
<path class="d5" d="M280.4 476.7h0M281.6 464.1h0M279.6 466.8h0M281.4 477.8h0M285.4 460.7h0M282.9 477.5h0"/>
<path class="d5" d="M290.1 469.3h0M280.7 465.6h0M278.8 476.6h0M284.8 455.7h0M289.2 463.8h0M286.3 465.0h0"/>
<path class="d5" d="M280.1 453.3h0M277.8 482.7h0M283.1 471.7h0M278.7 487.0h0M282.0 481.2h0M286.9 487.1h0"/>
<path class="d5" d="M284.4 468.8h0M282.4 476.6h0M278.2 480.3h0M286.6 458.5h0M285.8 463.7h0M290.2 462.0h0"/>
<path class="d5" d="M283.1 488.8h0M285.5 470.1h0M289.3 460.2h0M284.1 460.5h0M284.1 472.4h0M279.1 491.1h0"/>
<path class="d5" d="M280.8 469.5h0M289.9 462.3h0M280.4 477.4h0M278.4 463.9h0M290.4 465.1h0M279.6 478.8h0"/>
<path class="d5" d="M279.1 484.6h0M284.2 467.9h0M289.8 477.1h0M282.7 462.1h0M281.7 481.3h0M288.6 471.6h0"/>
<path class="d5" d="M282.0 477.3h0M284.1 460.4h0M282.7 468.1h0M281.2 477.1h0M279.1 456.4h0M290.4 464.9h0"/>
<path class="d5" d="M279.8 458.0h0M284.8 485.2h0M279.5 467.5h0M285.8 489.1h0M287.8 459.7h0M290.0 470.3h0"/>
<path class="d5" d="M287.4 480.4h0M280.4 469.1h0M289.3 461.3h0M282.3 486.6h0M278.1 472.1h0M279.1 480.0h0"/>
<path class="d5" d="M287.1 461.4h0M281.9 459.2h0M279.9 464.8h0M289.8 468.2h0M287.1 475.8h0M279.7 475.1h0"/>
<path class="d5" d="M287.3 455.6h0M282.8 461.0h0M281.1 469.2h0M287.4 484.2h0M277.6 474.1h0M285.8 459.1h0"/>
<path class="d5" d="M300.6 437.5h0M301.5 441.3h0M298.5 467.9h0M294.6 469.6h0M294.8 474.0h0M295.7 449.3h0"/>
<path class="d5" d="M295.4 470.5h0M296.4 461.0h0M299.3 467.4h0M294.0 471.1h0M295.9 471.0h0M300.7 464.5h0"/>
<path class="d5" d="M295.0 466.4h0M291.4 459.9h0M295.5 455.4h0M303.1 468.2h0M300.1 456.8h0M292.2 474.7h0"/>
<path class="d5" d="M302.2 468.3h0M296.0 468.1h0M298.8 452.7h0M295.0 463.4h0M299.4 458.0h0M302.2 459.9h0"/>
<path class="d5" d="M299.7 466.3h0M291.4 465.3h0M293.8 458.4h0M300.3 463.5h0M294.5 472.4h0M290.6 470.5h0"/>
<path class="d5" d="M298.3 463.5h0M290.8 471.7h0M297.2 476.9h0M294.7 485.9h0M292.2 466.8h0M302.3 455.7h0"/>
<path class="d5" d="M301.2 453.7h0M296.3 465.5h0M302.6 453.7h0M292.1 474.7h0M302.3 454.0h0M294.3 461.3h0"/>
<path class="d5" d="M295.4 462.6h0M302.5 453.6h0M300.4 459.1h0M294.3 477.9h0M298.8 466.3h0M291.8 474.1h0"/>
<path class="d5" d="M298.8 469.6h0M296.6 448.8h0M291.5 451.1h0M300.9 458.4h0M291.6 470.4h0M302.2 461.6h0"/>
<path class="d5" d="M297.4 450.0h0M297.4 454.1h0M298.3 469.8h0M303.7 456.3h0M297.4 477.5h0M292.3 476.8h0"/>
<path class="d5" d="M294.7 463.7h0M296.4 447.8h0M297.2 462.5h0M292.9 472.8h0M298.6 458.9h0M295.0 461.0h0"/>
<path class="d5" d="M298.5 460.8h0M296.4 471.9h0M290.7 467.6h0M291.1 476.5h0M292.6 462.9h0M293.3 454.7h0"/>
<path class="d5" d="M297.2 460.5h0M293.9 470.5h0M295.0 452.3h0M300.5 465.1h0M294.9 470.4h0M292.5 456.5h0"/>
<path class="d5" d="M291.2 469.1h0M296.1 459.7h0M292.1 466.2h0M302.7 450.3h0M292.3 481.3h0M294.1 460.0h0"/>
<path class="d5" d="M297.3 456.0h0M302.7 463.3h0M296.6 464.0h0M303.7 462.0h0M291.6 463.3h0M300.6 454.2h0"/>
<path class="d5" d="M296.9 471.3h0M300.9 458.4h0M293.3 467.1h0M291.6 465.5h0M295.9 459.2h0M299.0 473.2h0"/>
<path class="d5" d="M294.1 466.7h0M300.4 449.8h0M293.9 456.7h0M302.1 448.7h0M293.1 477.1h0M298.0 450.6h0"/>
<path class="d5" d="M301.4 466.6h0M299.2 467.8h0M299.0 449.0h0M298.5 463.7h0M298.3 461.8h0M298.7 468.9h0"/>
<path class="d5" d="M301.6 449.9h0M292.1 464.9h0M300.7 456.0h0M303.5 446.6h0M300.7 450.7h0M302.5 474.5h0"/>
<path class="d5" d="M297.1 459.2h0M295.3 469.0h0M302.2 463.8h0M300.0 457.6h0M294.5 475.8h0M292.0 471.5h0"/>
<path class="d5" d="M302.1 448.4h0M302.4 462.3h0M298.9 454.2h0M296.8 459.4h0M296.6 443.3h0M295.7 482.6h0"/>
<path class="d5" d="M298.1 466.3h0M291.6 460.9h0M298.5 460.0h0M302.0 449.0h0M295.0 463.6h0M297.1 470.0h0"/>
<path class="d5" d="M302.6 445.8h0M294.9 457.5h0M294.7 461.0h0M297.5 462.4h0M300.8 455.3h0M300.2 444.0h0"/>
<path class="d5" d="M303.1 451.7h0M297.0 460.1h0M293.4 451.5h0M301.6 459.5h0M298.8 454.7h0M291.5 473.1h0"/>
<path class="d5" d="M303.8 448.5h0M303.7 457.1h0M292.9 477.8h0M298.5 465.3h0M294.9 475.7h0M301.0 441.8h0"/>
<path class="d5" d="M296.2 476.7h0M291.8 474.9h0M299.8 468.3h0M291.5 453.6h0M296.6 481.2h0M291.2 459.0h0"/>
<path class="d5" d="M296.9 470.1h0M291.1 455.5h0M301.7 461.2h0M298.3 450.3h0M299.6 454.0h0M291.6 468.8h0"/>
<path class="d5" d="M301.7 453.3h0M293.6 466.8h0M297.2 471.2h0M301.1 447.5h0M303.5 454.6h0M300.7 467.2h0"/>
<path class="d5" d="M302.3 442.7h0M298.7 466.5h0M297.2 460.6h0M291.0 467.4h0M295.7 456.0h0M303.0 450.6h0"/>
<path class="d5" d="M294.4 454.4h0M296.1 455.6h0M296.8 454.2h0M294.0 464.3h0M294.2 462.4h0M297.2 457.3h0"/>
<path class="d5" d="M302.4 448.8h0M295.4 465.2h0M291.5 453.6h0M295.3 465.5h0M296.1 451.4h0M302.6 456.9h0"/>
<path class="d5" d="M297.2 452.5h0M299.2 456.4h0M296.6 461.8h0M301.2 449.4h0M302.9 464.2h0M302.2 465.3h0"/>
<path class="d5" d="M295.6 461.4h0M300.1 448.8h0M300.2 449.5h0M299.7 474.7h0M299.6 474.3h0M296.4 450.5h0"/>
<path class="d5" d="M303.0 458.0h0M291.4 458.7h0M296.0 448.1h0M294.7 458.5h0M300.6 469.9h0M299.4 463.0h0"/>
<path class="d5" d="M300.3 475.8h0M292.0 461.6h0M296.8 461.1h0M300.1 462.0h0M294.5 468.9h0M299.7 473.0h0"/>
<path class="d5" d="M303.9 449.8h0M312.9 443.8h0M310.8 457.9h0M313.8 437.8h0M311.4 448.7h0M312.7 456.1h0"/>
<path class="d5" d="M305.0 459.1h0M314.9 448.2h0M307.7 458.9h0M310.1 451.9h0M304.2 436.6h0M310.0 450.7h0"/>
<path class="d5" d="M314.2 445.7h0M310.0 470.9h0M305.0 442.9h0M310.1 453.5h0M305.6 468.1h0M314.1 433.9h0"/>
<path class="d5" d="M316.4 431.8h0M307.2 447.7h0M303.8 443.8h0M314.8 450.3h0M305.3 451.8h0M314.7 441.4h0"/>
<path class="d5" d="M304.0 444.9h0M306.6 468.0h0M311.2 428.8h0M312.4 454.2h0M307.2 471.5h0M314.3 449.3h0"/>
<path class="d5" d="M315.8 438.9h0M306.6 451.7h0M313.5 445.0h0M303.9 465.2h0M307.2 460.2h0M308.8 441.7h0"/>
<path class="d5" d="M306.4 464.9h0M311.2 438.6h0M307.4 449.6h0M309.3 453.8h0M315.5 443.9h0M310.6 458.0h0"/>
<path class="d5" d="M309.1 454.1h0M304.2 453.0h0M309.1 463.7h0M304.4 444.1h0M308.0 463.6h0M304.1 453.4h0"/>
<path class="d5" d="M311.4 451.3h0M309.1 448.2h0M311.2 441.5h0M309.8 447.3h0M304.4 450.8h0M308.9 440.1h0"/>
<path class="d5" d="M316.4 442.3h0M316.7 441.2h0M305.2 446.3h0M313.9 433.6h0M306.6 474.1h0M309.9 452.3h0"/>
<path class="d5" d="M316.0 451.3h0M312.5 440.0h0M305.0 460.9h0M311.3 455.3h0M309.6 447.6h0M305.0 446.4h0"/>
<path class="d5" d="M314.7 443.8h0M316.3 432.7h0M306.4 460.9h0M312.5 466.5h0M313.3 451.9h0M304.4 453.3h0"/>
<path class="d5" d="M307.9 438.4h0M312.4 462.2h0M313.3 454.3h0M308.2 458.0h0M304.1 442.4h0M311.7 451.8h0"/>
<path class="d5" d="M312.5 459.5h0M314.7 444.8h0M314.6 441.4h0M303.8 461.8h0M309.0 460.7h0M310.0 440.1h0"/>
<path class="d5" d="M312.1 444.1h0M306.4 454.9h0M310.8 446.6h0M310.7 450.5h0M305.9 448.4h0M312.7 445.9h0"/>
<path class="d5" d="M315.7 432.5h0M310.0 436.7h0M306.5 462.5h0M315.7 451.3h0M311.5 440.3h0M313.6 450.7h0"/>
<path class="d5" d="M304.3 447.7h0M304.5 456.1h0M312.3 446.5h0M312.3 440.5h0M314.6 446.2h0M316.5 450.5h0"/>
<path class="d5" d="M315.9 440.5h0M313.2 457.3h0M312.4 450.7h0M304.4 452.1h0M308.8 451.8h0M311.2 445.1h0"/>
<path class="d5" d="M310.3 466.5h0M314.8 429.4h0M313.3 453.6h0M307.4 448.1h0M310.5 443.7h0M311.5 460.7h0"/>
<path class="d5" d="M306.2 461.5h0M317.0 454.0h0M316.5 457.5h0M313.8 452.7h0M306.8 445.1h0M309.7 475.8h0"/>
<path class="d5" d="M311.2 445.9h0M316.4 438.4h0M309.1 442.9h0M307.0 473.8h0M307.8 465.5h0M310.7 461.1h0"/>
<path class="d5" d="M314.9 460.5h0M312.4 459.4h0M313.3 458.2h0M305.1 440.6h0M306.6 460.0h0M314.2 432.5h0"/>
<path class="d5" d="M313.1 465.6h0M308.4 452.9h0M312.8 461.5h0M308.9 465.9h0M312.0 448.2h0M314.4 455.0h0"/>
<path class="d5" d="M313.6 448.2h0M311.9 454.1h0M308.7 445.1h0M314.3 449.6h0M312.2 447.7h0M314.3 450.0h0"/>
<path class="d5" d="M315.6 459.4h0M306.4 457.1h0M309.1 446.5h0M310.1 465.3h0M311.4 441.9h0M304.7 446.9h0"/>
<path class="d5" d="M304.5 457.9h0M307.6 465.3h0M305.8 452.7h0M305.0 454.9h0M307.2 460.1h0M308.7 451.0h0"/>
<path class="d5" d="M316.3 443.9h0M313.7 453.6h0M303.8 445.3h0M312.5 454.4h0M308.9 470.6h0M308.9 466.4h0"/>
<path class="d5" d="M303.8 458.2h0M309.5 445.2h0M304.6 453.9h0M304.5 468.3h0M308.1 461.4h0M313.1 458.9h0"/>
<path class="d5" d="M312.7 464.1h0M307.8 453.3h0M308.1 451.7h0M309.4 468.6h0M307.1 464.6h0M306.7 443.8h0"/>
<path class="d5" d="M314.2 428.4h0M308.6 471.7h0M313.5 449.1h0M310.7 465.3h0M315.5 448.3h0M307.1 471.2h0"/>
<path class="d5" d="M313.0 435.8h0M312.5 453.1h0M315.5 455.1h0M311.3 455.8h0M314.7 444.4h0M306.8 448.4h0"/>
<path class="d5" d="M312.9 433.6h0M307.3 452.9h0M316.4 439.1h0M314.4 434.9h0M309.4 451.2h0M307.1 461.7h0"/>
<path class="d5" d="M313.5 441.9h0M314.0 437.1h0M306.7 449.7h0M314.2 453.5h0M311.3 447.7h0M313.1 438.0h0"/>
<path class="d5" d="M309.2 462.1h0M310.1 458.1h0M308.2 460.3h0M316.4 443.4h0M304.4 464.2h0M310.7 451.8h0"/>
<path class="d5" d="M305.1 449.2h0M306.4 459.2h0M316.3 451.1h0M307.0 450.3h0M313.8 470.7h0M312.1 450.4h0"/>
<path class="d5" d="M320.1 444.7h0M324.6 441.4h0M328.1 426.7h0M324.3 434.1h0M322.2 433.7h0M323.6 439.2h0"/>
<path class="d5" d="M318.5 433.1h0M321.9 447.7h0M323.1 441.9h0M327.7 426.6h0M326.5 424.4h0M324.8 439.4h0"/>
<path class="d5" d="M321.0 435.5h0M317.7 440.6h0M325.4 433.2h0M320.7 440.5h0M320.4 447.1h0M318.1 446.4h0"/>
<path class="d5" d="M317.7 442.8h0M324.9 451.2h0M329.9 436.1h0M325.4 436.7h0M321.6 430.8h0M323.3 443.1h0"/>
<path class="d5" d="M318.9 452.8h0M329.0 432.8h0M317.7 451.9h0M323.8 445.5h0M325.5 438.8h0M324.4 447.4h0"/>
<path class="d5" d="M323.5 439.8h0M319.4 446.1h0M317.8 454.3h0M317.2 433.2h0M326.4 447.7h0M322.3 456.3h0"/>
<path class="d5" d="M329.4 437.1h0M325.3 443.5h0M321.5 451.9h0M327.9 439.5h0M327.2 441.6h0M321.5 448.8h0"/>
<path class="d5" d="M326.1 455.5h0M320.6 441.4h0M323.4 445.8h0M329.3 428.4h0M329.7 437.1h0M327.0 439.2h0"/>
<path class="d5" d="M326.8 448.4h0M323.0 431.5h0M319.8 448.5h0M324.5 426.7h0M319.1 438.7h0M317.9 449.2h0"/>
<path class="d5" d="M322.8 437.1h0M318.2 442.5h0M328.2 444.6h0M320.6 455.6h0M323.4 450.3h0M329.7 440.3h0"/>
<path class="d5" d="M322.8 440.6h0M326.1 442.7h0M325.5 443.3h0M326.8 435.2h0M324.2 443.7h0M317.1 449.4h0"/>
<path class="d5" d="M317.7 437.5h0M329.6 430.2h0M322.7 443.8h0M322.7 418.0h0M320.7 434.6h0M323.0 437.3h0"/>
<path class="d5" d="M321.7 446.7h0M318.9 455.4h0M325.4 447.3h0M326.7 415.2h0M318.4 439.9h0M319.1 439.9h0"/>
<path class="d5" d="M322.7 425.5h0M326.2 444.3h0M328.9 437.0h0M325.8 429.5h0M321.1 433.7h0M325.3 440.4h0"/>
<path class="d5" d="M319.0 454.2h0M321.9 444.2h0M322.4 442.0h0M325.6 458.5h0M326.8 439.9h0M326.9 453.0h0"/>
<path class="d5" d="M326.6 432.3h0M320.0 456.3h0M329.4 435.1h0M317.5 463.3h0M329.1 421.0h0M325.2 453.8h0"/>
<path class="d5" d="M328.3 445.3h0M322.9 441.2h0M321.2 450.3h0M322.5 452.7h0M325.9 447.5h0M317.0 457.6h0"/>
<path class="d5" d="M329.0 436.6h0M327.8 446.0h0M325.6 449.3h0M323.8 438.5h0M324.6 445.0h0M321.3 458.1h0"/>
<path class="d5" d="M326.5 426.3h0M319.3 440.2h0M323.5 427.0h0M322.8 440.4h0M326.8 422.2h0M326.0 446.4h0"/>
<path class="d5" d="M321.3 443.6h0M327.7 435.5h0M324.1 443.3h0M321.5 445.0h0M326.2 448.9h0M324.3 450.6h0"/>
<path class="d5" d="M320.0 450.4h0M328.2 434.8h0M317.6 446.2h0M328.0 444.2h0M320.3 465.0h0M325.7 448.4h0"/>
<path class="d5" d="M318.0 431.5h0M321.1 452.3h0M329.5 429.6h0M320.5 451.3h0M322.3 413.3h0M319.6 450.1h0"/>
<path class="d5" d="M323.6 450.3h0M330.1 425.8h0M322.7 435.0h0M328.7 441.8h0M327.8 452.4h0M319.5 427.5h0"/>
<path class="d5" d="M319.7 442.2h0M320.4 448.9h0M329.3 433.5h0M328.5 448.7h0M320.0 443.6h0M318.8 449.9h0"/>
<path class="d5" d="M323.2 433.7h0M328.3 437.2h0M328.2 434.3h0M321.6 447.1h0M317.9 438.2h0M326.1 437.2h0"/>
<path class="d5" d="M329.6 438.6h0M327.2 443.9h0M320.8 455.2h0M329.3 435.5h0M318.8 435.9h0M317.9 445.7h0"/>
<path class="d5" d="M319.0 442.4h0M318.6 448.0h0M327.9 424.0h0M318.6 464.1h0M325.2 428.9h0M325.9 429.8h0"/>
<path class="d5" d="M319.9 435.5h0M327.8 444.8h0M325.9 448.3h0M318.3 438.2h0M323.5 438.1h0M321.3 458.1h0"/>
<path class="d5" d="M318.1 461.0h0M321.2 435.6h0M322.8 426.2h0M317.5 431.3h0M320.1 428.9h0M317.0 452.3h0"/>
<path class="d5" d="M327.6 437.3h0M318.5 455.6h0M317.9 449.7h0M325.5 430.7h0M320.1 434.1h0M318.7 464.6h0"/>
<path class="d5" d="M318.4 428.2h0M319.0 444.7h0M319.1 447.6h0M322.0 455.9h0M329.6 443.6h0M324.7 451.2h0"/>
<path class="d5" d="M321.3 437.6h0M327.1 433.7h0M321.6 440.8h0M323.6 456.5h0M327.9 426.6h0M320.2 431.1h0"/>
<path class="d5" d="M323.1 437.7h0M327.1 447.3h0M329.5 421.5h0M320.0 449.0h0M322.2 441.2h0M323.2 427.4h0"/>
<path class="d5" d="M323.6 432.1h0M323.3 439.1h0M320.3 436.2h0M325.5 431.1h0M321.0 443.8h0M326.2 441.5h0"/>
<path class="d5" d="M323.7 447.8h0M321.7 460.4h0M322.0 446.3h0M322.1 452.5h0M327.8 430.2h0M329.0 439.1h0"/>
<path class="d5" d="M330.5 426.6h0M332.9 431.5h0M330.5 437.3h0M334.4 440.4h0M338.9 439.5h0M336.1 420.0h0"/>
<path class="d5" d="M339.8 415.5h0M343.2 422.7h0M340.6 424.7h0M335.1 439.8h0M338.4 414.1h0M337.7 426.0h0"/>
<path class="d5" d="M339.2 425.8h0M340.7 421.7h0M339.4 426.9h0M337.9 419.0h0M332.1 445.0h0M337.9 427.2h0"/>
<path class="d5" d="M335.4 430.2h0M340.6 433.2h0M336.4 433.2h0M331.8 434.1h0M342.3 420.3h0M336.0 424.3h0"/>
<path class="d5" d="M341.0 428.5h0M335.3 444.5h0M340.5 432.3h0M333.7 436.4h0M341.7 429.3h0M334.3 442.9h0"/>
<path class="d5" d="M335.7 436.7h0M343.3 424.3h0M334.3 451.5h0M332.2 442.6h0M335.8 427.9h0M340.7 432.2h0"/>
<path class="d5" d="M338.8 421.9h0M333.2 434.2h0M331.3 429.1h0M339.0 422.3h0M336.8 413.0h0M341.0 427.0h0"/>
<path class="d5" d="M339.1 450.9h0M330.3 447.2h0M333.2 431.4h0M341.0 438.4h0M334.0 448.1h0M331.4 432.9h0"/>
<path class="d5" d="M330.2 435.7h0M339.8 440.1h0M333.7 425.8h0M330.9 435.4h0M333.4 445.3h0M332.9 419.4h0"/>
<path class="d5" d="M342.5 421.7h0M337.4 421.7h0M341.9 429.0h0M333.9 427.5h0M340.0 444.0h0M343.1 418.2h0"/>
<path class="d5" d="M338.3 444.0h0M339.6 434.2h0M339.1 422.2h0M335.7 423.8h0M342.2 439.6h0M334.5 436.1h0"/>
<path class="d5" d="M330.4 426.5h0M331.4 433.1h0M340.1 433.4h0M331.8 447.5h0M332.5 440.5h0M337.3 431.1h0"/>
<path class="d5" d="M334.2 427.2h0M331.2 432.7h0M343.2 424.0h0M331.4 435.0h0M339.4 421.2h0M340.1 429.1h0"/>
<path class="d5" d="M334.9 447.7h0M331.9 424.0h0M341.1 407.0h0M335.5 436.2h0M335.5 433.1h0M332.3 463.7h0"/>
<path class="d5" d="M335.6 435.9h0M342.5 424.5h0M338.8 428.5h0M343.0 444.7h0M331.6 421.5h0M337.8 441.1h0"/>
<path class="d5" d="M338.2 428.6h0M334.1 426.7h0M332.7 436.2h0M332.3 432.6h0M341.2 421.1h0M342.0 426.9h0"/>
<path class="d5" d="M330.7 437.4h0M339.9 437.6h0M336.1 432.3h0M337.7 424.2h0M339.8 420.6h0M340.1 429.5h0"/>
<path class="d5" d="M333.3 427.6h0M340.9 424.8h0M339.2 433.9h0M335.8 432.7h0M339.9 434.4h0M335.4 442.3h0"/>
<path class="d5" d="M334.5 427.6h0M340.1 436.9h0M334.5 444.3h0M334.2 415.6h0M340.6 431.0h0M332.8 427.4h0"/>
<path class="d5" d="M333.6 416.8h0M340.9 428.3h0M340.1 417.5h0M340.1 433.1h0M332.3 436.5h0M330.9 463.0h0"/>
<path class="d5" d="M342.3 437.1h0M332.0 419.7h0M335.9 429.3h0M333.1 444.2h0M338.7 443.7h0M334.2 455.2h0"/>
<path class="d5" d="M332.0 465.5h0M330.7 441.3h0M331.7 428.3h0M336.5 420.4h0M338.2 422.6h0M338.3 430.9h0"/>
<path class="d5" d="M341.0 415.3h0M339.6 430.1h0M330.2 433.7h0M339.3 431.6h0M334.5 422.1h0M333.7 433.3h0"/>
<path class="d5" d="M331.1 444.1h0M339.9 426.5h0M336.4 434.2h0M330.6 441.1h0M338.1 422.1h0M341.6 417.7h0"/>
<path class="d5" d="M330.6 432.3h0M333.4 425.5h0M335.4 439.4h0M337.4 419.8h0M333.1 432.9h0M340.2 431.7h0"/>
<path class="d5" d="M339.9 441.4h0M331.7 425.7h0M330.6 434.5h0M334.3 443.1h0M330.8 440.7h0M336.7 412.4h0"/>
<path class="d5" d="M340.1 424.0h0M333.6 422.6h0M332.7 428.9h0M331.8 442.5h0M331.1 444.6h0M332.5 444.0h0"/>
<path class="d5" d="M331.7 440.4h0M331.9 445.4h0M333.5 427.7h0M342.3 440.4h0M335.0 426.4h0M342.6 430.4h0"/>
<path class="d5" d="M340.5 437.6h0M330.3 445.6h0M343.0 425.7h0M340.6 443.6h0M340.4 430.7h0M334.2 432.9h0"/>
<path class="d5" d="M341.6 418.1h0M332.5 428.1h0M331.8 431.5h0M337.6 438.3h0M333.6 423.8h0M337.0 442.5h0"/>
<path class="d5" d="M332.7 412.6h0M337.8 432.6h0M339.3 434.2h0M332.0 428.0h0M342.9 425.4h0M334.4 438.6h0"/>
<path class="d5" d="M341.9 428.0h0M342.9 443.1h0M336.3 441.3h0M336.4 424.2h0M334.6 439.8h0M335.3 418.8h0"/>
<path class="d5" d="M337.1 438.5h0M338.1 444.4h0M341.1 428.2h0M332.7 426.4h0M336.8 426.7h0M333.0 446.5h0"/>
<path class="d5" d="M335.2 435.4h0M338.2 425.9h0M338.2 442.0h0M338.6 428.8h0M341.6 439.2h0M343.0 436.1h0"/>
<path class="d5" d="M340.9 452.0h0M330.6 436.7h0M339.3 437.9h0M333.2 425.3h0M339.9 438.7h0M332.1 427.4h0"/>
<path class="d5" d="M348.9 415.7h0M350.0 417.3h0M355.4 426.6h0M345.3 425.2h0M354.0 406.0h0M349.7 437.1h0"/>
<path class="d5" d="M343.6 443.0h0M353.0 427.8h0M351.5 405.8h0M355.0 409.3h0M347.2 423.5h0M344.8 424.2h0"/>
<path class="d5" d="M355.9 412.2h0M352.0 417.2h0M348.5 434.7h0M354.3 417.3h0M345.4 422.6h0M347.0 436.6h0"/>
<path class="d5" d="M347.1 416.1h0M346.9 447.8h0M347.0 428.2h0M354.0 411.2h0M345.1 429.0h0M345.6 426.8h0"/>
<path class="d5" d="M348.8 408.2h0M350.1 419.9h0M351.6 413.6h0M351.2 423.1h0M350.6 420.0h0M351.9 407.6h0"/>
<path class="d5" d="M352.7 437.9h0M352.3 416.4h0M356.3 428.1h0M356.3 413.6h0M345.7 416.6h0M349.9 426.3h0"/>
<path class="d5" d="M352.9 426.5h0M355.9 426.9h0M345.5 420.0h0M346.9 429.6h0M345.2 425.7h0M352.8 408.2h0"/>
<path class="d5" d="M344.5 417.2h0M348.7 430.4h0M344.1 414.2h0M349.8 428.9h0M344.5 423.5h0M356.4 424.6h0"/>
<path class="d5" d="M355.1 417.0h0M349.4 408.1h0M349.7 417.5h0M347.8 437.5h0M344.3 421.5h0M352.9 414.3h0"/>
<path class="d5" d="M346.4 432.7h0M346.3 422.9h0M345.1 405.2h0M354.1 401.6h0M344.1 452.8h0M343.7 431.4h0"/>
<path class="d5" d="M352.9 418.4h0M347.7 418.6h0M355.1 418.8h0M344.0 432.0h0M353.9 427.0h0M351.0 415.7h0"/>
<path class="d5" d="M350.7 419.8h0M347.4 422.1h0M356.3 419.3h0M352.4 414.8h0M353.8 412.1h0M349.1 423.2h0"/>
<path class="d5" d="M353.8 419.1h0M349.3 437.9h0M351.1 426.6h0M353.4 416.4h0M349.2 427.7h0M351.9 435.4h0"/>
<path class="d5" d="M348.2 418.3h0M348.7 426.9h0M350.5 436.2h0M344.4 430.1h0M345.4 421.0h0M346.6 436.9h0"/>
<path class="d5" d="M350.1 411.0h0M354.6 421.3h0M348.5 427.5h0M344.3 412.8h0M348.8 412.2h0M354.2 426.6h0"/>
<path class="d5" d="M355.9 412.3h0M343.8 423.6h0M351.3 422.8h0M355.7 430.8h0M349.2 425.1h0M349.8 412.2h0"/>
<path class="d5" d="M347.4 432.2h0M355.5 425.3h0M349.4 425.0h0M343.6 430.0h0M343.6 422.8h0M345.5 418.3h0"/>
<path class="d5" d="M350.7 418.0h0M353.8 427.4h0M345.6 418.9h0M356.2 418.8h0M349.8 422.5h0M349.6 415.6h0"/>
<path class="d5" d="M351.1 406.5h0M351.0 418.6h0M344.6 418.9h0M349.5 418.0h0M345.2 421.1h0M344.8 409.3h0"/>
<path class="d5" d="M343.4 420.1h0M350.9 402.0h0M343.5 422.1h0M346.8 411.8h0M343.5 433.8h0M349.8 423.7h0"/>
<path class="d5" d="M346.6 429.2h0M348.5 437.3h0M352.2 413.0h0M356.5 413.2h0M355.5 413.8h0M345.4 420.7h0"/>
<path class="d5" d="M353.1 411.6h0M345.3 415.4h0M351.3 425.0h0M354.3 422.0h0M353.7 409.6h0M349.8 423.8h0"/>
<path class="d5" d="M350.5 420.2h0M354.4 413.2h0M354.8 417.0h0M352.8 411.4h0M350.0 419.4h0M355.1 410.3h0"/>
<path class="d5" d="M354.7 422.8h0M350.1 415.9h0M353.8 422.4h0M347.9 418.0h0M348.0 419.8h0M354.6 415.6h0"/>
<path class="d5" d="M349.2 417.2h0M351.8 427.2h0M350.5 412.7h0M353.2 409.4h0M353.0 422.2h0M348.8 418.7h0"/>
<path class="d5" d="M356.0 412.4h0M343.8 437.4h0M350.6 418.2h0M344.8 421.4h0M355.6 414.6h0M351.1 419.5h0"/>
<path class="d5" d="M350.1 421.1h0M350.0 431.4h0M353.4 407.6h0M343.9 428.0h0M348.1 416.9h0M350.8 424.4h0"/>
<path class="d5" d="M353.2 421.1h0M354.1 408.6h0M348.4 425.3h0M351.6 437.4h0M344.1 431.1h0M354.3 418.8h0"/>
<path class="d5" d="M351.8 428.4h0M353.2 417.5h0M347.1 430.0h0M348.2 414.5h0M346.3 426.1h0M350.2 414.0h0"/>
<path class="d5" d="M354.0 409.6h0M349.7 426.6h0M349.2 416.6h0M345.5 415.4h0M351.4 423.3h0M346.9 427.9h0"/>
<path class="d5" d="M355.8 417.7h0M348.1 427.7h0M345.5 434.0h0M345.6 434.3h0M354.4 414.0h0M343.9 433.6h0"/>
<path class="d5" d="M346.4 436.5h0M345.4 435.5h0M343.4 432.9h0M353.4 421.4h0M352.6 421.7h0M345.2 429.7h0"/>
<path class="d5" d="M351.2 416.7h0M344.6 404.9h0M346.5 421.7h0M354.4 420.0h0M348.1 432.4h0M345.5 428.0h0"/>
<path class="d5" d="M345.1 426.7h0M345.7 435.6h0M351.0 427.6h0M347.8 424.4h0M348.0 404.2h0M352.0 405.7h0"/>
<path class="d5" d="M348.9 426.0h0M346.2 427.9h0M344.1 410.5h0M348.2 429.3h0M348.3 428.2h0M347.9 433.0h0"/>
<path class="d5" d="M357.4 437.9h0M363.9 426.9h0M363.8 407.9h0M360.0 418.0h0M362.6 411.8h0M362.8 425.5h0"/>
<path class="d5" d="M361.2 415.8h0M364.1 408.2h0M359.7 409.0h0M367.4 415.9h0M357.6 410.5h0M363.6 424.8h0"/>
<path class="d5" d="M368.2 407.2h0M362.5 406.7h0M356.7 406.8h0M359.9 416.7h0M366.7 408.8h0M366.3 430.7h0"/>
<path class="d5" d="M358.0 416.8h0M369.2 417.8h0M359.1 434.9h0M357.3 423.3h0M357.7 400.4h0M361.0 394.2h0"/>
<path class="d5" d="M360.4 427.4h0M358.0 409.5h0M358.9 406.7h0M369.1 411.2h0M363.7 418.4h0M357.8 408.6h0"/>
<path class="d5" d="M363.7 406.4h0M363.8 419.4h0M359.1 403.2h0M356.8 407.1h0M358.0 414.1h0M361.7 409.4h0"/>
<path class="d5" d="M359.3 397.3h0M359.1 406.6h0M362.7 407.8h0M363.2 420.9h0M360.6 409.6h0M360.9 416.8h0"/>
<path class="d5" d="M360.2 405.6h0M367.4 401.6h0M362.3 390.9h0M363.5 420.9h0M361.9 420.4h0M366.3 417.7h0"/>
<path class="d5" d="M366.7 415.2h0M359.5 410.7h0M360.1 410.8h0M362.6 420.1h0M360.2 406.9h0M368.1 421.4h0"/>
<path class="d5" d="M367.1 399.7h0M360.6 404.1h0M359.6 412.7h0M363.5 419.3h0M365.8 411.1h0M368.7 422.9h0"/>
<path class="d5" d="M368.0 415.8h0M360.7 411.3h0M365.1 419.8h0M368.9 404.5h0M362.0 415.6h0M361.9 420.9h0"/>
<path class="d5" d="M363.1 407.0h0M358.9 417.8h0M357.1 408.6h0M358.7 418.8h0M365.1 412.0h0M365.5 400.4h0"/>
<path class="d5" d="M364.5 415.9h0M365.3 416.2h0M367.7 409.5h0M360.4 413.1h0M366.5 404.6h0M361.9 402.6h0"/>
<path class="d5" d="M360.8 430.0h0M358.0 410.8h0M363.2 405.7h0M368.1 417.5h0M356.8 408.7h0M359.3 404.8h0"/>
<path class="d5" d="M364.0 411.9h0M359.3 408.3h0M356.9 426.3h0M360.2 416.6h0M356.7 398.4h0M362.8 421.4h0"/>
<path class="d5" d="M366.7 417.0h0M364.1 419.5h0M360.2 411.2h0M362.4 406.8h0M362.9 407.9h0M363.3 392.5h0"/>
<path class="d5" d="M362.0 412.7h0M366.2 414.9h0M366.5 406.1h0M358.5 414.2h0M357.0 416.5h0M357.8 411.0h0"/>
<path class="d5" d="M367.6 413.6h0M361.4 410.1h0M368.6 404.3h0M365.5 411.0h0M361.5 401.3h0M368.9 397.8h0"/>
<path class="d5" d="M365.0 411.7h0M359.2 413.9h0M367.8 389.9h0M363.6 402.9h0M361.6 414.9h0M367.3 407.8h0"/>
<path class="d5" d="M359.5 403.9h0M357.5 421.2h0M365.9 405.1h0M362.6 420.8h0M367.1 403.4h0M357.8 416.2h0"/>
<path class="d5" d="M357.5 414.1h0M365.3 420.1h0M367.6 412.1h0M367.0 414.5h0M365.5 413.0h0M361.9 412.0h0"/>
<path class="d5" d="M356.7 408.4h0M361.6 414.1h0M365.2 400.6h0M363.6 416.2h0M368.2 404.4h0M361.9 407.2h0"/>
<path class="d5" d="M363.4 407.6h0M357.4 414.9h0M368.3 404.8h0M362.5 418.7h0M363.4 425.1h0M363.6 411.7h0"/>
<path class="d5" d="M366.4 415.3h0M357.9 404.1h0M368.3 402.0h0M368.0 401.2h0M367.9 415.8h0M361.8 413.2h0"/>
<path class="d5" d="M365.2 402.6h0M362.0 407.2h0M356.5 411.3h0M363.1 408.3h0M362.6 414.2h0M365.8 419.1h0"/>
<path class="d5" d="M358.6 422.7h0M361.0 414.1h0M369.1 390.3h0M367.6 414.4h0M368.5 394.6h0M358.5 407.2h0"/>
<path class="d5" d="M367.2 417.9h0M362.8 416.7h0M357.0 426.1h0M366.8 417.7h0M369.1 405.3h0M369.2 429.1h0"/>
<path class="d5" d="M363.7 406.0h0M367.6 410.2h0M368.9 397.9h0M360.4 420.8h0M357.3 433.9h0M356.8 415.7h0"/>
<path class="d5" d="M368.7 417.1h0M366.0 409.5h0M357.2 417.3h0M359.8 405.2h0M364.2 411.1h0M366.3 402.0h0"/>
<path class="d5" d="M364.4 406.6h0M364.7 411.3h0M365.4 407.0h0M367.7 397.5h0M367.3 408.6h0M360.2 410.7h0"/>
<path class="d5" d="M360.0 421.7h0M361.2 398.4h0M367.0 422.4h0M368.6 390.6h0M362.8 430.3h0M367.1 421.0h0"/>
<path class="d5" d="M357.3 406.1h0M365.1 425.8h0M366.9 402.4h0M360.0 406.5h0M361.4 413.7h0M367.0 406.7h0"/>
<path class="d5" d="M364.4 409.6h0M366.2 390.8h0M362.9 424.7h0M364.1 403.8h0M365.7 411.0h0M358.5 421.8h0"/>
<path class="d5" d="M358.9 402.3h0M361.2 439.0h0M359.9 406.6h0M362.9 428.0h0"/>
<path class="d6" d="M242.8 480.4h0M279.3 449.7h0M277.5 450.1h0M279.0 459.4h0M297.5 436.9h0M302.0 429.8h0"/>
<path class="d6" d="M276.2 458.4h0M264.4 467.2h0M303.3 441.7h0M263.4 463.1h0M277.7 458.1h0M252.1 471.6h0"/>
<path class="d6" d="M253.6 471.3h0M281.2 450.9h0M259.3 469.3h0M275.1 451.3h0M269.0 455.8h0M261.0 463.2h0"/>
<path class="d6" d="M266.4 464.2h0M258.7 463.6h0M248.7 468.4h0M260.6 465.3h0M300.3 438.8h0M255.5 469.5h0"/>
<path class="d6" d="M358.3 434.6h0M314.1 465.0h0M363.1 431.2h0M295.1 479.1h0M350.6 442.1h0M321.6 474.7h0"/>
<path class="d6" d="M311.7 482.8h0M365.8 438.7h0M292.9 486.8h0M297.3 489.3h0M356.7 435.1h0M321.9 473.4h0"/>
<path class="d6" d="M364.7 426.6h0M346.5 440.5h0M304.3 471.4h0M366.5 425.6h0M363.6 444.7h0M350.0 446.7h0"/>
<path class="d6" d="M330.9 451.5h0M307.9 471.8h0M351.4 447.3h0M306.1 474.7h0M355.8 447.5h0M291.8 496.8h0"/>
<path class="d6" d="M323.7 466.0h0M356.9 434.1h0M309.9 469.9h0M344.6 459.8h0M293.7 483.1h0M294.0 496.1h0"/>
<path class="d6" d="M330.0 462.4h0M319.1 478.5h0M354.1 387.0h0M327.9 411.4h0M331.2 387.8h0M340.1 381.9h0"/>
<path class="d6" d="M316.4 413.8h0M307.4 412.1h0M350.5 390.2h0M309.4 404.8h0M351.5 378.7h0M320.2 416.6h0"/>
<path class="d6" d="M245.8 433.6h0M290.6 406.4h0M253.7 431.6h0M324.9 381.2h0M353.9 375.4h0"/>
<line x1="237.90" y1="503.40" x2="369.70" y2="406.40" stroke="#444" stroke-width="0.5"/>
<line x1="244.49" y1="479.41" x2="244.49" y2="493.52" stroke="#333" stroke-width="0.55"/>
<line x1="244.49" y1="505.13" x2="244.49" y2="503.40" stroke="#333" stroke-width="0.55"/>
<rect x="238.69" y="493.52" width="11.60" height="11.60" fill="#e9b22e" stroke="#333" stroke-width="0.6" fill-opacity="0.15"/>
<line x1="238.69" y1="499.33" x2="250.29" y2="499.33" stroke="#111" stroke-width="1.0"/>
<line x1="257.67" y1="469.50" x2="257.67" y2="483.76" stroke="#333" stroke-width="0.55"/>
<line x1="257.67" y1="495.49" x2="257.67" y2="503.40" stroke="#333" stroke-width="0.55"/>
<rect x="251.87" y="483.76" width="11.60" height="11.73" fill="#e9b22e" stroke="#333" stroke-width="0.6" fill-opacity="0.15"/>
<line x1="251.87" y1="489.63" x2="263.47" y2="489.63" stroke="#111" stroke-width="1.0"/>
<line x1="270.85" y1="459.59" x2="270.85" y2="474.00" stroke="#333" stroke-width="0.55"/>
<line x1="270.85" y1="485.85" x2="270.85" y2="500.27" stroke="#333" stroke-width="0.55"/>
<rect x="265.05" y="474.00" width="11.60" height="11.85" fill="#e9b22e" stroke="#333" stroke-width="0.6" fill-opacity="0.15"/>
<line x1="265.05" y1="479.93" x2="276.65" y2="479.93" stroke="#111" stroke-width="1.0"/>
<line x1="284.03" y1="449.67" x2="284.03" y2="464.24" stroke="#333" stroke-width="0.55"/>
<line x1="284.03" y1="476.21" x2="284.03" y2="490.78" stroke="#333" stroke-width="0.55"/>
<rect x="278.23" y="464.24" width="11.60" height="11.97" fill="#e9b22e" stroke="#333" stroke-width="0.6" fill-opacity="0.15"/>
<line x1="278.23" y1="470.23" x2="289.83" y2="470.23" stroke="#111" stroke-width="1.0"/>
<line x1="297.21" y1="439.76" x2="297.21" y2="454.48" stroke="#333" stroke-width="0.55"/>
<line x1="297.21" y1="466.57" x2="297.21" y2="481.29" stroke="#333" stroke-width="0.55"/>
<rect x="291.41" y="454.48" width="11.60" height="12.10" fill="#e9b22e" stroke="#333" stroke-width="0.6" fill-opacity="0.15"/>
<line x1="291.41" y1="460.53" x2="303.01" y2="460.53" stroke="#111" stroke-width="1.0"/>
<line x1="310.39" y1="429.85" x2="310.39" y2="444.72" stroke="#333" stroke-width="0.55"/>
<line x1="310.39" y1="456.94" x2="310.39" y2="471.80" stroke="#333" stroke-width="0.55"/>
<rect x="304.59" y="444.72" width="11.60" height="12.22" fill="#e9b22e" stroke="#333" stroke-width="0.6" fill-opacity="0.15"/>
<line x1="304.59" y1="450.83" x2="316.19" y2="450.83" stroke="#111" stroke-width="1.0"/>
<line x1="323.57" y1="419.94" x2="323.57" y2="434.95" stroke="#333" stroke-width="0.55"/>
<line x1="323.57" y1="447.30" x2="323.57" y2="462.31" stroke="#333" stroke-width="0.55"/>
<rect x="317.77" y="434.95" width="11.60" height="12.34" fill="#e9b22e" stroke="#333" stroke-width="0.6" fill-opacity="0.15"/>
<line x1="317.77" y1="441.13" x2="329.37" y2="441.13" stroke="#111" stroke-width="1.0"/>
<line x1="336.75" y1="410.03" x2="336.75" y2="425.19" stroke="#333" stroke-width="0.55"/>
<line x1="336.75" y1="437.66" x2="336.75" y2="452.83" stroke="#333" stroke-width="0.55"/>
<rect x="330.95" y="425.19" width="11.60" height="12.47" fill="#e9b22e" stroke="#333" stroke-width="0.6" fill-opacity="0.15"/>
<line x1="330.95" y1="431.43" x2="342.55" y2="431.43" stroke="#111" stroke-width="1.0"/>
<line x1="349.93" y1="400.11" x2="349.93" y2="415.43" stroke="#333" stroke-width="0.55"/>
<line x1="349.93" y1="428.02" x2="349.93" y2="443.34" stroke="#333" stroke-width="0.55"/>
<rect x="344.13" y="415.43" width="11.60" height="12.59" fill="#e9b22e" stroke="#333" stroke-width="0.6" fill-opacity="0.15"/>
<line x1="344.13" y1="421.73" x2="355.73" y2="421.73" stroke="#111" stroke-width="1.0"/>
<line x1="363.11" y1="390.20" x2="363.11" y2="405.67" stroke="#333" stroke-width="0.55"/>
<line x1="363.11" y1="418.38" x2="363.11" y2="433.85" stroke="#333" stroke-width="0.55"/>
<rect x="357.31" y="405.67" width="11.60" height="12.72" fill="#e9b22e" stroke="#333" stroke-width="0.6" fill-opacity="0.15"/>
<line x1="357.31" y1="412.03" x2="368.91" y2="412.03" stroke="#111" stroke-width="1.0"/>
<line x1="235.90" y1="484.00" x2="237.90" y2="484.00" stroke="#444" stroke-width="0.7"/>
<text x="233.70" y="487.10" font-size="8.5" text-anchor="end" fill="#222">0.1</text>
<line x1="235.90" y1="445.20" x2="237.90" y2="445.20" stroke="#444" stroke-width="0.7"/>
<text x="233.70" y="448.30" font-size="8.5" text-anchor="end" fill="#222">0.3</text>
<line x1="235.90" y1="406.40" x2="237.90" y2="406.40" stroke="#444" stroke-width="0.7"/>
<text x="233.70" y="409.50" font-size="8.5" text-anchor="end" fill="#222">0.5</text>
<line x1="235.90" y1="367.60" x2="237.90" y2="367.60" stroke="#444" stroke-width="0.7"/>
<text x="233.70" y="370.70" font-size="8.5" text-anchor="end" fill="#222">0.7</text>
<line x1="237.90" y1="503.40" x2="237.90" y2="505.40" stroke="#444" stroke-width="0.7"/>
<text x="237.90" y="516.60" font-size="8.5" text-anchor="middle" fill="#222">0</text>
<line x1="264.26" y1="503.40" x2="264.26" y2="505.40" stroke="#444" stroke-width="0.7"/>
<text x="264.26" y="516.60" font-size="8.5" text-anchor="middle" fill="#222">0.1</text>
<line x1="290.62" y1="503.40" x2="290.62" y2="505.40" stroke="#444" stroke-width="0.7"/>
<text x="290.62" y="516.60" font-size="8.5" text-anchor="middle" fill="#222">0.2</text>
<line x1="316.98" y1="503.40" x2="316.98" y2="505.40" stroke="#444" stroke-width="0.7"/>
<text x="316.98" y="516.60" font-size="8.5" text-anchor="middle" fill="#222">0.3</text>
<line x1="343.34" y1="503.40" x2="343.34" y2="505.40" stroke="#444" stroke-width="0.7"/>
<text x="343.34" y="516.60" font-size="8.5" text-anchor="middle" fill="#222">0.4</text>
<line x1="369.70" y1="503.40" x2="369.70" y2="505.40" stroke="#444" stroke-width="0.7"/>
<text x="369.70" y="516.60" font-size="8.5" text-anchor="middle" fill="#222">0.5</text>
<rect x="240.90" y="374.20" width="76.30" height="22.80" fill="#fff" stroke="#333" stroke-width="0.8" stroke-dasharray="2.8,1.5"/>
<text x="246.70" y="382.90" font-size="8.1" fill="#222">RMSE = <tspan fill="#222">0.0518</tspan></text>
<text x="246.70" y="392.60" font-size="8.1" fill="#222">PCC = <tspan fill="#222">0.9376</tspan></text>
<text x="354.40" y="496.50" font-size="8.3" text-anchor="end" fill="#222">n = 200</text>
<rect x="423.90" y="355.80" width="67.80" height="8.80" fill="#a6a6a6" stroke="none" stroke-width="1"/>
<text x="457.80" y="362.90" font-size="8.2" text-anchor="middle" fill="#fff" font-weight="bold">CancerLocator</text>
<rect x="390.80" y="367.60" width="133.20" height="135.80" fill="#fff" stroke="#444" stroke-width="0.9"/>
<path class="d5" d="M391.8 501.8h0M402.8 490.8h0M397.4 499.0h0M397.6 500.5h0M402.0 502.5h0M402.5 496.5h0"/>
<path class="d5" d="M395.7 492.3h0M392.5 502.1h0M390.9 503.1h0M401.9 503.2h0M403.5 493.6h0M392.4 500.5h0"/>
<path class="d5" d="M403.8 491.8h0M391.1 501.6h0M391.5 499.0h0M393.0 500.9h0M394.9 498.0h0M401.6 496.7h0"/>
<path class="d5" d="M400.6 501.7h0M401.1 498.5h0M398.6 497.2h0M394.1 497.1h0M396.1 494.8h0M391.7 503.1h0"/>
<path class="d5" d="M397.2 496.9h0M400.2 501.2h0M392.0 496.7h0M391.4 500.5h0M394.8 502.6h0M391.3 501.2h0"/>
<path class="d5" d="M390.9 497.1h0M403.5 496.3h0M397.3 490.0h0M399.0 500.0h0M397.8 501.5h0M395.8 499.9h0"/>
<path class="d5" d="M400.4 493.4h0M397.6 490.2h0M398.8 494.7h0M392.6 502.1h0M394.1 500.0h0M403.5 494.2h0"/>
<path class="d5" d="M398.7 489.9h0M395.0 501.8h0M403.7 489.4h0M391.9 503.0h0M395.0 498.2h0M391.9 499.0h0"/>
<path class="d5" d="M400.3 493.3h0M401.2 496.2h0M398.6 502.1h0M395.8 498.7h0M401.7 483.6h0M393.2 499.2h0"/>
<path class="d5" d="M390.8 498.3h0M399.8 501.8h0M401.0 497.6h0M395.0 498.8h0M403.5 490.8h0M396.7 499.5h0"/>
<path class="d5" d="M396.8 498.6h0M401.8 495.6h0M394.2 503.1h0M391.9 503.3h0M402.6 502.2h0M402.3 495.2h0"/>
<path class="d5" d="M400.8 490.6h0M404.0 490.9h0M397.5 495.9h0M404.0 492.6h0M403.8 493.8h0M400.3 492.4h0"/>
<path class="d5" d="M397.6 493.3h0M399.1 485.3h0M395.7 494.6h0M400.8 495.3h0M393.2 495.7h0M403.1 490.5h0"/>
<path class="d5" d="M395.8 502.6h0M397.7 497.3h0M392.5 502.6h0M393.4 498.6h0M392.0 503.0h0M402.1 493.1h0"/>
<path class="d5" d="M395.1 492.4h0M394.4 502.6h0M392.9 502.5h0M397.9 500.5h0M392.4 501.6h0M396.7 500.6h0"/>
<path class="d5" d="M394.2 497.7h0M404.1 495.6h0M400.0 491.7h0M392.8 501.9h0M401.3 497.5h0M403.5 493.2h0"/>
<path class="d5" d="M401.4 500.3h0M391.8 502.6h0M403.9 495.7h0M397.3 493.4h0M397.1 489.4h0M397.4 497.5h0"/>
<path class="d5" d="M396.0 493.9h0M400.4 503.4h0M402.9 495.9h0M395.4 498.3h0M398.8 495.9h0M399.2 503.1h0"/>
<path class="d5" d="M398.8 500.6h0M391.0 502.0h0M398.1 498.4h0M399.0 495.7h0M402.0 496.7h0M399.1 490.7h0"/>
<path class="d5" d="M399.9 491.9h0M391.9 502.2h0M399.0 500.2h0M399.8 493.0h0M393.1 501.8h0M391.8 501.4h0"/>
<path class="d5" d="M402.1 496.4h0M401.0 500.5h0M391.9 494.7h0M399.1 483.9h0M393.0 498.5h0M398.1 494.5h0"/>
<path class="d5" d="M404.0 491.2h0M396.7 493.3h0M398.2 495.9h0M401.9 496.1h0M400.5 496.6h0M400.7 493.8h0"/>
<path class="d5" d="M402.2 496.6h0M398.2 496.0h0M399.7 499.9h0M392.2 499.0h0M392.7 500.8h0M392.4 495.0h0"/>
<path class="d5" d="M393.4 503.1h0M394.0 500.4h0M400.6 495.7h0M391.9 497.1h0M397.7 500.0h0M393.3 502.6h0"/>
<path class="d5" d="M391.2 503.3h0M392.1 498.1h0M396.5 500.9h0M399.6 497.0h0M403.5 495.6h0M401.9 500.2h0"/>
<path class="d5" d="M403.4 483.2h0M401.0 499.5h0M403.4 493.9h0M392.6 502.6h0M397.3 499.7h0M395.6 503.3h0"/>
<path class="d5" d="M391.9 499.4h0M402.1 494.2h0M391.6 500.3h0M403.7 490.1h0M393.7 500.0h0M395.4 499.7h0"/>
<path class="d5" d="M390.9 503.2h0M393.3 502.9h0M391.8 502.9h0M393.0 500.0h0M393.4 500.9h0M395.7 493.5h0"/>
<path class="d5" d="M393.6 492.7h0M402.2 494.4h0M403.4 495.5h0M395.2 503.0h0M393.4 502.7h0M403.3 492.5h0"/>
<path class="d5" d="M393.5 503.3h0M399.6 503.2h0M399.0 495.0h0M397.7 497.7h0M398.8 489.8h0M393.7 503.1h0"/>
<path class="d5" d="M392.8 501.9h0M402.9 495.2h0M392.0 501.6h0M391.9 502.2h0M392.2 502.3h0M390.9 501.9h0"/>
<path class="d5" d="M397.0 496.7h0M396.0 502.3h0M390.9 502.2h0M396.4 503.0h0M398.7 502.1h0M398.1 500.7h0"/>
<path class="d5" d="M398.3 496.9h0M391.1 501.2h0M401.2 495.6h0M393.7 496.7h0M394.9 503.1h0M392.2 499.5h0"/>
<path class="d5" d="M394.7 503.0h0M397.9 497.1h0M391.7 501.0h0M400.6 499.8h0M398.2 496.5h0M393.2 502.7h0"/>
<path class="d5" d="M399.0 497.3h0M401.0 492.2h0M397.6 497.0h0M400.6 493.4h0M399.5 491.1h0M394.6 502.9h0"/>
<path class="d5" d="M413.5 479.1h0M416.3 492.1h0M406.1 492.3h0M415.0 482.6h0M413.4 490.1h0M409.6 490.9h0"/>
<path class="d5" d="M413.3 476.5h0M413.5 484.7h0M416.0 479.1h0M408.1 492.6h0M409.2 496.7h0M407.8 490.5h0"/>
<path class="d5" d="M408.0 498.9h0M404.3 494.2h0M416.1 488.6h0M411.5 493.1h0M415.1 489.8h0M405.3 491.0h0"/>
<path class="d5" d="M408.6 487.0h0M412.7 486.0h0M408.9 485.5h0M415.3 488.7h0M406.9 482.3h0M416.2 486.3h0"/>
<path class="d5" d="M414.8 488.8h0M415.4 485.9h0M416.9 493.0h0M412.4 485.3h0M414.4 480.0h0M406.0 496.1h0"/>
<path class="d5" d="M410.0 492.9h0M413.5 487.8h0M408.5 486.6h0M413.9 484.1h0M412.6 489.9h0M413.3 482.3h0"/>
<path class="d5" d="M415.4 482.8h0M409.6 487.6h0M407.0 489.8h0M406.0 488.6h0M404.6 497.9h0M412.3 485.3h0"/>
<path class="d5" d="M416.5 479.2h0M407.9 493.0h0M412.4 494.0h0M416.5 482.3h0M414.2 477.0h0M414.3 487.1h0"/>
<path class="d5" d="M417.4 484.8h0M413.1 495.6h0M417.0 489.4h0M412.3 488.7h0M406.7 490.5h0M408.9 496.1h0"/>
<path class="d5" d="M413.1 488.9h0M408.3 497.2h0M411.0 483.6h0M404.4 493.1h0M412.0 484.7h0M414.5 484.4h0"/>
<path class="d5" d="M413.5 486.6h0M416.9 483.2h0M409.9 483.9h0M415.0 483.5h0M412.0 489.4h0M409.0 484.4h0"/>
<path class="d5" d="M416.7 483.5h0M412.3 491.1h0M414.9 485.1h0M411.7 485.5h0M412.6 493.1h0M412.1 485.0h0"/>
<path class="d5" d="M413.4 483.2h0M406.1 489.7h0M407.1 485.7h0M415.2 489.3h0M409.5 489.3h0M414.4 484.1h0"/>
<path class="d5" d="M415.6 485.8h0M414.3 489.9h0M416.0 487.2h0M417.2 478.4h0M406.8 496.6h0M411.7 495.3h0"/>
<path class="d5" d="M416.3 487.9h0M408.9 490.2h0M408.3 495.4h0M415.2 485.9h0M412.5 485.5h0M405.1 499.2h0"/>
<path class="d5" d="M406.5 486.5h0M408.9 484.7h0M415.1 477.9h0M412.9 493.6h0M407.3 486.5h0M414.7 483.0h0"/>
<path class="d5" d="M415.9 483.7h0M409.7 488.9h0M412.2 491.2h0M414.2 479.3h0M415.2 482.8h0M416.7 486.0h0"/>
<path class="d5" d="M405.0 499.4h0M405.7 497.8h0M407.7 493.2h0M405.6 497.3h0M404.8 495.2h0M406.1 493.9h0"/>
<path class="d5" d="M407.6 493.1h0M408.5 490.9h0M407.9 491.1h0M410.3 480.9h0M414.6 474.8h0M407.3 496.3h0"/>
<path class="d5" d="M413.2 486.2h0M412.5 486.5h0M411.2 486.4h0M413.7 483.1h0M412.3 480.1h0M404.4 487.6h0"/>
<path class="d5" d="M409.5 492.6h0M406.2 494.5h0M411.1 486.2h0M405.6 494.2h0M408.2 489.3h0M412.0 488.3h0"/>
<path class="d5" d="M412.8 484.8h0M414.1 487.3h0M409.8 480.5h0M412.3 494.9h0M412.5 484.3h0M416.2 481.9h0"/>
<path class="d5" d="M412.7 487.7h0M415.0 482.4h0M414.7 491.9h0M406.9 498.7h0M410.6 483.5h0M409.3 495.8h0"/>
<path class="d5" d="M409.3 485.0h0M406.6 497.4h0M408.6 490.3h0M410.2 484.7h0M404.5 485.7h0M409.9 489.0h0"/>
<path class="d5" d="M404.3 500.2h0M408.7 488.5h0M406.8 485.6h0M410.8 495.3h0M413.1 490.3h0M408.6 496.1h0"/>
<path class="d5" d="M409.2 489.6h0M405.2 488.5h0M414.7 486.3h0M406.8 490.7h0M415.0 488.7h0M404.8 494.9h0"/>
<path class="d5" d="M409.4 496.1h0M405.8 494.8h0M414.4 483.0h0M417.0 489.9h0M407.2 491.3h0M416.0 481.6h0"/>
<path class="d5" d="M415.6 483.5h0M408.7 482.7h0M414.9 488.0h0M412.3 481.0h0M412.1 483.5h0M407.3 496.6h0"/>
<path class="d5" d="M409.0 491.0h0M409.8 483.6h0M410.7 492.7h0M410.1 481.2h0M410.4 494.7h0M408.8 488.3h0"/>
<path class="d5" d="M410.4 483.3h0M407.0 490.9h0M409.3 488.3h0M409.0 488.9h0M412.4 476.4h0M406.8 491.6h0"/>
<path class="d5" d="M408.3 490.9h0M415.6 472.8h0M417.0 484.6h0M405.5 501.0h0M407.8 486.7h0M406.2 495.3h0"/>
<path class="d5" d="M409.4 497.1h0M413.2 485.6h0M410.7 488.1h0M413.0 480.5h0M409.1 484.6h0M405.3 493.0h0"/>
<path class="d5" d="M409.2 494.5h0M414.5 486.9h0M413.6 494.4h0M414.7 482.9h0M407.1 491.0h0M416.8 484.4h0"/>
<path class="d5" d="M414.2 486.3h0M415.3 485.8h0M407.1 492.3h0M410.6 478.6h0M417.0 488.3h0M412.3 497.4h0"/>
<path class="d5" d="M416.9 487.7h0M408.0 494.5h0M411.5 487.8h0M416.6 467.4h0M416.2 483.5h0M412.4 497.6h0"/>
<path class="d5" d="M430.7 471.5h0M423.7 476.9h0M419.1 475.3h0M427.6 474.2h0M430.0 477.0h0M421.3 492.9h0"/>
<path class="d5" d="M420.8 482.1h0M418.5 483.1h0M421.8 490.2h0M423.6 486.0h0M425.4 473.3h0M427.1 465.1h0"/>
<path class="d5" d="M422.9 471.1h0M422.6 479.5h0M427.7 474.2h0M425.5 467.1h0M424.3 482.9h0M422.1 478.3h0"/>
<path class="d5" d="M421.9 483.0h0M419.2 483.5h0M428.2 476.0h0M429.7 474.8h0M420.7 481.3h0M430.2 479.6h0"/>
<path class="d5" d="M419.1 483.0h0M419.7 474.6h0M422.1 489.1h0M426.1 472.4h0M423.8 479.5h0M430.5 472.3h0"/>
<path class="d5" d="M422.1 476.4h0M419.1 479.0h0M422.7 478.4h0M424.2 471.6h0M430.3 470.1h0M425.3 479.9h0"/>
<path class="d5" d="M419.2 472.3h0M423.2 480.5h0M427.2 476.7h0M417.8 483.1h0M421.7 485.0h0M420.5 481.9h0"/>
<path class="d5" d="M426.9 476.5h0M421.9 476.2h0M417.8 476.7h0M418.1 486.4h0M417.9 483.3h0M420.8 478.6h0"/>
<path class="d5" d="M427.4 470.7h0M417.7 490.7h0M427.0 479.7h0M420.0 488.9h0M425.5 473.4h0M428.3 471.3h0"/>
<path class="d5" d="M427.3 470.3h0M421.5 491.5h0M420.5 486.7h0M420.9 474.7h0M419.1 489.3h0M417.8 490.4h0"/>
<path class="d5" d="M425.0 481.5h0M426.5 473.0h0M428.3 478.3h0M420.4 479.2h0M430.3 470.9h0M422.4 474.6h0"/>
<path class="d5" d="M427.9 484.3h0M430.6 468.8h0M419.0 493.2h0M428.4 481.3h0M429.0 478.9h0M421.2 487.1h0"/>
<path class="d5" d="M424.8 472.8h0M423.7 475.3h0M429.6 469.5h0M422.5 482.5h0M429.0 482.1h0M420.0 478.7h0"/>
<path class="d5" d="M428.5 479.9h0M417.5 488.5h0M422.6 474.4h0M430.5 482.9h0M421.1 484.8h0M427.3 476.1h0"/>
<path class="d5" d="M422.8 474.0h0M419.9 480.4h0M428.4 476.0h0M424.6 480.4h0M424.7 480.6h0M421.9 479.9h0"/>
<path class="d5" d="M418.7 480.4h0M418.2 483.7h0M421.5 485.6h0M427.1 478.2h0M429.2 478.0h0M418.7 479.7h0"/>
<path class="d5" d="M423.5 480.6h0M425.5 476.0h0M430.1 475.2h0M427.4 480.8h0M425.5 477.6h0M423.3 480.8h0"/>
<path class="d5" d="M425.2 477.3h0M420.6 478.6h0M424.3 474.5h0M423.8 485.7h0M425.8 480.2h0M425.8 473.8h0"/>
<path class="d5" d="M424.5 469.0h0M421.4 473.3h0M420.9 483.2h0M429.4 463.7h0M426.0 473.4h0M418.1 483.1h0"/>
<path class="d5" d="M424.5 477.8h0M427.6 472.7h0M418.4 481.4h0M430.3 477.3h0M426.4 475.0h0M425.2 482.3h0"/>
<path class="d5" d="M427.0 471.6h0M418.9 486.4h0M430.6 469.3h0M422.9 474.7h0M426.1 476.1h0M421.6 479.0h0"/>
<path class="d5" d="M419.8 479.7h0M424.4 474.3h0M430.2 476.3h0M429.9 476.5h0M430.7 466.2h0M425.5 474.0h0"/>
<path class="d5" d="M426.5 479.3h0M426.9 481.7h0M428.4 477.7h0M428.2 473.5h0M424.7 476.2h0M417.7 484.3h0"/>
<path class="d5" d="M426.2 482.0h0M424.7 478.0h0M429.6 478.4h0M421.9 472.1h0M427.5 479.9h0M426.7 477.1h0"/>
<path class="d5" d="M423.9 470.8h0M419.4 494.8h0M423.1 478.9h0M418.8 486.0h0M430.6 468.7h0M426.2 473.9h0"/>
<path class="d5" d="M426.0 485.4h0M420.5 480.1h0M426.8 479.7h0M418.2 480.6h0M420.2 477.8h0M429.8 480.0h0"/>
<path class="d5" d="M422.6 493.0h0M424.1 478.5h0M421.1 473.0h0M418.1 470.0h0M428.2 479.6h0M424.5 469.2h0"/>
<path class="d5" d="M421.0 473.4h0M428.6 478.8h0M418.9 481.1h0M421.9 483.8h0M418.1 491.2h0M427.5 479.1h0"/>
<path class="d5" d="M417.5 480.2h0M428.3 472.0h0M420.8 478.2h0M423.0 482.4h0M426.5 477.2h0M418.8 482.3h0"/>
<path class="d5" d="M429.2 472.6h0M417.5 486.5h0M424.1 467.1h0M417.7 488.5h0M419.9 482.9h0M426.9 484.9h0"/>
<path class="d5" d="M427.3 473.5h0M426.9 469.9h0M428.8 472.7h0M426.7 479.1h0M422.7 474.0h0M421.5 473.0h0"/>
<path class="d5" d="M421.2 482.9h0M429.2 478.2h0M421.8 484.7h0M419.6 475.7h0M430.4 474.6h0M419.7 484.0h0"/>
<path class="d5" d="M428.2 476.2h0M427.1 477.0h0M423.4 482.9h0M419.6 487.7h0M429.2 476.3h0M421.3 482.0h0"/>
<path class="d5" d="M429.1 466.6h0M426.9 483.4h0M422.9 477.6h0M430.6 481.6h0M421.3 475.3h0M419.9 486.6h0"/>
<path class="d5" d="M421.5 483.5h0M426.5 480.0h0M422.3 475.2h0M430.1 466.7h0M428.1 480.4h0M424.2 483.2h0"/>
<path class="d5" d="M440.7 458.5h0M436.6 475.5h0M431.5 472.0h0M443.5 469.9h0M439.8 472.4h0M438.4 467.6h0"/>
<path class="d5" d="M442.7 477.7h0M440.7 465.5h0M440.0 469.4h0M443.1 468.2h0M431.0 470.9h0M439.6 471.2h0"/>
<path class="d5" d="M441.5 464.5h0M440.1 465.2h0M438.3 461.9h0M439.1 473.0h0M434.9 468.2h0M443.7 456.8h0"/>
<path class="d5" d="M437.5 476.9h0M440.6 455.9h0M441.4 467.3h0M443.9 469.5h0M437.3 475.0h0M434.4 472.5h0"/>
<path class="d5" d="M440.7 472.6h0M438.9 479.8h0M434.9 477.6h0M443.6 459.2h0M432.5 468.5h0M434.0 469.3h0"/>
<path class="d5" d="M435.7 462.7h0M432.2 463.4h0M442.4 470.6h0M439.5 481.3h0M432.2 460.5h0M438.5 463.0h0"/>
<path class="d5" d="M442.7 471.5h0M442.6 468.9h0M441.1 472.9h0M441.8 468.3h0M439.4 473.3h0M436.3 466.7h0"/>
<path class="d5" d="M433.6 468.3h0M442.0 453.3h0M433.0 468.4h0M438.3 462.7h0M436.6 470.9h0M441.4 464.8h0"/>
<path class="d5" d="M432.2 478.2h0M435.6 468.2h0M432.6 459.6h0M439.7 466.8h0M441.7 457.1h0M433.2 481.0h0"/>
<path class="d5" d="M440.1 468.4h0M430.8 469.0h0M434.1 472.0h0M443.8 465.3h0M438.6 461.1h0M441.1 454.8h0"/>
<path class="d5" d="M438.3 475.5h0M434.8 466.1h0M442.0 465.1h0M441.1 459.0h0M432.6 466.8h0M433.9 466.8h0"/>
<path class="d5" d="M439.3 470.3h0M442.3 475.9h0M431.9 481.2h0M430.8 477.3h0M444.0 461.1h0M436.0 464.3h0"/>
<path class="d5" d="M442.5 463.6h0M440.5 473.3h0M442.5 469.7h0M433.0 472.3h0M440.9 461.4h0M434.7 470.1h0"/>
<path class="d5" d="M437.9 467.6h0M439.3 463.5h0M437.6 467.9h0M436.4 477.3h0M434.8 477.8h0M431.6 464.2h0"/>
<path class="d5" d="M440.3 474.5h0M432.1 474.4h0M440.7 474.6h0M433.8 466.8h0M441.6 461.4h0M432.5 471.6h0"/>
<path class="d5" d="M442.2 483.4h0M439.4 469.6h0M443.7 470.5h0M443.4 460.8h0M441.9 468.3h0M439.3 458.9h0"/>
<path class="d5" d="M439.8 466.4h0M435.0 473.6h0M434.6 470.7h0M443.6 460.2h0M430.8 485.2h0M443.8 452.7h0"/>
<path class="d5" d="M438.5 472.2h0M443.5 471.7h0M441.8 468.0h0M433.3 480.8h0M437.0 466.5h0M434.1 476.1h0"/>
<path class="d5" d="M440.9 461.6h0M434.1 476.4h0M434.5 475.8h0M432.3 475.7h0M438.8 475.4h0M444.0 474.8h0"/>
<path class="d5" d="M441.0 459.8h0M437.6 466.4h0M439.5 472.4h0M439.1 469.1h0M437.5 468.6h0M442.4 470.8h0"/>
<path class="d5" d="M441.8 469.5h0M439.4 471.0h0M443.3 469.2h0M442.1 478.2h0M435.3 475.6h0M435.9 468.9h0"/>
<path class="d5" d="M443.9 473.2h0M436.0 471.0h0M443.8 459.1h0M443.4 463.9h0M441.0 467.1h0M439.3 473.0h0"/>
<path class="d5" d="M431.7 474.3h0M441.4 473.3h0M433.0 480.9h0M439.8 469.9h0M434.9 481.3h0M435.4 475.2h0"/>
<path class="d5" d="M430.9 473.8h0M441.9 467.6h0M435.0 466.0h0M437.6 467.4h0M436.3 481.6h0M443.7 457.2h0"/>
<path class="d5" d="M433.4 475.9h0M438.5 458.5h0M443.4 464.1h0M436.0 467.3h0M433.0 472.8h0M438.9 465.5h0"/>
<path class="d5" d="M432.0 471.0h0M431.0 467.8h0M437.4 465.0h0M437.3 462.4h0M436.1 459.9h0M432.2 473.9h0"/>
<path class="d5" d="M441.7 481.6h0M440.9 478.1h0M441.5 456.3h0M434.2 468.3h0M432.5 473.5h0M436.4 472.5h0"/>
<path class="d5" d="M431.7 467.6h0M441.3 463.5h0M442.3 475.7h0M434.6 475.3h0M437.1 462.7h0M442.5 468.2h0"/>
<path class="d5" d="M441.1 467.0h0M431.2 472.1h0M442.5 471.0h0M434.7 474.9h0M437.2 468.4h0M441.4 477.7h0"/>
<path class="d5" d="M434.2 463.0h0M439.8 471.1h0M441.2 478.7h0M436.6 471.0h0M443.1 461.9h0M438.3 467.7h0"/>
<path class="d5" d="M438.3 466.3h0M440.8 469.2h0M440.1 475.2h0M441.8 477.4h0M431.5 468.1h0M436.3 477.7h0"/>
<path class="d5" d="M431.5 472.2h0M438.5 461.8h0M440.2 464.0h0M443.1 462.9h0M431.6 479.6h0M432.0 467.5h0"/>
<path class="d5" d="M431.2 476.1h0M435.6 474.7h0M436.8 472.6h0M440.6 461.4h0M439.7 463.0h0M437.4 465.6h0"/>
<path class="d5" d="M433.6 478.1h0M438.3 470.7h0M442.0 462.5h0M432.4 474.4h0M441.1 456.9h0M438.5 463.0h0"/>
<path class="d5" d="M431.7 471.9h0M442.3 455.4h0M438.1 463.2h0M433.8 464.4h0M430.8 468.0h0M435.5 474.1h0"/>
<path class="d5" d="M447.9 467.0h0M456.9 446.8h0M451.1 451.6h0M447.9 459.5h0M454.0 464.2h0M445.8 462.9h0"/>
<path class="d5" d="M453.5 460.8h0M455.0 476.0h0M447.5 450.5h0M450.9 452.2h0M452.4 465.6h0M456.7 452.5h0"/>
<path class="d5" d="M453.9 456.9h0M445.7 474.7h0M448.2 458.5h0M445.2 459.9h0M445.4 463.3h0M448.1 457.1h0"/>
<path class="d5" d="M453.1 457.6h0M456.3 447.9h0M449.1 457.7h0M444.6 465.5h0M450.6 448.4h0M451.6 458.5h0"/>
<path class="d5" d="M454.1 453.5h0M444.3 464.2h0M445.7 461.9h0M450.6 448.0h0M456.5 468.0h0M447.3 465.6h0"/>
<path class="d5" d="M457.1 451.3h0M455.7 451.2h0M450.3 459.7h0M449.7 457.4h0M449.3 475.2h0M451.9 460.5h0"/>
<path class="d5" d="M453.7 451.8h0M446.7 459.2h0M452.1 446.2h0M450.6 463.2h0M445.0 464.9h0M449.9 465.9h0"/>
<path class="d5" d="M452.9 441.5h0M451.7 466.3h0M445.2 456.3h0M453.8 457.7h0M453.8 473.1h0M450.5 460.3h0"/>
<path class="d5" d="M455.0 446.8h0M451.3 454.9h0M452.5 450.3h0M449.6 450.7h0M450.2 452.1h0M450.2 464.7h0"/>
<path class="d5" d="M453.9 454.2h0M445.4 475.4h0M450.9 464.8h0M449.0 461.8h0M452.0 458.4h0M455.1 464.5h0"/>
<path class="d5" d="M450.8 462.0h0M447.3 454.0h0M445.2 463.1h0M447.6 471.7h0M453.5 460.0h0M457.0 444.5h0"/>
<path class="d5" d="M446.6 457.1h0M457.4 444.7h0M453.1 458.3h0M456.5 454.0h0M450.4 451.3h0M453.8 459.4h0"/>
<path class="d5" d="M450.6 467.6h0M456.1 448.1h0M450.1 457.0h0M455.5 456.9h0M446.5 458.8h0M445.3 456.8h0"/>
<path class="d5" d="M451.6 462.9h0M452.0 461.4h0M449.8 465.1h0M451.8 457.7h0M451.9 452.9h0M449.5 452.1h0"/>
<path class="d5" d="M455.0 448.5h0M450.7 461.3h0M452.3 459.5h0M448.2 464.7h0M448.7 455.1h0M450.4 457.3h0"/>
<path class="d5" d="M445.8 456.3h0M447.0 470.5h0M454.9 445.0h0M453.0 460.9h0M450.3 451.0h0M446.8 457.1h0"/>
<path class="d5" d="M446.6 460.9h0M453.4 461.2h0M447.6 456.7h0M448.7 451.7h0M446.6 470.2h0M447.4 468.2h0"/>
<path class="d5" d="M455.0 456.9h0M451.2 461.3h0M445.9 462.9h0M454.0 452.8h0M449.0 461.8h0M445.0 458.8h0"/>
<path class="d5" d="M454.0 458.1h0M456.5 445.1h0M445.9 460.6h0M454.8 465.2h0M447.5 452.1h0M446.9 461.8h0"/>
<path class="d5" d="M457.3 441.5h0M446.5 471.6h0M449.7 447.9h0M451.1 459.3h0M455.9 449.5h0M444.1 466.2h0"/>
<path class="d5" d="M445.9 470.9h0M446.5 455.9h0M450.2 452.3h0M449.8 461.2h0M451.6 457.1h0M453.0 456.4h0"/>
<path class="d5" d="M447.7 459.8h0M457.3 453.3h0M444.2 468.0h0M448.9 472.7h0M452.1 460.1h0M456.8 460.3h0"/>
<path class="d5" d="M455.9 442.2h0M444.7 452.1h0M444.9 463.2h0M453.5 462.0h0M454.8 455.4h0M454.8 458.7h0"/>
<path class="d5" d="M449.0 467.4h0M450.7 455.0h0M450.7 470.4h0M450.6 459.2h0M447.7 464.7h0M450.5 456.2h0"/>
<path class="d5" d="M446.1 461.2h0M446.2 452.1h0M446.6 464.3h0M455.6 453.4h0M453.7 455.3h0M452.5 465.7h0"/>
<path class="d5" d="M451.6 454.8h0M449.7 462.5h0M445.9 464.3h0M455.2 453.1h0M454.6 458.0h0M451.6 458.2h0"/>
<path class="d5" d="M448.2 458.6h0M448.4 462.2h0M449.3 455.5h0M456.1 449.3h0M452.2 454.2h0M456.9 454.0h0"/>
<path class="d5" d="M448.5 456.8h0M447.9 465.6h0M447.5 456.7h0M455.9 461.9h0M454.2 454.3h0M450.3 465.5h0"/>
<path class="d5" d="M447.1 461.8h0M446.6 460.7h0M448.1 465.3h0M455.1 452.6h0M455.4 464.5h0M456.2 458.2h0"/>
<path class="d5" d="M451.0 450.5h0M455.6 449.3h0M454.7 454.3h0M447.2 460.4h0M452.8 447.6h0M448.4 471.4h0"/>
<path class="d5" d="M453.5 470.8h0M448.9 459.4h0M452.2 452.7h0M455.6 464.6h0M449.3 455.7h0M445.2 465.1h0"/>
<path class="d5" d="M445.8 465.0h0M447.4 467.1h0M445.7 464.9h0M456.2 448.9h0M452.1 453.0h0M446.5 459.5h0"/>
<path class="d5" d="M449.8 456.6h0M447.6 457.0h0M447.9 455.9h0M455.9 463.0h0M449.7 465.2h0M444.9 463.8h0"/>
<path class="d5" d="M451.4 462.3h0M448.0 464.4h0M446.7 448.3h0M447.1 461.6h0M445.2 465.1h0M452.3 456.0h0"/>
<path class="d5" d="M447.8 455.2h0M448.8 463.1h0M450.9 463.7h0M445.7 459.8h0M445.1 452.8h0M453.8 466.6h0"/>
<path class="d5" d="M470.0 451.2h0M467.1 443.8h0M457.8 454.5h0M461.3 465.4h0M464.0 456.2h0M463.0 448.7h0"/>
<path class="d5" d="M467.8 433.6h0M466.3 456.6h0M464.0 444.4h0M463.1 455.0h0M467.6 452.6h0M458.3 452.5h0"/>
<path class="d5" d="M460.8 460.0h0M469.7 443.8h0M459.1 464.5h0M464.6 452.0h0M468.3 457.3h0M461.6 450.9h0"/>
<path class="d5" d="M466.8 451.9h0M457.8 445.5h0M462.6 463.6h0M469.8 430.6h0M465.8 448.4h0M458.6 451.5h0"/>
<path class="d5" d="M459.0 446.1h0M467.9 448.4h0M461.7 446.6h0M470.0 442.8h0M461.1 452.3h0M470.4 445.6h0"/>
<path class="d5" d="M464.8 439.7h0M463.7 455.2h0M464.3 450.7h0M459.1 451.8h0M465.2 453.5h0M465.6 446.9h0"/>
<path class="d5" d="M465.5 438.3h0M468.3 444.9h0M459.4 458.3h0M466.7 453.6h0M460.3 439.4h0M470.3 440.6h0"/>
<path class="d5" d="M460.3 445.5h0M466.6 457.5h0M464.3 442.3h0M469.1 445.4h0M469.3 442.9h0M461.8 446.3h0"/>
<path class="d5" d="M462.9 451.9h0M462.3 453.4h0M469.2 428.6h0M459.9 448.5h0M468.4 437.1h0M462.2 450.0h0"/>
<path class="d5" d="M465.9 438.9h0M462.5 450.7h0M457.9 455.6h0M469.1 445.1h0M461.8 443.7h0M461.1 455.3h0"/>
<path class="d5" d="M461.3 448.5h0M465.8 449.5h0M467.4 451.9h0M463.6 449.5h0M460.6 451.1h0M466.4 450.8h0"/>
<path class="d5" d="M462.4 452.8h0M462.6 458.5h0M460.0 451.1h0M468.5 459.7h0M458.5 454.9h0M461.3 462.4h0"/>
<path class="d5" d="M470.2 445.0h0M464.2 458.0h0M463.3 453.0h0M463.3 447.6h0M467.0 455.6h0M462.8 459.6h0"/>
<path class="d5" d="M465.7 438.9h0M459.1 452.0h0M462.6 452.1h0M464.3 444.8h0M467.3 451.9h0M464.0 446.5h0"/>
<path class="d5" d="M458.2 456.2h0M469.0 442.5h0M459.6 459.8h0M469.9 461.4h0M465.4 449.2h0M457.6 449.4h0"/>
<path class="d5" d="M461.3 458.0h0M461.5 461.0h0M467.2 444.0h0M466.5 437.3h0M460.5 458.7h0M458.4 460.2h0"/>
<path class="d5" d="M464.1 460.6h0M462.3 440.5h0M463.9 445.2h0M464.9 458.5h0M466.0 450.4h0M470.0 451.9h0"/>
<path class="d5" d="M464.3 457.1h0M468.4 447.9h0M458.1 463.8h0M469.9 451.1h0M467.8 444.9h0M468.7 448.9h0"/>
<path class="d5" d="M459.2 455.1h0M463.0 459.0h0M470.7 456.8h0M460.4 443.2h0M464.7 459.3h0M459.2 455.5h0"/>
<path class="d5" d="M461.8 449.3h0M468.5 449.7h0M461.2 447.9h0M461.7 460.5h0M470.5 439.6h0M461.6 454.6h0"/>
<path class="d5" d="M464.6 462.0h0M467.2 443.3h0M467.8 448.1h0M461.7 455.8h0M470.7 446.2h0M463.8 442.3h0"/>
<path class="d5" d="M463.4 452.0h0M470.1 441.4h0M468.3 447.3h0M469.6 442.3h0M460.8 447.7h0M460.0 458.7h0"/>
<path class="d5" d="M462.7 440.3h0M467.6 456.2h0M464.4 443.2h0M457.8 449.8h0M464.4 455.8h0M467.7 447.1h0"/>
<path class="d5" d="M463.2 447.0h0M463.4 452.0h0M463.0 437.2h0M466.0 458.4h0M465.1 464.6h0M461.6 437.3h0"/>
<path class="d5" d="M463.0 456.6h0M466.9 454.3h0M462.1 443.7h0M463.1 458.5h0M470.3 461.5h0M468.7 451.4h0"/>
<path class="d5" d="M463.6 447.9h0M470.5 437.8h0M460.4 455.2h0M461.3 451.3h0M468.9 450.8h0M466.1 446.1h0"/>
<path class="d5" d="M464.5 449.8h0M459.3 458.2h0M463.5 455.8h0M465.3 440.7h0M462.6 452.8h0M464.4 448.5h0"/>
<path class="d5" d="M465.5 454.6h0M458.3 461.1h0M460.9 452.7h0M464.7 446.2h0M458.0 454.4h0M459.7 447.1h0"/>
<path class="d5" d="M467.5 453.7h0M457.6 449.8h0M466.6 446.4h0M469.9 457.1h0M458.8 461.3h0M466.4 444.0h0"/>
<path class="d5" d="M467.2 439.7h0M463.1 444.7h0M465.3 431.4h0M468.6 450.0h0M464.4 454.5h0M460.5 446.9h0"/>
<path class="d5" d="M463.0 449.4h0M460.9 454.6h0M465.8 455.2h0M458.3 466.4h0M458.3 443.6h0M469.4 442.0h0"/>
<path class="d5" d="M458.2 453.5h0M461.2 439.6h0M459.6 456.0h0M465.8 447.3h0M457.9 457.1h0M467.6 454.6h0"/>
<path class="d5" d="M462.0 456.9h0M470.7 434.1h0M466.8 462.0h0M459.1 445.7h0M469.3 447.1h0M466.1 438.1h0"/>
<path class="d5" d="M459.2 448.4h0M464.5 452.8h0M459.9 452.4h0M461.8 442.3h0M464.8 445.7h0M466.9 446.3h0"/>
<path class="d5" d="M461.8 456.6h0M458.3 455.9h0M462.9 450.6h0M460.2 453.5h0M469.3 456.6h0M464.1 452.2h0"/>
<path class="d5" d="M472.0 439.3h0M480.7 443.1h0M472.7 444.4h0M481.6 448.0h0M473.9 439.0h0M475.4 447.3h0"/>
<path class="d5" d="M481.7 439.2h0M478.1 429.9h0M481.9 440.4h0M482.3 441.6h0M476.4 431.1h0M478.1 456.3h0"/>
<path class="d5" d="M483.0 436.5h0M478.0 438.1h0M476.9 440.0h0M480.3 451.1h0M479.6 444.9h0M475.5 444.9h0"/>
<path class="d5" d="M482.3 434.4h0M479.6 434.8h0M480.6 440.2h0M471.8 437.6h0M483.5 437.1h0M482.4 441.9h0"/>
<path class="d5" d="M471.6 446.4h0M478.3 434.3h0M481.1 436.5h0M478.4 440.0h0M478.1 440.4h0M480.7 437.0h0"/>
<path class="d5" d="M480.7 448.2h0M480.6 437.0h0M475.8 438.8h0M472.0 444.5h0M472.0 430.6h0M477.8 454.6h0"/>
<path class="d5" d="M481.6 436.2h0M479.3 448.7h0M476.8 452.1h0M481.1 430.5h0M479.5 432.7h0M482.2 435.4h0"/>
<path class="d5" d="M473.9 435.5h0M470.9 440.7h0M474.9 446.6h0M482.7 434.3h0M472.1 431.7h0M477.7 449.4h0"/>
<path class="d5" d="M475.7 442.6h0M480.9 427.1h0M479.4 435.6h0M476.3 437.7h0M476.3 425.3h0M470.8 443.6h0"/>
<path class="d5" d="M483.4 435.6h0M471.9 450.5h0M482.2 444.2h0M472.5 442.5h0M477.3 441.5h0M481.3 432.7h0"/>
<path class="d5" d="M478.9 450.6h0M471.6 454.2h0M474.6 444.1h0M475.2 435.6h0M470.8 445.8h0M472.4 445.4h0"/>
<path class="d5" d="M481.4 435.4h0M479.4 436.6h0M477.6 449.7h0M474.6 433.5h0M476.8 432.8h0M473.7 437.1h0"/>
<path class="d5" d="M474.1 436.7h0M480.6 435.8h0M471.1 442.4h0M473.3 440.8h0M482.1 432.7h0M471.5 444.0h0"/>
<path class="d5" d="M472.7 445.9h0M475.2 455.4h0M471.6 452.1h0M479.6 429.1h0M474.2 445.3h0M482.7 433.5h0"/>
<path class="d5" d="M476.5 423.3h0M476.6 439.1h0M478.2 443.9h0M477.6 455.1h0M478.0 458.5h0M473.0 453.1h0"/>
<path class="d5" d="M472.5 441.9h0M477.6 449.7h0M474.7 452.6h0M472.5 457.1h0M473.8 439.2h0M476.5 447.2h0"/>
<path class="d5" d="M474.5 434.4h0M477.7 446.3h0M481.3 433.5h0M470.9 437.8h0M480.6 444.4h0M476.2 428.6h0"/>
<path class="d5" d="M480.9 439.5h0M477.6 437.5h0M471.5 443.8h0M474.7 457.1h0M474.5 441.6h0M474.3 449.4h0"/>
<path class="d5" d="M482.1 438.8h0M471.2 457.9h0M474.0 433.0h0M474.8 441.6h0M476.4 448.2h0M482.4 439.2h0"/>
<path class="d5" d="M470.9 439.1h0M478.2 439.3h0M475.6 434.2h0M471.4 436.0h0M475.9 449.9h0M480.3 430.6h0"/>
<path class="d5" d="M473.3 439.6h0M477.6 445.2h0M475.2 450.9h0M482.0 439.5h0M477.9 441.1h0M477.9 446.2h0"/>
<path class="d5" d="M475.7 440.7h0M478.2 434.6h0M482.6 427.1h0M476.8 434.6h0M482.5 434.7h0M476.1 435.8h0"/>
<path class="d5" d="M475.8 431.6h0M483.4 426.5h0M480.5 441.6h0M478.1 428.0h0M478.9 435.1h0M475.4 446.5h0"/>
<path class="d5" d="M474.2 435.9h0M480.2 433.5h0M474.6 440.5h0M473.8 451.2h0M483.8 449.7h0M477.2 438.7h0"/>
<path class="d5" d="M479.5 454.2h0M474.3 441.7h0M480.8 437.8h0M477.8 437.4h0M476.8 455.0h0M476.9 444.4h0"/>
<path class="d5" d="M471.2 439.2h0M475.4 427.2h0M477.8 426.9h0M481.4 438.3h0M483.4 429.1h0M477.7 453.5h0"/>
<path class="d5" d="M478.0 452.0h0M473.7 446.8h0M481.3 432.3h0M478.8 428.6h0M482.2 435.4h0M482.8 450.6h0"/>
<path class="d5" d="M475.0 440.0h0M482.6 434.9h0M481.7 434.7h0M477.7 448.2h0M477.1 436.7h0M484.0 432.3h0"/>
<path class="d5" d="M476.3 442.3h0M482.3 438.9h0M482.1 434.5h0M482.6 442.4h0M476.4 444.9h0M480.2 433.4h0"/>
<path class="d5" d="M483.8 420.4h0M478.5 430.8h0M479.4 443.2h0M476.8 440.9h0M472.7 431.4h0M481.6 444.2h0"/>
<path class="d5" d="M470.9 438.8h0M473.9 439.0h0M476.0 444.9h0M477.7 445.1h0M483.7 429.1h0M480.3 450.2h0"/>
<path class="d5" d="M483.0 428.0h0M477.5 444.3h0M479.6 446.7h0M477.8 449.5h0M470.8 442.3h0M481.8 437.7h0"/>
<path class="d5" d="M474.9 433.6h0M479.0 446.1h0M478.2 436.8h0M471.9 435.7h0M477.3 443.9h0M479.7 433.2h0"/>
<path class="d5" d="M475.7 447.9h0M483.2 443.3h0M481.9 440.4h0M477.1 448.6h0M483.6 427.1h0M472.1 442.1h0"/>
<path class="d5" d="M481.3 432.8h0M475.8 442.7h0M474.4 447.7h0M480.4 436.0h0M476.7 440.9h0M471.3 449.7h0"/>
<path class="d5" d="M490.3 445.9h0M490.9 425.2h0M491.0 440.2h0M487.7 444.9h0M484.2 446.5h0M493.8 429.3h0"/>
<path class="d5" d="M492.8 426.2h0M493.4 412.1h0M489.4 431.3h0M485.3 445.0h0M493.8 431.1h0M491.7 426.0h0"/>
<path class="d5" d="M487.5 438.2h0M484.2 424.6h0M487.4 444.0h0M494.6 430.2h0M493.9 433.4h0M493.7 433.2h0"/>
<path class="d5" d="M486.9 420.1h0M492.5 420.3h0M492.1 429.7h0M492.1 442.8h0M489.3 422.9h0M490.8 437.9h0"/>
<path class="d5" d="M485.9 434.6h0M484.2 430.1h0M494.7 419.9h0M488.9 436.7h0M487.9 433.6h0M496.4 413.3h0"/>
<path class="d5" d="M486.0 437.0h0M487.5 435.8h0M494.3 407.6h0M494.6 435.0h0M492.0 417.1h0M493.7 422.3h0"/>
<path class="d5" d="M496.4 407.2h0M490.0 438.6h0M495.0 432.9h0M484.7 444.5h0M488.9 421.7h0M484.4 440.2h0"/>
<path class="d5" d="M496.0 432.0h0M491.9 423.8h0M489.8 436.4h0M497.3 425.8h0M497.2 424.5h0M487.5 430.7h0"/>
<path class="d5" d="M487.0 425.1h0M484.7 426.8h0M492.6 427.3h0M485.9 441.8h0M490.3 441.9h0M489.1 428.9h0"/>
<path class="d5" d="M490.2 436.0h0M494.0 431.1h0M494.3 418.7h0M486.2 436.2h0M488.8 441.3h0M492.3 428.8h0"/>
<path class="d5" d="M489.5 423.8h0M484.5 434.7h0M486.5 437.8h0M487.6 445.4h0M489.0 426.6h0M496.5 430.1h0"/>
<path class="d5" d="M492.9 409.4h0M494.8 427.8h0M488.2 423.2h0M491.5 433.1h0M492.9 433.3h0M491.8 414.6h0"/>
<path class="d5" d="M496.8 427.4h0M486.4 437.1h0M488.8 430.3h0M487.6 436.6h0M484.4 441.0h0M497.1 413.9h0"/>
<path class="d5" d="M492.9 426.6h0M495.8 428.5h0M492.8 424.9h0M496.2 428.9h0M484.4 432.8h0M489.5 425.9h0"/>
<path class="d5" d="M486.7 428.7h0M484.3 441.5h0M486.8 435.5h0M484.6 419.9h0M485.0 423.8h0M490.8 429.0h0"/>
<path class="d5" d="M497.2 435.0h0M494.8 436.4h0M491.1 435.7h0M495.9 433.4h0M495.6 436.1h0M493.6 419.4h0"/>
<path class="d5" d="M491.9 430.9h0M495.6 429.5h0M496.7 431.2h0M486.1 451.0h0M493.5 423.0h0M489.6 444.3h0"/>
<path class="d5" d="M492.4 447.0h0M488.2 443.1h0M496.5 421.0h0M485.4 425.4h0M494.3 439.5h0M494.9 425.5h0"/>
<path class="d5" d="M488.8 427.8h0M487.9 426.8h0M495.9 426.2h0M486.4 439.0h0M494.7 425.1h0M489.5 436.2h0"/>
<path class="d5" d="M496.8 424.3h0M488.7 422.8h0M484.8 436.5h0M492.0 416.0h0M497.1 423.2h0M496.1 426.7h0"/>
<path class="d5" d="M490.3 429.4h0M493.4 422.7h0M495.1 416.9h0M493.5 441.2h0M491.0 440.5h0M488.1 448.7h0"/>
<path class="d5" d="M496.8 429.4h0M485.8 441.4h0M485.3 441.9h0M489.0 428.2h0M493.9 419.5h0M484.7 414.1h0"/>
<path class="d5" d="M486.9 420.3h0M494.3 431.1h0M487.6 426.5h0M496.3 427.7h0M492.0 427.3h0M496.0 423.9h0"/>
<path class="d5" d="M491.1 443.8h0M496.8 433.5h0M491.8 436.1h0M487.5 434.4h0M496.5 424.4h0M487.9 436.4h0"/>
<path class="d5" d="M489.8 430.7h0M488.4 435.8h0M485.6 430.2h0M494.8 427.5h0M484.5 445.3h0M491.1 415.6h0"/>
<path class="d5" d="M485.5 430.9h0M490.3 429.6h0M487.5 435.4h0M492.0 433.2h0M492.3 432.2h0M485.2 443.4h0"/>
<path class="d5" d="M489.5 421.6h0M495.7 437.1h0M494.8 407.3h0M491.9 426.0h0M485.0 439.9h0M493.1 434.9h0"/>
<path class="d5" d="M495.4 434.2h0M484.5 434.0h0M488.5 422.8h0M495.6 427.4h0M494.5 411.2h0M488.5 441.4h0"/>
<path class="d5" d="M494.4 423.9h0M485.7 425.8h0M492.2 424.9h0M492.0 426.6h0M487.3 416.2h0M486.5 445.3h0"/>
<path class="d5" d="M491.0 423.0h0M489.1 428.5h0M494.5 422.2h0M493.8 431.2h0M496.7 442.1h0M494.9 425.1h0"/>
<path class="d5" d="M492.8 418.7h0M493.2 436.9h0M495.6 432.2h0M490.3 440.6h0M489.2 407.4h0M494.7 437.8h0"/>
<path class="d5" d="M487.0 438.6h0M494.5 429.9h0M484.7 427.4h0M491.4 432.7h0M496.7 428.0h0M492.1 426.3h0"/>
<path class="d5" d="M488.8 423.8h0M495.6 418.0h0M497.3 425.0h0M495.1 420.0h0M493.8 435.0h0M493.8 412.2h0"/>
<path class="d5" d="M496.0 427.4h0M488.9 449.2h0M496.6 418.2h0M493.5 433.3h0M495.8 439.8h0M492.5 434.3h0"/>
<path class="d5" d="M495.8 422.1h0M489.8 425.3h0M496.8 425.8h0M486.7 433.9h0M491.4 432.6h0M484.4 451.4h0"/>
<path class="d5" d="M502.5 413.2h0M501.0 427.4h0M504.6 417.8h0M499.9 419.6h0M500.8 410.4h0M506.3 425.0h0"/>
<path class="d5" d="M507.5 410.8h0M504.0 430.5h0M505.4 424.1h0M501.2 414.3h0M498.9 435.8h0M501.3 403.8h0"/>
<path class="d5" d="M508.4 422.1h0M499.9 422.9h0M507.5 432.1h0M497.7 420.8h0M501.0 433.9h0M506.0 428.1h0"/>
<path class="d5" d="M503.2 408.7h0M500.9 414.9h0M508.6 430.4h0M510.5 420.5h0M505.2 411.0h0M499.2 429.6h0"/>
<path class="d5" d="M501.4 439.2h0M498.2 426.4h0M503.9 426.0h0M502.1 431.4h0M497.5 420.1h0M500.6 427.9h0"/>
<path class="d5" d="M501.9 431.0h0M502.9 416.1h0M507.2 411.7h0M504.0 406.5h0M499.6 436.1h0M505.2 431.3h0"/>
<path class="d5" d="M500.9 423.9h0M508.4 432.6h0M506.1 422.9h0M509.0 407.7h0M504.8 413.2h0M501.3 418.3h0"/>
<path class="d5" d="M504.8 422.5h0M503.0 408.2h0M504.7 413.5h0M498.7 423.5h0M510.1 422.9h0M503.0 426.6h0"/>
<path class="d5" d="M500.0 430.7h0M503.7 413.9h0M506.9 398.1h0M501.9 427.3h0M498.6 423.1h0M508.1 422.8h0"/>
<path class="d5" d="M502.4 411.2h0M499.9 415.7h0M506.1 415.7h0M499.6 416.1h0M500.9 413.5h0M497.9 408.6h0"/>
<path class="d5" d="M507.8 410.6h0M499.9 424.1h0M504.3 435.8h0M505.1 425.6h0M498.3 419.4h0M508.8 417.0h0"/>
<path class="d5" d="M499.1 436.8h0M502.2 407.7h0M500.1 421.2h0M498.0 443.1h0M498.8 414.7h0M503.8 427.9h0"/>
<path class="d5" d="M505.4 427.4h0M498.6 425.0h0M499.6 421.6h0M506.5 437.2h0M504.2 418.0h0M506.3 410.1h0"/>
<path class="d5" d="M500.0 421.7h0M500.6 423.7h0M504.1 434.9h0M505.0 414.6h0M503.0 419.4h0M497.6 421.2h0"/>
<path class="d5" d="M508.0 413.3h0M505.8 421.5h0M500.9 425.4h0M508.5 425.1h0M506.1 424.1h0M509.1 419.9h0"/>
<path class="d5" d="M500.3 406.8h0M508.6 417.1h0M506.9 421.8h0M499.4 416.5h0M510.4 418.3h0M500.2 416.6h0"/>
<path class="d5" d="M502.4 409.5h0M508.2 410.3h0M507.1 422.5h0M500.6 424.0h0M501.9 425.8h0M498.8 432.5h0"/>
<path class="d5" d="M507.9 417.0h0M509.4 430.2h0M507.6 406.9h0M507.0 407.5h0M505.4 417.3h0M499.3 408.9h0"/>
<path class="d5" d="M508.3 431.5h0M501.7 421.8h0M508.9 416.8h0M508.2 434.4h0M507.3 402.2h0M506.5 415.9h0"/>
<path class="d5" d="M499.7 412.3h0M497.8 425.7h0M509.1 426.2h0M505.4 406.2h0M499.8 419.6h0M502.8 411.6h0"/>
<path class="d5" d="M498.0 435.5h0M499.9 430.4h0M502.9 416.0h0M497.7 437.5h0M504.6 429.0h0M507.3 422.6h0"/>
<path class="d5" d="M506.1 420.5h0M505.5 424.9h0M510.1 423.7h0M507.4 428.6h0M508.2 418.3h0M500.6 417.1h0"/>
<path class="d5" d="M497.4 424.5h0M504.9 419.2h0M509.1 419.9h0M508.2 419.1h0M507.1 410.6h0M505.8 411.3h0"/>
<path class="d5" d="M505.4 424.6h0M510.0 413.0h0M507.3 430.2h0M502.3 417.5h0M501.0 432.8h0M506.1 431.8h0"/>
<path class="d5" d="M506.4 435.2h0M503.9 421.0h0M502.8 418.0h0M501.2 417.8h0M505.2 412.5h0M509.0 406.6h0"/>
<path class="d5" d="M507.4 416.3h0M501.9 416.1h0M499.2 439.2h0M500.6 420.9h0M504.2 416.1h0M508.1 435.2h0"/>
<path class="d5" d="M497.4 431.1h0M509.0 439.7h0M498.1 433.2h0M509.0 423.1h0M503.0 400.1h0M498.4 425.4h0"/>
<path class="d5" d="M498.3 432.9h0M502.3 430.7h0M508.4 420.5h0M507.4 425.0h0M508.2 418.9h0M499.3 431.0h0"/>
<path class="d5" d="M506.2 418.7h0M505.9 428.1h0M507.3 408.9h0M499.8 431.6h0M507.5 416.7h0M499.4 419.4h0"/>
<path class="d5" d="M499.5 434.4h0M503.4 424.5h0M500.8 423.1h0M498.2 421.5h0M499.8 424.6h0M499.9 417.3h0"/>
<path class="d5" d="M508.1 402.0h0M503.5 424.3h0M506.9 427.3h0M503.0 430.0h0M505.2 418.2h0M506.7 406.5h0"/>
<path class="d5" d="M502.9 405.2h0M507.7 411.4h0M503.7 399.2h0M508.0 421.4h0M499.6 420.6h0M508.1 425.0h0"/>
<path class="d5" d="M507.9 409.1h0M507.4 417.5h0M508.2 423.2h0M502.6 440.7h0M503.4 423.9h0M508.5 415.1h0"/>
<path class="d5" d="M509.1 402.7h0M500.7 424.9h0M510.0 424.1h0M497.5 426.9h0M506.3 420.8h0M507.6 428.9h0"/>
<path class="d5" d="M503.1 437.7h0M504.7 434.7h0M506.2 410.6h0M501.3 420.8h0M508.1 425.6h0M501.2 428.4h0"/>
<path class="d5" d="M517.7 408.1h0M520.4 408.2h0M512.1 416.5h0M516.5 394.9h0M514.2 404.6h0M512.7 420.2h0"/>
<path class="d5" d="M512.9 412.8h0M515.1 410.0h0M514.7 412.9h0M514.9 403.7h0M511.6 423.9h0M521.4 399.6h0"/>
<path class="d5" d="M520.1 407.1h0M519.5 419.2h0M517.3 409.1h0M518.8 402.6h0M511.4 425.7h0M514.4 402.3h0"/>
<path class="d5" d="M522.1 413.9h0M514.6 418.3h0M522.2 410.6h0M512.9 431.6h0M512.7 418.2h0M514.5 416.2h0"/>
<path class="d5" d="M518.4 398.5h0M519.2 405.7h0M518.9 425.2h0M518.6 416.5h0M517.9 399.4h0M523.2 394.8h0"/>
<path class="d5" d="M522.1 405.2h0M516.4 407.2h0M513.3 425.5h0M513.3 416.5h0M515.5 422.0h0M511.6 398.9h0"/>
<path class="d5" d="M512.4 415.4h0M515.9 412.8h0M521.5 406.2h0M511.0 408.5h0M510.7 431.1h0M519.6 416.2h0"/>
<path class="d5" d="M518.1 399.4h0M511.5 422.3h0M519.6 422.6h0M520.3 410.5h0M514.1 406.4h0M519.1 413.7h0"/>
<path class="d5" d="M517.5 411.0h0M512.0 424.2h0M512.4 421.7h0M517.3 395.5h0M515.3 408.7h0M511.3 417.2h0"/>
<path class="d5" d="M511.7 420.9h0M511.5 411.9h0M523.2 411.4h0M515.8 389.4h0M514.7 413.5h0M516.1 419.9h0"/>
<path class="d5" d="M516.8 416.6h0M510.8 425.5h0M522.9 399.7h0M518.6 401.5h0M514.6 414.7h0M517.0 404.5h0"/>
<path class="d5" d="M518.3 416.4h0M523.4 395.9h0M521.8 391.0h0M515.3 400.4h0M511.6 407.5h0M515.9 417.8h0"/>
<path class="d5" d="M511.9 393.0h0M515.2 417.2h0M519.5 411.4h0M512.5 412.5h0M523.0 413.5h0M511.6 420.6h0"/>
<path class="d5" d="M522.8 418.1h0M522.8 397.8h0M513.4 422.2h0M511.5 404.4h0M513.8 420.8h0M511.0 419.8h0"/>
<path class="d5" d="M517.9 404.3h0M518.7 413.5h0M523.2 403.9h0M522.6 393.6h0M520.9 405.2h0M515.7 418.7h0"/>
<path class="d5" d="M522.5 413.6h0M515.9 414.5h0M520.2 401.8h0M510.8 418.5h0M520.7 417.6h0M518.2 393.1h0"/>
<path class="d5" d="M511.0 435.8h0M512.0 420.5h0M511.4 420.4h0M523.0 406.7h0M517.9 418.4h0M515.3 415.7h0"/>
<path class="d5" d="M514.0 413.4h0M518.3 445.1h0M515.7 420.8h0M518.0 411.9h0M520.0 404.2h0M523.3 412.3h0"/>
<path class="d5" d="M514.9 422.3h0M516.3 417.0h0M515.2 414.9h0M520.2 410.1h0M512.5 405.8h0M513.9 410.1h0"/>
<path class="d5" d="M516.2 417.4h0M521.8 400.9h0M520.7 390.4h0M520.9 411.6h0M521.4 393.2h0M514.7 426.3h0"/>
<path class="d5" d="M521.0 397.8h0M511.1 410.8h0M519.9 417.9h0M518.8 413.1h0M513.3 405.6h0M521.1 416.5h0"/>
<path class="d5" d="M514.2 407.2h0M515.1 410.0h0M513.2 426.4h0M515.1 414.5h0M512.5 405.7h0M516.0 412.7h0"/>
<path class="d5" d="M513.0 424.8h0M514.8 419.4h0M522.5 393.2h0M520.3 393.1h0M512.7 411.5h0M512.1 414.3h0"/>
<path class="d5" d="M523.2 404.8h0M520.2 435.2h0M516.7 405.4h0M518.1 412.7h0M511.8 415.4h0M519.6 407.3h0"/>
<path class="d5" d="M513.7 428.3h0M516.8 422.9h0M512.8 423.6h0M515.2 390.3h0M512.0 410.5h0M520.9 400.8h0"/>
<path class="d5" d="M519.0 425.5h0M515.8 411.1h0M515.2 415.9h0M522.1 411.1h0M510.8 424.9h0M518.7 411.4h0"/>
<path class="d5" d="M523.2 395.6h0M512.2 401.6h0M519.0 410.9h0M523.4 409.9h0M523.2 398.3h0M519.9 425.6h0"/>
<path class="d5" d="M522.5 411.7h0M519.1 394.8h0M523.1 404.5h0M511.2 410.3h0M518.9 411.1h0M517.1 405.0h0"/>
<path class="d5" d="M510.9 421.0h0M514.0 399.5h0M511.9 419.7h0M520.5 410.3h0M515.8 414.8h0M514.9 401.9h0"/>
<path class="d5" d="M515.1 424.6h0M511.0 408.2h0M518.9 411.4h0M515.7 389.7h0M516.8 410.4h0M517.9 424.9h0"/>
<path class="d5" d="M515.3 410.2h0M511.5 419.1h0M515.3 403.4h0M521.1 403.9h0M515.4 409.2h0M518.8 413.5h0"/>
<path class="d5" d="M517.9 410.5h0M520.9 418.3h0M518.0 399.5h0M521.8 388.6h0M515.1 413.5h0M518.8 401.2h0"/>
<path class="d5" d="M521.1 410.3h0M512.7 407.9h0M521.1 405.8h0M514.9 407.7h0M520.2 394.7h0M511.1 421.8h0"/>
<path class="d5" d="M521.9 418.5h0M522.3 398.4h0M516.7 413.4h0M521.2 390.9h0M519.3 411.9h0M519.1 415.5h0"/>
<path class="d5" d="M521.7 410.9h0M514.4 408.9h0M513.4 414.9h0"/>
<path class="d6" d="M432.4 458.1h0M452.0 436.0h0M440.8 445.7h0M427.3 461.5h0M450.1 449.3h0M414.2 463.7h0"/>
<path class="d6" d="M411.7 463.6h0M445.3 438.4h0M417.1 455.9h0M460.4 428.7h0M418.9 467.5h0M430.2 449.5h0"/>
<path class="d6" d="M453.5 433.2h0M409.9 466.0h0M415.7 461.4h0M451.3 444.2h0M459.6 431.9h0M459.8 424.3h0"/>
<path class="d6" d="M453.3 446.6h0M446.8 434.1h0M459.0 433.5h0M446.6 437.3h0M427.0 462.7h0M396.7 472.1h0"/>
<path class="d6" d="M403.3 483.8h0M428.2 458.7h0M478.7 464.6h0M448.1 481.6h0M500.9 450.9h0M503.9 444.5h0"/>
<path class="d6" d="M494.0 462.3h0M458.1 473.1h0M448.2 484.7h0M491.4 462.3h0M482.8 462.6h0M476.3 467.8h0"/>
<path class="d6" d="M448.7 497.5h0M476.0 459.6h0M444.4 497.3h0M491.1 454.7h0M485.7 452.2h0M481.6 472.7h0"/>
<path class="d6" d="M515.6 450.9h0M476.9 464.5h0M467.7 476.0h0M453.6 498.7h0M454.7 486.0h0M517.8 427.8h0"/>
<path class="d6" d="M522.0 434.5h0M472.3 461.3h0M456.5 480.7h0M520.4 441.6h0M501.4 457.8h0M522.4 443.3h0"/>
<path class="d6" d="M445.7 498.4h0M499.8 452.1h0M488.0 454.8h0M469.8 481.9h0M499.5 466.3h0M501.2 454.7h0"/>
<path class="d6" d="M477.9 477.6h0M466.1 478.4h0M478.9 469.2h0M453.7 488.5h0M473.7 468.2h0M493.4 453.4h0"/>
<path class="d6" d="M451.6 483.7h0M481.4 390.6h0M497.9 403.9h0M488.8 399.5h0M436.1 371.9h0M456.7 383.5h0"/>
<path class="d6" d="M450.4 370.0h0M448.2 382.1h0M457.6 371.0h0M516.6 401.2h0M504.9 404.6h0M498.4 406.0h0"/>
<path class="d6" d="M489.1 395.9h0M453.2 393.9h0M454.5 502.3h0M442.0 502.6h0M514.3 501.9h0M488.2 502.3h0"/>
<path class="d6" d="M496.2 502.9h0M476.5 503.3h0M512.8 503.0h0M501.9 502.9h0M424.6 495.4h0M427.7 489.7h0"/>
<path class="d6" d="M445.0 475.3h0M435.5 489.2h0M421.0 491.3h0M430.7 492.1h0M430.1 492.3h0M412.8 502.7h0"/>
<path class="d6" d="M442.9 478.4h0"/>
<line x1="390.80" y1="503.40" x2="524.00" y2="406.40" stroke="#444" stroke-width="0.5"/>
<line x1="397.46" y1="486.35" x2="397.46" y2="495.00" stroke="#333" stroke-width="0.55"/>
<line x1="397.46" y1="502.10" x2="397.46" y2="503.40" stroke="#333" stroke-width="0.55"/>
<rect x="391.66" y="495.00" width="11.60" height="7.11" fill="#e9b22e" stroke="#333" stroke-width="0.6" fill-opacity="0.15"/>
<line x1="391.66" y1="498.55" x2="403.26" y2="498.55" stroke="#111" stroke-width="1.0"/>
<line x1="410.78" y1="475.69" x2="410.78" y2="485.02" stroke="#333" stroke-width="0.55"/>
<line x1="410.78" y1="492.68" x2="410.78" y2="502.01" stroke="#333" stroke-width="0.55"/>
<rect x="404.98" y="485.02" width="11.60" height="7.67" fill="#e9b22e" stroke="#333" stroke-width="0.6" fill-opacity="0.15"/>
<line x1="404.98" y1="488.85" x2="416.58" y2="488.85" stroke="#111" stroke-width="1.0"/>
<line x1="424.10" y1="465.00" x2="424.10" y2="475.03" stroke="#333" stroke-width="0.55"/>
<line x1="424.10" y1="483.27" x2="424.10" y2="493.30" stroke="#333" stroke-width="0.55"/>
<rect x="418.30" y="475.03" width="11.60" height="8.24" fill="#e9b22e" stroke="#333" stroke-width="0.6" fill-opacity="0.15"/>
<line x1="418.30" y1="479.15" x2="429.90" y2="479.15" stroke="#111" stroke-width="1.0"/>
<line x1="437.42" y1="454.30" x2="437.42" y2="465.04" stroke="#333" stroke-width="0.55"/>
<line x1="437.42" y1="473.86" x2="437.42" y2="484.60" stroke="#333" stroke-width="0.55"/>
<rect x="431.62" y="465.04" width="11.60" height="8.83" fill="#e9b22e" stroke="#333" stroke-width="0.6" fill-opacity="0.15"/>
<line x1="431.62" y1="469.45" x2="443.22" y2="469.45" stroke="#111" stroke-width="1.0"/>
<line x1="450.74" y1="443.58" x2="450.74" y2="455.04" stroke="#333" stroke-width="0.55"/>
<line x1="450.74" y1="464.46" x2="450.74" y2="475.92" stroke="#333" stroke-width="0.55"/>
<rect x="444.94" y="455.04" width="11.60" height="9.42" fill="#e9b22e" stroke="#333" stroke-width="0.6" fill-opacity="0.15"/>
<line x1="444.94" y1="459.75" x2="456.54" y2="459.75" stroke="#111" stroke-width="1.0"/>
<line x1="464.06" y1="432.85" x2="464.06" y2="445.04" stroke="#333" stroke-width="0.55"/>
<line x1="464.06" y1="455.06" x2="464.06" y2="467.25" stroke="#333" stroke-width="0.55"/>
<rect x="458.26" y="445.04" width="11.60" height="10.02" fill="#e9b22e" stroke="#333" stroke-width="0.6" fill-opacity="0.15"/>
<line x1="458.26" y1="450.05" x2="469.86" y2="450.05" stroke="#111" stroke-width="1.0"/>
<line x1="477.38" y1="422.11" x2="477.38" y2="435.04" stroke="#333" stroke-width="0.55"/>
<line x1="477.38" y1="445.66" x2="477.38" y2="458.59" stroke="#333" stroke-width="0.55"/>
<rect x="471.58" y="435.04" width="11.60" height="10.62" fill="#e9b22e" stroke="#333" stroke-width="0.6" fill-opacity="0.15"/>
<line x1="471.58" y1="440.35" x2="483.18" y2="440.35" stroke="#111" stroke-width="1.0"/>
<line x1="490.70" y1="411.37" x2="490.70" y2="425.03" stroke="#333" stroke-width="0.55"/>
<line x1="490.70" y1="436.27" x2="490.70" y2="449.93" stroke="#333" stroke-width="0.55"/>
<rect x="484.90" y="425.03" width="11.60" height="11.24" fill="#e9b22e" stroke="#333" stroke-width="0.6" fill-opacity="0.15"/>
<line x1="484.90" y1="430.65" x2="496.50" y2="430.65" stroke="#111" stroke-width="1.0"/>
<line x1="504.02" y1="400.61" x2="504.02" y2="415.02" stroke="#333" stroke-width="0.55"/>
<line x1="504.02" y1="426.88" x2="504.02" y2="441.29" stroke="#333" stroke-width="0.55"/>
<rect x="498.22" y="415.02" width="11.60" height="11.85" fill="#e9b22e" stroke="#333" stroke-width="0.6" fill-opacity="0.15"/>
<line x1="498.22" y1="420.95" x2="509.82" y2="420.95" stroke="#111" stroke-width="1.0"/>
<line x1="517.34" y1="389.85" x2="517.34" y2="405.02" stroke="#333" stroke-width="0.55"/>
<line x1="517.34" y1="417.48" x2="517.34" y2="432.65" stroke="#333" stroke-width="0.55"/>
<rect x="511.54" y="405.02" width="11.60" height="12.47" fill="#e9b22e" stroke="#333" stroke-width="0.6" fill-opacity="0.15"/>
<line x1="511.54" y1="411.25" x2="523.14" y2="411.25" stroke="#111" stroke-width="1.0"/>
<line x1="388.80" y1="484.00" x2="390.80" y2="484.00" stroke="#444" stroke-width="0.7"/>
<text x="386.60" y="487.10" font-size="8.5" text-anchor="end" fill="#222">0.1</text>
<line x1="388.80" y1="445.20" x2="390.80" y2="445.20" stroke="#444" stroke-width="0.7"/>
<text x="386.60" y="448.30" font-size="8.5" text-anchor="end" fill="#222">0.3</text>
<line x1="388.80" y1="406.40" x2="390.80" y2="406.40" stroke="#444" stroke-width="0.7"/>
<text x="386.60" y="409.50" font-size="8.5" text-anchor="end" fill="#222">0.5</text>
<line x1="388.80" y1="367.60" x2="390.80" y2="367.60" stroke="#444" stroke-width="0.7"/>
<text x="386.60" y="370.70" font-size="8.5" text-anchor="end" fill="#222">0.7</text>
<line x1="390.80" y1="503.40" x2="390.80" y2="505.40" stroke="#444" stroke-width="0.7"/>
<text x="390.80" y="516.60" font-size="8.5" text-anchor="middle" fill="#222">0</text>
<line x1="417.44" y1="503.40" x2="417.44" y2="505.40" stroke="#444" stroke-width="0.7"/>
<text x="417.44" y="516.60" font-size="8.5" text-anchor="middle" fill="#222">0.1</text>
<line x1="444.08" y1="503.40" x2="444.08" y2="505.40" stroke="#444" stroke-width="0.7"/>
<text x="444.08" y="516.60" font-size="8.5" text-anchor="middle" fill="#222">0.2</text>
<line x1="470.72" y1="503.40" x2="470.72" y2="505.40" stroke="#444" stroke-width="0.7"/>
<text x="470.72" y="516.60" font-size="8.5" text-anchor="middle" fill="#222">0.3</text>
<line x1="497.36" y1="503.40" x2="497.36" y2="505.40" stroke="#444" stroke-width="0.7"/>
<text x="497.36" y="516.60" font-size="8.5" text-anchor="middle" fill="#222">0.4</text>
<line x1="524.00" y1="503.40" x2="524.00" y2="505.40" stroke="#444" stroke-width="0.7"/>
<text x="524.00" y="516.60" font-size="8.5" text-anchor="middle" fill="#222">0.5</text>
<rect x="394.60" y="374.20" width="76.40" height="22.80" fill="#fff" stroke="#333" stroke-width="0.8" stroke-dasharray="2.8,1.5"/>
<text x="400.40" y="382.90" font-size="8.1" fill="#222">RMSE = <tspan fill="#222">0.0607</tspan></text>
<text x="400.40" y="392.60" font-size="8.1" fill="#222">PCC = <tspan fill="#222">0.9193</tspan></text>
<text x="516.00" y="496.50" font-size="7.4" text-anchor="end" fill="#222">n = 200</text>
<rect x="582.10" y="355.80" width="65.50" height="8.80" fill="#a6a6a6" stroke="none" stroke-width="1"/>
<text x="614.85" y="362.90" font-size="8.2" text-anchor="middle" fill="#fff" font-weight="bold">SRFD</text>
<rect x="546.90" y="367.60" width="132.50" height="135.80" fill="#fff" stroke="#444" stroke-width="0.9"/>
<path class="d5" d="M554.5 502.1h0M550.6 502.9h0M555.5 490.7h0M549.4 502.6h0M555.5 500.1h0M559.7 496.8h0"/>
<path class="d5" d="M553.9 502.6h0M555.3 494.1h0M550.9 501.8h0M547.6 499.4h0M555.0 497.7h0M558.1 498.9h0"/>
<path class="d5" d="M559.2 499.6h0M548.5 503.3h0M547.6 500.3h0M549.7 501.6h0M558.8 494.4h0M551.2 501.9h0"/>
<path class="d5" d="M550.1 501.0h0M553.9 497.8h0M550.9 502.1h0M548.4 501.0h0M547.3 499.5h0M554.3 502.0h0"/>
<path class="d5" d="M548.5 501.2h0M551.1 498.9h0M547.7 503.2h0M549.5 499.3h0M555.6 500.9h0M551.6 498.8h0"/>
<path class="d5" d="M554.0 497.3h0M547.8 502.8h0M553.3 503.0h0M548.4 498.5h0M558.5 489.9h0M552.8 498.6h0"/>
<path class="d5" d="M551.1 496.2h0M549.1 502.9h0M553.5 499.2h0M548.1 503.1h0M554.9 497.9h0M552.5 503.0h0"/>
<path class="d5" d="M553.6 498.8h0M559.6 485.8h0M553.3 495.1h0M557.5 494.9h0M551.2 498.5h0M556.3 494.8h0"/>
<path class="d5" d="M555.1 498.3h0M557.0 490.7h0M559.7 491.7h0M557.6 498.8h0M559.2 489.8h0M554.7 501.9h0"/>
<path class="d5" d="M553.7 495.4h0M556.5 500.4h0M549.9 498.9h0M554.6 496.0h0M554.5 496.9h0M559.5 491.5h0"/>
<path class="d5" d="M547.8 497.8h0M554.5 500.4h0M560.1 493.6h0M559.3 494.4h0M552.4 493.8h0M548.7 502.9h0"/>
<path class="d5" d="M547.4 497.6h0M557.4 494.6h0M549.9 498.7h0M557.5 493.1h0M556.7 489.5h0M556.9 503.1h0"/>
<path class="d5" d="M558.0 494.6h0M558.3 494.7h0M555.1 498.1h0M551.3 498.5h0M551.4 503.3h0M549.6 501.3h0"/>
<path class="d5" d="M548.0 502.1h0M548.2 500.8h0M552.4 495.0h0M554.1 493.3h0M553.0 500.4h0M547.2 502.9h0"/>
<path class="d5" d="M547.9 503.2h0M550.2 498.2h0M551.0 500.1h0M552.8 499.3h0M552.0 500.7h0M549.9 496.0h0"/>
<path class="d5" d="M547.5 498.3h0M551.5 492.0h0M548.5 497.7h0M559.6 494.9h0M551.3 499.7h0M550.0 501.9h0"/>
<path class="d5" d="M557.4 502.1h0M552.0 500.2h0M558.5 489.9h0M549.4 499.4h0M549.5 498.8h0M557.7 498.0h0"/>
<path class="d5" d="M550.7 501.5h0M555.2 502.9h0M550.0 502.9h0M557.5 503.4h0M552.8 500.2h0M557.1 494.7h0"/>
<path class="d5" d="M549.0 501.7h0M549.1 500.9h0M552.0 501.7h0M552.5 498.8h0M556.9 494.2h0M553.8 497.1h0"/>
<path class="d5" d="M558.9 490.0h0M548.1 503.1h0M558.5 486.5h0M553.9 498.4h0M552.0 503.0h0M560.1 497.1h0"/>
<path class="d5" d="M553.4 501.5h0M554.1 498.1h0M554.1 498.8h0M559.0 490.1h0M550.0 501.1h0M558.3 491.6h0"/>
<path class="d5" d="M550.9 496.8h0M558.5 502.4h0M557.6 494.0h0M557.8 491.3h0M550.2 502.5h0M559.3 498.8h0"/>
<path class="d5" d="M551.5 499.3h0M551.1 499.7h0M554.1 499.2h0M555.5 490.2h0M555.1 495.7h0M555.5 499.8h0"/>
<path class="d5" d="M551.5 500.3h0M557.3 493.7h0M558.8 488.4h0M547.7 501.8h0M552.4 502.3h0M552.6 492.2h0"/>
<path class="d5" d="M553.7 500.0h0M550.1 499.0h0M547.7 498.8h0M556.7 495.6h0M555.8 497.3h0M547.9 493.2h0"/>
<path class="d5" d="M552.6 500.2h0M559.6 491.7h0M556.4 494.7h0M557.6 493.6h0M551.8 500.6h0M551.2 497.5h0"/>
<path class="d5" d="M554.7 499.3h0M547.7 498.9h0M554.0 500.7h0M558.4 496.4h0M559.2 496.3h0M549.1 503.1h0"/>
<path class="d5" d="M555.2 497.7h0M554.0 496.0h0M549.6 502.9h0M547.1 502.2h0M555.3 495.9h0M556.5 493.0h0"/>
<path class="d5" d="M559.7 496.3h0M551.5 494.7h0M559.4 491.4h0M548.0 498.4h0M554.3 498.1h0M557.0 503.2h0"/>
<path class="d5" d="M554.2 502.0h0M555.5 493.9h0M555.0 498.6h0M559.3 500.3h0M555.1 493.0h0M551.9 503.4h0"/>
<path class="d5" d="M557.5 500.1h0M558.5 489.2h0M558.8 489.5h0M553.5 501.3h0M550.7 502.9h0M551.7 502.8h0"/>
<path class="d5" d="M549.7 501.0h0M549.6 501.9h0M548.7 498.9h0M557.9 492.0h0M550.2 500.7h0M549.7 502.3h0"/>
<path class="d5" d="M554.1 497.7h0M556.0 500.8h0M551.7 502.8h0M546.9 500.8h0M549.6 503.2h0M549.5 497.6h0"/>
<path class="d5" d="M550.1 496.2h0M552.3 499.6h0M557.3 497.1h0M554.3 503.2h0M555.0 494.1h0M552.1 497.4h0"/>
<path class="d5" d="M550.3 502.8h0M549.8 496.0h0M548.4 503.3h0M547.2 501.5h0M559.0 495.1h0M553.9 498.3h0"/>
<path class="d5" d="M562.5 501.4h0M573.1 482.4h0M565.4 488.4h0M561.2 497.2h0M565.5 486.7h0M569.7 493.5h0"/>
<path class="d5" d="M573.2 488.9h0M571.0 480.3h0M572.4 477.6h0M564.7 496.2h0M565.2 491.2h0M564.2 491.8h0"/>
<path class="d5" d="M565.1 489.0h0M568.8 484.1h0M564.3 483.3h0M572.7 481.0h0M563.1 491.9h0M563.1 492.8h0"/>
<path class="d5" d="M562.3 495.0h0M571.0 489.8h0M568.9 486.5h0M567.9 496.6h0M563.1 486.9h0M571.0 477.5h0"/>
<path class="d5" d="M568.7 479.2h0M565.5 491.7h0M562.6 499.7h0M571.9 479.9h0M560.2 489.1h0M572.2 484.1h0"/>
<path class="d5" d="M571.8 483.7h0M562.9 492.7h0M570.4 489.4h0M572.9 482.3h0M560.4 501.4h0M569.4 485.6h0"/>
<path class="d5" d="M571.9 485.4h0M573.1 477.6h0M561.9 503.3h0M562.3 486.5h0M570.4 485.7h0M573.3 487.2h0"/>
<path class="d5" d="M570.5 476.2h0M571.8 474.2h0M566.5 481.2h0M567.9 486.2h0M570.0 481.4h0M570.9 482.8h0"/>
<path class="d5" d="M569.8 484.3h0M566.2 485.5h0M566.2 478.8h0M560.2 494.0h0M568.3 481.5h0M567.1 481.5h0"/>
<path class="d5" d="M572.0 475.3h0M562.4 496.9h0M561.0 492.1h0M570.5 490.7h0M566.0 495.0h0M565.0 486.2h0"/>
<path class="d5" d="M566.7 493.7h0M561.1 489.1h0M566.3 494.5h0M572.1 487.8h0M565.1 483.3h0M565.2 491.2h0"/>
<path class="d5" d="M567.6 491.9h0M560.5 488.8h0M572.0 484.9h0M561.3 492.1h0M564.6 490.7h0M565.1 481.6h0"/>
<path class="d5" d="M572.3 485.0h0M572.8 479.6h0M571.5 482.7h0M561.1 493.5h0M569.4 487.6h0M561.4 490.9h0"/>
<path class="d5" d="M564.4 492.5h0M573.3 477.0h0M562.4 490.2h0M571.6 490.8h0M573.3 481.3h0M569.9 487.2h0"/>
<path class="d5" d="M570.4 486.5h0M570.2 485.0h0M568.5 486.7h0M569.9 493.7h0M560.7 483.7h0M564.8 493.7h0"/>
<path class="d5" d="M570.6 481.1h0M564.6 491.7h0M568.1 486.5h0M569.4 491.0h0M572.8 491.1h0M562.0 485.7h0"/>
<path class="d5" d="M568.0 485.2h0M563.9 494.3h0M563.8 493.4h0M565.6 486.1h0M563.4 493.4h0M563.6 492.4h0"/>
<path class="d5" d="M566.3 485.8h0M562.6 493.3h0M570.4 487.7h0M573.0 484.9h0M562.8 493.4h0M571.1 487.7h0"/>
<path class="d5" d="M565.1 494.9h0M569.5 492.2h0M564.3 492.1h0M567.1 482.7h0M569.6 484.8h0M560.2 492.8h0"/>
<path class="d5" d="M570.8 481.9h0M566.2 482.4h0M572.8 489.8h0M561.5 498.3h0M572.0 485.5h0M571.5 483.9h0"/>
<path class="d5" d="M563.2 491.5h0M566.0 489.7h0M566.3 496.4h0M564.0 488.1h0M572.2 477.7h0M563.9 481.3h0"/>
<path class="d5" d="M569.1 480.5h0M571.5 487.8h0M561.3 491.4h0M569.1 486.9h0M571.1 484.4h0M568.2 494.5h0"/>
<path class="d5" d="M573.2 481.9h0M570.8 475.4h0M562.7 495.8h0M562.1 490.9h0M571.4 480.1h0M560.6 498.3h0"/>
<path class="d5" d="M569.8 479.6h0M572.5 487.4h0M572.9 486.1h0M564.2 497.0h0M570.4 487.1h0M564.5 487.1h0"/>
<path class="d5" d="M564.2 488.0h0M563.8 490.1h0M563.0 484.6h0M571.1 484.2h0M564.6 492.0h0M560.5 500.9h0"/>
<path class="d5" d="M567.7 490.0h0M572.1 485.9h0M570.8 490.9h0M571.2 486.4h0M560.9 489.4h0M564.2 493.9h0"/>
<path class="d5" d="M563.6 492.7h0M571.1 485.7h0M565.6 480.9h0M570.7 492.3h0M561.6 492.1h0M572.6 477.4h0"/>
<path class="d5" d="M568.4 492.3h0M566.3 482.8h0M568.0 497.9h0M568.3 484.3h0M561.6 494.9h0M562.4 495.0h0"/>
<path class="d5" d="M566.7 489.5h0M563.1 481.2h0M567.4 484.2h0M568.8 486.8h0M566.8 491.4h0M568.3 492.2h0"/>
<path class="d5" d="M563.6 485.5h0M560.5 495.8h0M571.2 482.7h0M568.7 482.9h0M572.0 482.6h0M567.0 485.1h0"/>
<path class="d5" d="M569.2 493.4h0M573.3 481.8h0M561.0 498.6h0M570.9 480.7h0M572.8 485.7h0M569.0 483.9h0"/>
<path class="d5" d="M571.1 483.4h0M561.9 496.9h0M569.4 486.5h0M560.2 492.5h0M564.7 493.7h0M566.1 485.1h0"/>
<path class="d5" d="M566.9 490.1h0M570.7 487.6h0M569.0 484.5h0M567.3 493.2h0M571.2 487.0h0M571.6 487.8h0"/>
<path class="d5" d="M562.7 492.7h0M566.2 480.9h0M562.2 487.5h0M560.4 496.4h0M564.7 491.9h0M569.7 483.1h0"/>
<path class="d5" d="M563.2 484.1h0M567.8 483.3h0M566.5 483.7h0M571.4 489.5h0M564.6 491.3h0M566.4 485.1h0"/>
<path class="d5" d="M581.0 475.5h0M585.8 467.3h0M583.3 469.8h0M581.8 476.9h0M574.1 474.5h0M580.8 478.3h0"/>
<path class="d5" d="M580.3 481.6h0M581.0 481.6h0M580.1 481.7h0M574.2 478.4h0M581.5 477.0h0M575.4 478.1h0"/>
<path class="d5" d="M583.3 482.7h0M580.2 476.4h0M581.2 480.2h0M583.6 472.5h0M583.0 474.5h0M578.1 477.6h0"/>
<path class="d5" d="M583.9 476.9h0M579.1 475.7h0M580.0 481.6h0M578.7 482.6h0M586.4 473.4h0M580.1 482.0h0"/>
<path class="d5" d="M575.4 478.1h0M585.7 474.7h0M576.3 480.5h0M577.7 475.6h0M578.0 484.0h0M574.9 479.2h0"/>
<path class="d5" d="M581.7 478.5h0M575.2 485.3h0M573.9 480.7h0M581.7 471.4h0M585.8 472.6h0M576.8 483.5h0"/>
<path class="d5" d="M576.0 480.4h0M580.6 477.5h0M586.1 472.7h0M576.7 481.1h0M578.1 478.4h0M579.2 480.9h0"/>
<path class="d5" d="M585.0 474.0h0M580.3 481.4h0M582.4 469.1h0M582.4 469.2h0M578.3 480.9h0M585.4 472.3h0"/>
<path class="d5" d="M575.9 488.0h0M581.4 481.6h0M584.0 476.7h0M576.2 474.1h0M582.8 476.2h0M583.1 482.1h0"/>
<path class="d5" d="M582.4 473.0h0M576.2 481.0h0M582.6 474.7h0M585.6 477.7h0M576.0 490.1h0M577.1 476.4h0"/>
<path class="d5" d="M584.8 470.5h0M584.5 473.8h0M582.1 472.5h0M580.4 473.9h0M573.8 482.1h0M585.7 474.7h0"/>
<path class="d5" d="M582.6 479.3h0M576.7 484.9h0M579.9 476.3h0M579.7 479.3h0M581.4 469.3h0M586.0 475.5h0"/>
<path class="d5" d="M582.7 487.9h0M573.9 478.6h0M583.3 473.6h0M574.1 482.7h0M579.4 476.3h0M581.6 486.2h0"/>
<path class="d5" d="M578.3 481.2h0M577.8 474.8h0M580.2 479.7h0M585.7 476.1h0M575.1 481.5h0M573.4 484.0h0"/>
<path class="d5" d="M586.1 476.4h0M583.6 471.0h0M574.5 490.2h0M579.8 485.1h0M573.7 477.5h0M576.0 473.3h0"/>
<path class="d5" d="M582.8 482.2h0M581.9 484.0h0M580.5 475.4h0M576.4 488.6h0M574.4 488.0h0M582.2 480.4h0"/>
<path class="d5" d="M577.3 473.8h0M579.0 479.8h0M575.7 480.1h0M582.5 472.7h0M578.9 477.6h0M584.5 479.4h0"/>
<path class="d5" d="M586.3 478.5h0M577.3 488.3h0M579.5 482.7h0M586.3 470.0h0M577.8 472.1h0M577.0 482.5h0"/>
<path class="d5" d="M579.1 484.2h0M585.9 471.3h0M581.8 484.0h0M577.9 479.9h0M575.1 488.9h0M583.9 469.2h0"/>
<path class="d5" d="M573.8 488.4h0M581.8 484.0h0M586.1 475.0h0M578.7 476.5h0M573.7 480.0h0M582.2 481.3h0"/>
<path class="d5" d="M580.1 483.4h0M583.8 476.5h0M584.9 467.7h0M579.6 479.1h0M580.9 473.2h0M573.6 484.4h0"/>
<path class="d5" d="M580.1 476.6h0M578.0 482.1h0M581.7 480.4h0M583.4 479.4h0M584.3 478.3h0M575.2 491.5h0"/>
<path class="d5" d="M578.9 482.9h0M579.0 476.9h0M585.7 474.3h0M582.6 479.9h0M582.0 476.9h0M575.1 477.6h0"/>
<path class="d5" d="M579.4 479.3h0M577.5 485.0h0M576.6 477.3h0M579.3 479.6h0M576.5 489.7h0M584.9 474.2h0"/>
<path class="d5" d="M581.1 473.7h0M582.5 478.4h0M578.3 480.1h0M576.1 476.4h0M581.7 472.8h0M583.1 468.9h0"/>
<path class="d5" d="M573.7 488.2h0M582.0 471.7h0M581.6 468.6h0M575.2 481.3h0M573.6 483.2h0M576.0 486.7h0"/>
<path class="d5" d="M575.3 487.2h0M573.8 478.3h0M580.3 488.3h0M579.0 476.1h0M575.6 483.6h0M574.7 483.6h0"/>
<path class="d5" d="M585.3 479.2h0M576.2 483.1h0M575.3 486.4h0M585.9 471.0h0M579.6 483.3h0M577.4 476.6h0"/>
<path class="d5" d="M580.1 481.1h0M578.3 477.5h0M583.7 469.4h0M585.7 470.3h0M581.2 487.7h0M583.0 473.2h0"/>
<path class="d5" d="M577.9 468.9h0M579.3 478.9h0M577.6 476.7h0M583.1 476.0h0M581.4 472.5h0M583.8 468.0h0"/>
<path class="d5" d="M574.6 485.7h0M578.4 482.7h0M577.2 482.6h0M586.1 474.4h0M575.4 480.8h0M578.8 479.4h0"/>
<path class="d5" d="M577.0 476.1h0M586.6 473.7h0M578.4 476.0h0M574.3 479.7h0M579.9 476.7h0M575.3 479.0h0"/>
<path class="d5" d="M577.7 474.0h0M581.8 477.4h0M584.4 482.4h0M573.6 480.3h0M580.4 475.7h0M575.0 486.2h0"/>
<path class="d5" d="M585.6 473.2h0M574.9 486.4h0M578.5 483.5h0M584.7 474.4h0M580.8 475.5h0M585.8 480.3h0"/>
<path class="d5" d="M581.8 483.2h0M584.7 474.9h0M581.6 480.2h0M585.1 475.7h0M582.3 471.3h0M576.1 481.9h0"/>
<path class="d5" d="M587.4 476.2h0M589.9 465.0h0M596.2 461.1h0M588.7 460.0h0M589.1 464.2h0M598.3 457.1h0"/>
<path class="d5" d="M595.8 465.8h0M595.9 454.7h0M590.0 462.9h0M590.2 476.4h0M593.7 465.2h0M587.7 472.5h0"/>
<path class="d5" d="M597.5 473.3h0M598.8 461.7h0M590.4 467.7h0M599.0 460.3h0M590.9 468.1h0M591.7 469.0h0"/>
<path class="d5" d="M598.4 462.9h0M591.4 459.8h0M599.6 467.4h0M591.0 472.8h0M593.7 473.5h0M599.3 459.8h0"/>
<path class="d5" d="M587.1 478.9h0M598.6 456.3h0M598.2 469.0h0M598.4 460.4h0M594.3 464.7h0M596.9 466.5h0"/>
<path class="d5" d="M596.3 461.5h0M594.6 467.6h0M597.9 468.0h0M595.7 465.7h0M588.8 462.5h0M592.8 452.3h0"/>
<path class="d5" d="M599.4 460.5h0M589.7 472.2h0M596.7 464.5h0M587.9 470.2h0M598.2 454.7h0M591.7 476.9h0"/>
<path class="d5" d="M589.8 472.5h0M589.4 471.6h0M598.8 458.2h0M589.6 471.5h0M594.8 460.7h0M593.7 472.4h0"/>
<path class="d5" d="M595.5 467.9h0M591.0 474.9h0M593.0 486.5h0M589.2 468.1h0M587.0 487.5h0M599.2 469.6h0"/>
<path class="d5" d="M588.6 459.5h0M590.1 470.9h0M589.9 468.9h0M594.0 461.3h0M589.4 478.4h0M588.7 471.8h0"/>
<path class="d5" d="M595.3 462.1h0M589.2 467.0h0M588.5 481.3h0M593.6 473.0h0M588.4 467.2h0M594.1 456.8h0"/>
<path class="d5" d="M590.3 473.1h0M594.3 465.4h0M586.7 472.6h0M591.3 473.7h0M599.4 458.4h0M595.0 465.1h0"/>
<path class="d5" d="M595.0 461.8h0M592.7 478.5h0M597.0 464.9h0M597.7 454.1h0M586.9 472.6h0M588.2 477.5h0"/>
<path class="d5" d="M588.6 473.2h0M598.1 453.4h0M595.0 470.1h0M589.4 467.7h0M587.6 480.5h0M597.4 463.0h0"/>
<path class="d5" d="M596.7 460.0h0M596.5 471.5h0M594.9 473.2h0M587.9 480.4h0M587.1 471.9h0M592.5 463.1h0"/>
<path class="d5" d="M587.6 477.1h0M591.2 476.9h0M598.5 465.1h0M599.7 457.9h0M590.0 470.3h0M591.6 467.8h0"/>
<path class="d5" d="M594.4 472.7h0M595.2 461.1h0M594.0 457.9h0M587.6 472.9h0M598.7 466.7h0M598.0 475.4h0"/>
<path class="d5" d="M597.9 464.5h0M595.4 460.7h0M593.5 467.5h0M595.9 473.0h0M591.6 474.1h0M592.6 461.8h0"/>
<path class="d5" d="M591.5 475.1h0M591.0 467.9h0M591.7 472.6h0M591.6 470.9h0M595.3 474.1h0M590.5 462.9h0"/>
<path class="d5" d="M592.7 474.0h0M593.3 466.9h0M598.6 461.6h0M597.3 466.8h0M595.0 471.3h0M590.2 470.8h0"/>
<path class="d5" d="M592.5 461.1h0M598.4 454.8h0M599.6 460.3h0M599.4 462.0h0M594.3 468.3h0M594.5 457.8h0"/>
<path class="d5" d="M596.3 462.9h0M590.4 473.5h0M595.4 459.4h0M594.7 469.0h0M593.2 455.9h0M593.7 466.3h0"/>
<path class="d5" d="M589.3 466.2h0M597.5 461.8h0M597.7 459.2h0M595.4 481.2h0M590.3 468.4h0M593.0 461.3h0"/>
<path class="d5" d="M589.5 469.3h0M589.2 472.1h0M589.2 480.6h0M589.5 472.0h0M589.4 473.8h0M593.1 481.3h0"/>
<path class="d5" d="M598.6 470.3h0M590.2 474.6h0M589.7 480.0h0M595.5 457.0h0M596.6 457.0h0M590.9 477.7h0"/>
<path class="d5" d="M589.1 463.2h0M588.8 470.7h0M597.0 463.8h0M597.7 468.3h0M590.8 481.5h0M587.2 474.2h0"/>
<path class="d5" d="M589.6 471.6h0M598.6 452.5h0M592.6 460.5h0M590.6 463.3h0M594.7 457.3h0M595.0 469.5h0"/>
<path class="d5" d="M594.7 474.8h0M592.5 469.8h0M596.1 465.0h0M589.7 471.8h0M595.4 462.5h0M592.3 475.7h0"/>
<path class="d5" d="M589.8 472.3h0M589.9 472.4h0M597.5 473.6h0M589.0 473.1h0M587.6 471.4h0M593.5 471.0h0"/>
<path class="d5" d="M594.5 472.2h0M594.2 464.9h0M594.3 463.2h0M595.9 463.2h0M594.6 468.5h0M592.4 461.9h0"/>
<path class="d5" d="M587.7 466.9h0M595.4 458.1h0M590.6 473.8h0M587.4 470.6h0M590.3 474.2h0M587.9 467.9h0"/>
<path class="d5" d="M597.1 466.5h0M595.3 466.6h0M588.1 475.0h0M593.6 474.0h0M591.4 466.8h0M588.2 476.0h0"/>
<path class="d5" d="M593.9 469.3h0M593.6 472.3h0M596.2 457.3h0M591.1 462.6h0M593.3 470.9h0M594.7 457.0h0"/>
<path class="d5" d="M592.1 474.8h0M590.8 461.7h0M589.7 459.7h0M598.1 462.1h0M597.3 458.8h0M598.6 464.8h0"/>
<path class="d5" d="M594.9 467.6h0M590.9 464.7h0M590.9 470.9h0M599.0 458.3h0M587.4 482.1h0M597.1 462.8h0"/>
<path class="d5" d="M600.4 460.8h0M608.4 462.5h0M607.7 450.4h0M609.9 469.7h0M601.9 463.4h0M601.1 457.4h0"/>
<path class="d5" d="M603.2 456.6h0M608.1 438.9h0M611.5 441.1h0M609.6 459.7h0M604.6 462.8h0M611.1 448.3h0"/>
<path class="d5" d="M603.9 472.1h0M601.0 463.3h0M608.6 451.7h0M608.8 455.9h0M608.9 446.7h0M611.6 456.6h0"/>
<path class="d5" d="M610.4 452.9h0M600.3 446.0h0M609.7 460.4h0M604.2 457.5h0M609.6 449.5h0M611.5 459.1h0"/>
<path class="d5" d="M604.3 450.1h0M609.1 469.2h0M604.7 460.4h0M610.7 451.6h0M610.8 454.5h0M611.9 450.4h0"/>
<path class="d5" d="M610.9 456.5h0M610.5 455.5h0M603.2 465.2h0M611.2 455.2h0M608.0 447.1h0M602.9 460.0h0"/>
<path class="d5" d="M610.1 456.2h0M608.5 448.4h0M604.6 455.1h0M600.7 458.5h0M610.8 455.5h0M606.2 457.9h0"/>
<path class="d5" d="M605.7 462.9h0M600.7 469.0h0M599.9 455.0h0M605.0 461.0h0M602.9 464.2h0M607.9 469.7h0"/>
<path class="d5" d="M602.6 465.9h0M605.2 447.1h0M608.7 447.7h0M611.5 453.7h0M611.3 451.1h0M604.4 465.5h0"/>
<path class="d5" d="M606.4 466.7h0M605.2 454.6h0M612.1 446.6h0M608.9 457.9h0M611.8 446.8h0M604.1 462.0h0"/>
<path class="d5" d="M600.0 456.2h0M601.6 459.9h0M606.0 455.2h0M606.6 463.0h0M612.4 466.5h0M612.6 450.3h0"/>
<path class="d5" d="M603.9 460.1h0M606.4 447.0h0M603.1 464.1h0M604.6 450.6h0M608.8 457.9h0M604.1 455.2h0"/>
<path class="d5" d="M610.7 453.6h0M601.1 459.0h0M608.9 452.9h0M612.9 457.7h0M608.9 464.1h0M611.1 453.4h0"/>
<path class="d5" d="M607.8 458.1h0M607.3 462.1h0M610.6 457.1h0M603.4 455.5h0M602.2 464.2h0M600.1 459.0h0"/>
<path class="d5" d="M605.6 466.8h0M603.5 455.5h0M612.3 449.4h0M601.0 456.5h0M606.0 463.4h0M602.8 455.6h0"/>
<path class="d5" d="M604.9 462.6h0M603.5 465.5h0M601.4 466.0h0M608.9 453.9h0M606.4 457.1h0M612.9 443.3h0"/>
<path class="d5" d="M606.6 467.4h0M607.4 455.4h0M613.1 456.1h0M608.3 457.6h0M607.8 466.2h0M610.5 450.6h0"/>
<path class="d5" d="M606.0 459.1h0M605.1 457.4h0M608.2 441.4h0M607.7 454.9h0M603.6 471.0h0M607.0 458.2h0"/>
<path class="d5" d="M604.7 453.5h0M613.1 463.2h0M605.1 462.2h0M604.3 461.7h0M610.7 442.9h0M602.4 467.7h0"/>
<path class="d5" d="M603.9 467.6h0M603.1 473.7h0M602.0 463.7h0M602.6 455.7h0M601.2 462.5h0M610.3 440.9h0"/>
<path class="d5" d="M610.6 463.3h0M605.4 462.9h0M604.2 459.7h0M607.0 456.8h0M605.1 470.7h0M600.3 452.5h0"/>
<path class="d5" d="M601.5 461.1h0M608.0 464.9h0M608.2 454.2h0M610.7 469.1h0M608.8 460.6h0M609.0 458.7h0"/>
<path class="d5" d="M607.1 457.7h0M612.2 457.8h0M611.8 443.0h0M611.9 443.3h0M600.5 465.6h0M611.1 446.9h0"/>
<path class="d5" d="M610.9 447.3h0M610.3 445.2h0M600.8 458.0h0M601.4 465.5h0M609.4 463.2h0M602.4 478.4h0"/>
<path class="d5" d="M602.5 462.5h0M610.7 439.5h0M612.7 445.3h0M610.7 472.1h0M606.8 458.3h0M610.6 463.4h0"/>
<path class="d5" d="M600.4 463.0h0M609.9 451.4h0M600.1 477.9h0M609.1 460.4h0M609.6 452.8h0M600.4 456.5h0"/>
<path class="d5" d="M606.2 452.9h0M606.6 456.8h0M609.6 457.7h0M606.9 446.8h0M608.7 461.1h0M610.7 477.5h0"/>
<path class="d5" d="M612.6 450.3h0M610.8 467.0h0M602.4 467.4h0M612.6 448.5h0M611.5 452.6h0M610.3 462.9h0"/>
<path class="d5" d="M609.0 461.1h0M611.5 456.9h0M600.7 472.2h0M608.8 456.1h0M605.1 460.1h0M610.0 449.6h0"/>
<path class="d5" d="M612.3 447.4h0M606.8 461.6h0M601.9 461.6h0M608.0 454.4h0M604.4 456.6h0M606.0 452.8h0"/>
<path class="d5" d="M600.9 459.3h0M607.6 458.2h0M613.1 449.4h0M610.6 452.6h0M611.2 461.3h0M608.7 467.6h0"/>
<path class="d5" d="M610.5 455.6h0M612.1 440.9h0M603.3 461.5h0M605.2 462.5h0M613.1 457.1h0M610.8 459.0h0"/>
<path class="d5" d="M608.8 454.5h0M602.3 472.7h0M603.0 462.3h0M603.7 460.4h0M609.1 459.2h0M604.3 454.6h0"/>
<path class="d5" d="M611.1 452.6h0M610.3 441.4h0M602.4 469.0h0M608.1 457.6h0M608.6 457.5h0M609.2 458.2h0"/>
<path class="d5" d="M603.0 463.5h0M612.4 454.6h0M600.4 460.8h0M600.8 461.2h0M600.1 456.4h0M606.6 460.7h0"/>
<path class="d5" d="M625.7 431.8h0M618.0 449.4h0M622.5 461.3h0M623.4 448.8h0M626.1 447.3h0M621.4 428.4h0"/>
<path class="d5" d="M614.0 446.0h0M617.2 450.6h0M618.7 449.8h0M618.8 458.0h0M625.2 449.8h0M622.5 442.3h0"/>
<path class="d5" d="M624.3 445.5h0M614.4 437.5h0M624.2 452.4h0M621.9 453.9h0M620.3 446.6h0M614.3 446.0h0"/>
<path class="d5" d="M618.1 445.7h0M626.1 447.9h0M621.6 458.2h0M620.2 445.2h0M625.9 440.8h0M621.1 429.8h0"/>
<path class="d5" d="M621.6 446.7h0M625.3 445.0h0M614.3 455.1h0M615.8 447.6h0M615.0 443.5h0M618.6 457.8h0"/>
<path class="d5" d="M625.4 453.0h0M613.3 446.3h0M617.0 455.3h0M623.6 444.8h0M618.3 445.7h0M620.1 450.3h0"/>
<path class="d5" d="M622.7 452.8h0M616.3 448.0h0M616.1 446.3h0M623.4 435.7h0M613.7 447.1h0M613.9 456.6h0"/>
<path class="d5" d="M616.7 437.3h0M621.7 441.9h0M615.1 448.7h0M620.5 444.9h0M620.6 434.3h0M614.2 459.1h0"/>
<path class="d5" d="M620.2 455.3h0M614.0 455.7h0M617.6 443.4h0M624.5 427.6h0M618.5 454.4h0M621.3 430.7h0"/>
<path class="d5" d="M625.1 451.6h0M618.8 449.0h0M613.3 454.1h0M618.4 446.2h0M622.8 453.8h0M618.5 455.5h0"/>
<path class="d5" d="M625.6 456.6h0M620.6 452.1h0M625.6 452.5h0M618.6 442.6h0M622.9 451.5h0M621.6 448.9h0"/>
<path class="d5" d="M622.5 448.4h0M616.3 448.4h0M624.1 439.6h0M624.2 444.4h0M614.7 455.9h0M625.0 441.7h0"/>
<path class="d5" d="M616.8 455.3h0M625.7 425.8h0M623.3 448.5h0M614.4 442.2h0M620.6 445.2h0M615.1 466.1h0"/>
<path class="d5" d="M614.7 461.3h0M613.5 450.1h0M616.8 466.2h0M618.1 441.8h0M614.7 454.8h0M626.3 440.2h0"/>
<path class="d5" d="M614.2 461.3h0M619.6 452.2h0M614.8 452.9h0M617.6 459.3h0M620.6 451.1h0M625.2 453.0h0"/>
<path class="d5" d="M614.0 457.7h0M626.0 438.5h0M617.4 444.9h0M621.2 448.9h0M615.6 465.6h0M625.4 435.5h0"/>
<path class="d5" d="M621.5 454.6h0M625.5 443.5h0M622.2 450.3h0M618.9 455.8h0M622.7 440.2h0M623.0 442.6h0"/>
<path class="d5" d="M615.0 461.5h0M618.5 446.8h0M626.1 445.1h0M625.0 438.5h0M624.2 455.0h0M620.8 445.1h0"/>
<path class="d5" d="M624.4 454.7h0M626.3 439.1h0M620.3 451.5h0M613.7 462.9h0M613.7 458.8h0M614.9 449.7h0"/>
<path class="d5" d="M616.4 453.2h0M623.7 454.0h0M621.9 440.6h0M624.2 457.3h0M622.7 443.5h0M616.0 440.0h0"/>
<path class="d5" d="M622.8 453.4h0M620.5 452.8h0M615.8 438.7h0M620.1 450.1h0M625.7 444.0h0M620.2 445.9h0"/>
<path class="d5" d="M614.2 453.7h0M623.6 435.1h0M614.9 449.3h0M615.6 452.0h0M625.4 446.7h0M622.6 445.4h0"/>
<path class="d5" d="M619.6 457.2h0M622.8 428.5h0M619.7 446.5h0M615.4 457.2h0M620.6 449.6h0M618.0 449.9h0"/>
<path class="d5" d="M623.2 450.4h0M616.3 451.9h0M624.0 444.9h0M615.1 446.0h0M617.2 454.7h0M620.0 456.3h0"/>
<path class="d5" d="M624.4 441.4h0M618.2 440.1h0M624.4 450.7h0M624.3 446.5h0M621.0 441.6h0M615.0 456.0h0"/>
<path class="d5" d="M617.9 428.4h0M618.3 454.1h0M624.7 452.4h0M617.4 466.2h0M614.3 462.9h0M620.4 440.5h0"/>
<path class="d5" d="M618.8 454.8h0M617.6 449.6h0M617.3 447.1h0M626.0 447.4h0M620.7 440.4h0M626.1 448.2h0"/>
<path class="d5" d="M618.7 440.6h0M623.6 442.4h0M625.2 442.7h0M621.8 452.7h0M617.3 447.5h0M625.5 462.7h0"/>
<path class="d5" d="M623.1 446.4h0M620.2 452.9h0M623.8 440.5h0M623.9 455.7h0M616.4 448.8h0M613.5 453.9h0"/>
<path class="d5" d="M624.6 439.0h0M624.5 438.9h0M625.4 448.9h0M617.8 454.3h0M613.3 450.3h0M613.7 461.9h0"/>
<path class="d5" d="M613.3 451.1h0M618.8 436.7h0M614.4 456.1h0M620.6 451.1h0M613.5 447.8h0M617.1 454.8h0"/>
<path class="d5" d="M616.9 461.0h0M618.3 451.3h0M615.8 434.3h0M621.4 455.3h0M615.3 453.7h0M620.7 445.3h0"/>
<path class="d5" d="M625.9 447.3h0M625.8 435.8h0M615.6 439.5h0M617.6 460.7h0M624.5 441.2h0M620.8 446.0h0"/>
<path class="d5" d="M613.7 445.0h0M622.2 441.4h0M623.4 449.6h0M617.3 450.7h0M613.2 464.3h0M618.2 436.4h0"/>
<path class="d5" d="M619.5 451.2h0M620.1 461.0h0M621.4 440.5h0M624.6 443.9h0M624.4 433.0h0M623.9 438.3h0"/>
<path class="d5" d="M632.8 451.7h0M637.9 406.5h0M626.9 449.7h0M633.5 438.1h0M637.0 432.4h0M637.8 429.6h0"/>
<path class="d5" d="M629.5 450.6h0M629.0 444.3h0M634.3 437.2h0M633.1 436.9h0M629.5 442.2h0M638.9 453.7h0"/>
<path class="d5" d="M631.8 439.2h0M635.1 440.2h0M628.6 443.4h0M632.4 446.2h0M635.0 448.4h0M639.1 437.3h0"/>
<path class="d5" d="M626.7 439.2h0M633.2 432.1h0M636.7 434.7h0M632.9 435.2h0M630.6 439.0h0M627.2 434.2h0"/>
<path class="d5" d="M636.3 443.8h0M635.2 435.7h0M630.9 436.5h0M628.6 435.1h0M630.7 436.1h0M632.1 445.4h0"/>
<path class="d5" d="M629.4 433.1h0M630.3 437.6h0M631.2 452.2h0M637.2 422.2h0M632.6 438.3h0M632.2 431.2h0"/>
<path class="d5" d="M626.9 458.0h0M628.7 450.1h0M630.3 445.4h0M628.9 436.3h0M632.2 455.4h0M631.9 442.7h0"/>
<path class="d5" d="M630.6 447.2h0M626.5 430.0h0M628.2 437.2h0M635.4 431.0h0M634.6 425.5h0M628.2 439.9h0"/>
<path class="d5" d="M630.4 446.1h0M629.0 432.9h0M636.4 444.1h0M630.6 446.5h0M636.5 435.7h0M630.7 450.2h0"/>
<path class="d5" d="M629.3 444.4h0M636.7 426.3h0M636.1 412.9h0M631.1 444.5h0M637.7 441.4h0M632.1 434.4h0"/>
<path class="d5" d="M630.5 442.4h0M638.1 426.3h0M626.8 444.5h0M638.1 447.5h0M633.1 451.2h0M633.8 441.3h0"/>
<path class="d5" d="M632.2 435.4h0M636.7 442.5h0M632.4 429.6h0M628.6 435.3h0M635.1 420.6h0M637.8 440.0h0"/>
<path class="d5" d="M639.5 413.1h0M637.6 430.2h0M627.9 428.1h0M632.8 433.9h0M629.2 456.1h0M638.8 433.8h0"/>
<path class="d5" d="M631.3 434.6h0M631.0 450.7h0M638.4 431.8h0M630.7 452.1h0M637.0 434.0h0M630.9 438.3h0"/>
<path class="d5" d="M634.4 446.6h0M635.5 463.4h0M632.0 433.2h0M631.3 435.6h0M638.9 456.0h0M636.4 435.3h0"/>
<path class="d5" d="M627.3 438.6h0M633.9 430.4h0M636.9 429.2h0M638.8 434.1h0M639.6 424.2h0M630.0 448.1h0"/>
<path class="d5" d="M631.8 435.3h0M628.8 435.6h0M627.2 455.7h0M627.6 442.9h0M635.0 442.6h0M635.9 430.9h0"/>
<path class="d5" d="M633.3 425.6h0M631.7 443.7h0M635.5 434.3h0M636.6 435.4h0M629.0 440.9h0M637.4 433.6h0"/>
<path class="d5" d="M639.0 428.9h0M637.0 422.1h0M629.7 444.8h0M637.2 430.3h0M635.7 441.2h0M634.0 424.9h0"/>
<path class="d5" d="M634.4 439.4h0M627.0 455.4h0M639.3 417.3h0M627.6 444.7h0M637.7 433.4h0M634.3 430.0h0"/>
<path class="d5" d="M630.0 453.5h0M632.1 436.8h0M635.9 440.4h0M630.7 462.0h0M637.0 442.8h0M629.8 426.8h0"/>
<path class="d5" d="M635.6 426.7h0M630.1 429.3h0M634.5 428.9h0M633.0 438.4h0M636.6 419.2h0M630.6 450.0h0"/>
<path class="d5" d="M636.0 446.5h0M631.5 430.4h0M627.7 436.9h0M635.8 434.0h0M633.4 431.5h0M635.5 447.0h0"/>
<path class="d5" d="M635.8 420.8h0M630.7 426.7h0M626.7 441.8h0M631.8 432.0h0M630.6 438.3h0M629.9 447.3h0"/>
<path class="d5" d="M631.2 424.9h0M627.6 455.5h0M638.5 442.0h0M637.9 430.7h0M637.8 433.1h0M631.8 445.3h0"/>
<path class="d5" d="M633.0 438.6h0M628.7 443.5h0M634.2 447.6h0M627.5 447.2h0M630.2 437.1h0M637.4 422.4h0"/>
<path class="d5" d="M634.2 436.7h0M632.7 425.2h0M630.0 447.4h0M634.5 431.6h0M634.3 430.2h0M636.7 435.6h0"/>
<path class="d5" d="M631.8 443.2h0M633.8 434.2h0M634.8 435.6h0M632.6 442.5h0M630.3 428.9h0M639.3 428.7h0"/>
<path class="d5" d="M626.5 442.2h0M635.3 436.0h0M635.4 433.9h0M635.1 442.1h0M628.9 444.2h0M626.8 470.1h0"/>
<path class="d5" d="M634.2 432.1h0M635.7 447.3h0M636.9 428.0h0M639.0 435.1h0M626.5 454.1h0M638.5 435.2h0"/>
<path class="d5" d="M638.4 431.1h0M635.4 425.4h0M634.1 417.7h0M631.3 435.0h0M636.7 433.3h0M626.5 447.7h0"/>
<path class="d5" d="M636.3 436.8h0M637.3 443.2h0M626.5 459.9h0M638.0 438.5h0M639.3 425.5h0M634.1 439.7h0"/>
<path class="d5" d="M631.1 430.7h0M637.4 427.3h0M634.3 425.3h0M637.7 427.3h0M628.6 446.7h0M627.0 442.5h0"/>
<path class="d5" d="M627.3 441.8h0M639.6 435.7h0M631.1 445.1h0M633.2 439.5h0M639.3 432.7h0M631.1 425.2h0"/>
<path class="d5" d="M631.4 451.5h0M628.1 446.5h0M626.5 439.0h0M634.3 419.9h0M629.3 446.6h0M636.3 437.9h0"/>
<path class="d5" d="M640.7 435.8h0M652.3 414.0h0M643.5 432.0h0M643.9 423.4h0M652.1 426.3h0M652.7 414.1h0"/>
<path class="d5" d="M652.4 413.9h0M647.3 427.2h0M650.2 419.4h0M651.8 417.8h0M652.6 400.8h0M642.9 426.8h0"/>
<path class="d5" d="M644.9 421.8h0M642.1 426.8h0M642.5 432.5h0M643.2 427.2h0M641.9 436.7h0M640.5 414.6h0"/>
<path class="d5" d="M643.1 420.3h0M643.0 425.4h0M646.1 438.5h0M651.4 434.7h0M646.6 426.3h0M641.1 432.5h0"/>
<path class="d5" d="M644.8 424.3h0M648.0 423.8h0M650.6 430.5h0M652.6 420.0h0M648.3 433.4h0M643.2 423.7h0"/>
<path class="d5" d="M644.1 448.4h0M651.3 430.8h0M640.7 412.2h0M645.5 420.5h0M652.3 422.0h0M645.7 414.9h0"/>
<path class="d5" d="M641.4 429.9h0M639.7 430.4h0M652.1 440.5h0M650.8 398.9h0M651.5 416.5h0M640.8 424.8h0"/>
<path class="d5" d="M643.6 445.7h0M650.8 431.0h0M642.8 439.8h0M645.7 435.6h0M651.7 415.2h0M642.4 437.2h0"/>
<path class="d5" d="M649.7 426.9h0M647.0 435.3h0M647.0 422.3h0M649.4 390.8h0M644.9 435.7h0M647.4 427.0h0"/>
<path class="d5" d="M650.0 446.3h0M642.0 424.3h0M642.8 422.6h0M640.3 439.4h0M642.5 430.3h0M647.7 425.1h0"/>
<path class="d5" d="M645.2 424.6h0M647.5 438.9h0M642.3 425.3h0M652.3 419.4h0M645.4 416.9h0M645.6 431.7h0"/>
<path class="d5" d="M648.1 425.2h0M648.9 423.9h0M651.4 418.2h0M650.1 419.9h0M641.5 451.9h0M648.7 438.0h0"/>
<path class="d5" d="M642.3 430.0h0M640.7 428.1h0M646.9 418.1h0M648.4 430.2h0M639.7 438.1h0M648.9 429.0h0"/>
<path class="d5" d="M641.6 427.8h0M644.9 440.9h0M645.3 449.9h0M650.6 409.9h0M647.3 426.5h0M650.4 426.1h0"/>
<path class="d5" d="M651.5 419.1h0M642.7 411.8h0M650.3 419.7h0M650.2 417.2h0M644.7 423.3h0M646.7 424.1h0"/>
<path class="d5" d="M643.2 434.7h0M648.9 406.6h0M651.8 417.1h0M649.6 408.9h0M649.6 419.5h0M643.8 439.2h0"/>
<path class="d5" d="M652.4 405.8h0M640.9 426.1h0M649.6 436.4h0M648.5 429.3h0M651.4 434.6h0M643.1 439.1h0"/>
<path class="d5" d="M648.1 435.1h0M640.8 424.0h0M651.4 426.9h0M649.0 421.6h0M646.3 421.9h0M646.2 435.7h0"/>
<path class="d5" d="M641.3 423.5h0M644.4 427.8h0M652.4 433.9h0M651.2 416.3h0M644.6 430.2h0M641.7 430.2h0"/>
<path class="d5" d="M646.9 432.1h0M651.1 438.2h0M641.0 435.0h0M650.0 428.5h0M641.3 440.7h0M649.7 419.8h0"/>
<path class="d5" d="M646.1 437.1h0M640.7 439.2h0M650.6 427.6h0M648.0 436.8h0M642.0 438.2h0M648.3 423.7h0"/>
<path class="d5" d="M642.7 424.8h0M650.1 435.7h0M646.6 437.8h0M650.0 448.3h0M641.5 442.7h0M642.0 415.6h0"/>
<path class="d5" d="M651.7 429.6h0M645.3 425.1h0M642.3 428.3h0M652.4 426.5h0M652.4 431.6h0M640.6 445.7h0"/>
<path class="d5" d="M646.5 431.2h0M649.4 429.5h0M642.7 428.2h0M650.3 426.6h0M648.1 434.2h0M649.6 418.8h0"/>
<path class="d5" d="M644.5 435.3h0M645.5 418.9h0M650.8 425.9h0M649.7 414.5h0M639.7 432.6h0M640.7 423.4h0"/>
<path class="d5" d="M646.6 421.6h0M640.1 435.1h0M652.5 412.6h0M646.3 446.2h0M641.1 424.2h0M647.2 427.5h0"/>
<path class="d5" d="M641.1 445.9h0M646.1 419.6h0M648.2 423.1h0M641.4 436.9h0M651.8 427.2h0M644.7 427.8h0"/>
<path class="d5" d="M646.7 430.3h0M642.7 427.2h0M649.9 435.9h0M650.2 434.8h0M645.2 421.5h0M651.2 422.1h0"/>
<path class="d5" d="M650.3 436.3h0M641.5 455.1h0M641.0 435.6h0M651.2 418.2h0M649.0 436.9h0M650.8 431.5h0"/>
<path class="d5" d="M647.1 439.6h0M646.8 423.8h0M646.4 425.9h0M646.7 436.4h0M647.8 425.3h0M649.2 428.0h0"/>
<path class="d5" d="M649.2 440.5h0M646.0 444.3h0M647.7 439.3h0M652.7 426.7h0M648.5 430.1h0M639.7 452.2h0"/>
<path class="d5" d="M649.5 409.2h0M649.7 419.8h0M644.0 439.8h0M651.5 413.0h0M640.1 434.2h0M646.7 432.6h0"/>
<path class="d5" d="M643.5 422.6h0M645.1 422.9h0M646.0 415.6h0M643.2 431.3h0M646.4 450.7h0M644.1 445.5h0"/>
<path class="d5" d="M647.9 444.0h0M642.7 431.7h0M640.2 445.7h0M647.5 418.5h0M641.5 448.9h0M643.7 436.7h0"/>
<path class="d5" d="M641.1 426.1h0M646.4 423.3h0M643.5 437.0h0M650.1 430.3h0M651.6 415.6h0M643.3 435.5h0"/>
<path class="d5" d="M657.0 425.6h0M655.6 427.2h0M654.4 426.0h0M658.7 428.2h0M655.2 400.3h0M660.3 399.5h0"/>
<path class="d5" d="M664.8 427.3h0M657.3 399.8h0M654.3 436.8h0M665.8 426.0h0M665.3 400.3h0M662.0 412.4h0"/>
<path class="d5" d="M660.1 420.5h0M656.5 412.9h0M654.1 423.9h0M656.7 435.5h0M659.7 419.1h0M664.0 413.1h0"/>
<path class="d5" d="M655.0 409.6h0M663.5 401.3h0M656.5 415.3h0M657.0 428.1h0M653.7 417.1h0M662.7 403.9h0"/>
<path class="d5" d="M654.2 434.3h0M661.8 426.5h0M663.6 407.1h0M664.3 419.5h0M658.4 422.0h0M661.7 425.7h0"/>
<path class="d5" d="M657.2 412.8h0M660.3 419.5h0M664.7 421.9h0M658.9 416.5h0M660.4 414.4h0M657.7 414.8h0"/>
<path class="d5" d="M661.5 415.3h0M663.5 411.5h0M658.6 431.2h0M662.0 413.8h0M659.6 396.2h0M659.9 428.8h0"/>
<path class="d5" d="M662.1 438.1h0M653.0 435.0h0M662.0 423.6h0M662.0 426.9h0M653.9 432.2h0M657.5 421.0h0"/>
<path class="d5" d="M662.3 428.7h0M659.9 431.7h0M664.7 402.6h0M662.4 416.8h0M657.3 432.5h0M659.2 405.8h0"/>
<path class="d5" d="M665.3 422.1h0M658.7 414.5h0M658.3 408.3h0M663.1 408.6h0M663.6 403.3h0M664.3 415.8h0"/>
<path class="d5" d="M664.9 421.2h0M662.9 424.6h0M655.0 424.6h0M653.6 433.0h0M654.5 430.7h0M654.8 427.0h0"/>
<path class="d5" d="M660.6 412.0h0M654.9 426.1h0M655.4 419.7h0M660.3 415.2h0M659.9 427.2h0M657.0 428.5h0"/>
<path class="d5" d="M655.0 417.1h0M654.0 427.8h0M658.9 427.0h0M666.0 412.9h0M666.1 424.4h0M659.0 401.6h0"/>
<path class="d5" d="M661.2 414.6h0M659.3 408.4h0M663.4 424.2h0M661.7 419.5h0M653.4 413.1h0M665.0 423.5h0"/>
<path class="d5" d="M656.9 426.4h0M662.2 423.1h0M665.7 425.5h0M666.1 400.3h0M653.0 402.8h0M661.0 412.6h0"/>
<path class="d5" d="M665.5 432.5h0M659.2 410.2h0M657.8 421.1h0M656.9 431.0h0M660.3 419.2h0M662.3 417.2h0"/>
<path class="d5" d="M656.8 408.2h0M654.4 440.9h0M655.0 436.5h0M655.5 415.5h0M657.6 402.9h0M653.8 419.8h0"/>
<path class="d5" d="M664.0 406.9h0M659.4 420.4h0M664.3 407.4h0M664.1 411.7h0M661.2 432.4h0M665.3 406.0h0"/>
<path class="d5" d="M663.5 412.1h0M663.7 414.0h0M657.0 417.2h0M661.0 406.7h0M665.4 424.4h0M661.0 410.5h0"/>
<path class="d5" d="M664.7 406.4h0M655.0 419.9h0M663.2 416.0h0M654.9 423.8h0M658.6 429.2h0M659.6 411.8h0"/>
<path class="d5" d="M659.7 422.2h0M659.3 423.0h0M658.5 419.7h0M662.7 411.1h0M657.4 420.1h0M655.0 421.6h0"/>
<path class="d5" d="M658.8 434.1h0M653.3 423.5h0M657.5 425.0h0M654.4 408.1h0M666.0 396.6h0M656.0 432.3h0"/>
<path class="d5" d="M661.7 419.4h0M660.0 427.2h0M664.9 425.1h0M653.0 435.0h0M663.6 416.4h0M653.7 425.4h0"/>
<path class="d5" d="M662.3 424.9h0M665.1 417.5h0M660.5 418.8h0M653.4 446.5h0M653.9 435.3h0M663.6 421.4h0"/>
<path class="d5" d="M656.7 424.1h0M660.7 425.5h0M661.2 436.5h0M654.6 410.8h0M662.9 428.4h0M654.6 425.6h0"/>
<path class="d5" d="M657.3 416.4h0M663.3 417.3h0M662.8 411.7h0M654.7 444.1h0M658.0 409.3h0M661.4 416.8h0"/>
<path class="d5" d="M657.2 427.5h0M656.1 434.4h0M656.7 416.3h0M655.5 427.1h0M659.5 404.2h0M658.7 414.9h0"/>
<path class="d5" d="M656.7 422.3h0M665.3 424.2h0M662.2 418.8h0M658.5 415.8h0M665.0 410.1h0M653.6 429.6h0"/>
<path class="d5" d="M653.5 415.3h0M665.4 426.5h0M661.6 423.3h0M658.5 424.4h0M656.9 410.6h0M654.3 410.4h0"/>
<path class="d5" d="M657.1 426.1h0M665.3 419.9h0M659.9 412.3h0M654.4 414.2h0M660.5 432.7h0M664.6 426.0h0"/>
<path class="d5" d="M665.6 402.0h0M662.4 423.5h0M661.5 420.1h0M663.3 424.3h0M653.5 449.3h0M663.9 421.0h0"/>
<path class="d5" d="M665.1 396.5h0M654.6 406.7h0M656.2 422.3h0M661.5 422.0h0M658.4 412.3h0M663.1 398.9h0"/>
<path class="d5" d="M659.7 420.7h0M659.3 405.6h0M657.7 419.9h0M661.0 428.2h0M658.3 431.0h0M653.7 408.7h0"/>
<path class="d5" d="M665.6 413.7h0M658.7 424.0h0M654.4 414.4h0M655.6 431.9h0M653.2 416.6h0M665.3 423.8h0"/>
<path class="d5" d="M655.9 423.6h0M659.3 427.1h0M659.0 437.8h0M658.9 402.8h0M655.4 423.0h0M660.3 417.2h0"/>
<path class="d5" d="M671.8 409.8h0M669.7 402.9h0M672.7 428.8h0M675.5 405.0h0M672.2 416.2h0M671.9 413.4h0"/>
<path class="d5" d="M666.6 395.3h0M669.0 422.2h0M671.2 406.1h0M666.7 413.7h0M667.2 398.9h0M673.1 414.5h0"/>
<path class="d5" d="M675.5 392.6h0M675.9 393.1h0M678.8 398.8h0M669.3 412.9h0M677.6 428.2h0M677.3 397.1h0"/>
<path class="d5" d="M674.8 399.7h0M670.6 389.7h0M673.6 422.2h0M678.0 417.6h0M666.9 396.0h0M669.6 420.7h0"/>
<path class="d5" d="M667.2 429.6h0M670.0 425.9h0M669.5 419.3h0M676.4 418.3h0M677.0 407.0h0M674.2 398.5h0"/>
<path class="d5" d="M673.8 401.7h0M672.8 406.3h0M673.4 417.7h0M677.3 387.5h0M669.2 403.9h0M674.4 404.3h0"/>
<path class="d5" d="M667.8 405.1h0M673.5 407.9h0M666.5 410.1h0M673.4 415.3h0M673.5 410.3h0M678.3 397.6h0"/>
<path class="d5" d="M672.5 408.5h0M666.4 391.3h0M669.6 406.2h0M675.0 418.8h0M668.7 397.3h0M675.3 391.9h0"/>
<path class="d5" d="M669.7 394.6h0M678.0 383.5h0M677.7 411.0h0M676.5 400.4h0M673.1 409.0h0M671.9 414.7h0"/>
<path class="d5" d="M674.2 397.2h0M673.7 400.9h0M673.6 406.7h0M668.8 415.2h0M676.4 402.4h0M668.4 421.2h0"/>
<path class="d5" d="M677.6 421.2h0M673.3 407.1h0M673.4 417.8h0M674.5 421.1h0M678.5 406.4h0M668.2 421.1h0"/>
<path class="d5" d="M670.6 414.3h0M670.9 410.7h0M678.3 405.4h0M669.0 412.3h0M678.2 388.7h0M674.9 402.6h0"/>
<path class="d5" d="M676.2 389.1h0M675.1 419.5h0M670.9 416.4h0M666.8 392.2h0M677.7 414.2h0M673.6 395.0h0"/>
<path class="d5" d="M675.7 413.4h0M670.7 417.6h0M667.2 429.8h0M668.7 399.7h0M673.4 402.9h0M677.1 405.1h0"/>
<path class="d5" d="M674.0 389.2h0M666.6 404.1h0M678.2 378.8h0M676.9 385.4h0M672.0 428.6h0M675.2 405.5h0"/>
<path class="d5" d="M668.7 417.7h0M668.1 416.0h0M669.9 396.0h0M673.0 410.6h0M670.1 426.4h0M678.7 421.6h0"/>
<path class="d5" d="M668.3 416.5h0M668.4 404.7h0M669.8 413.7h0M672.9 418.3h0M677.4 396.4h0M670.3 424.1h0"/>
<path class="d5" d="M678.1 408.1h0M676.9 395.5h0M673.9 406.1h0M670.7 394.1h0M672.1 410.5h0M676.8 396.4h0"/>
<path class="d5" d="M671.9 412.9h0M675.4 403.7h0M666.9 414.6h0M671.0 402.6h0M678.5 392.0h0M669.7 420.8h0"/>
<path class="d5" d="M677.0 403.0h0M669.0 400.1h0M678.2 410.9h0M674.5 421.0h0M677.1 393.7h0M676.1 399.2h0"/>
<path class="d5" d="M671.7 407.7h0M670.3 402.2h0M672.0 401.6h0M678.5 400.5h0M676.0 419.7h0M675.3 390.5h0"/>
<path class="d5" d="M674.1 402.2h0M671.9 409.4h0M673.1 389.8h0M676.2 393.2h0M673.4 396.5h0M678.2 408.0h0"/>
<path class="d5" d="M671.6 403.2h0M669.9 422.1h0M678.8 405.4h0M671.7 414.6h0M678.3 399.9h0M671.2 413.3h0"/>
<path class="d5" d="M666.6 415.1h0M670.8 416.3h0M678.4 393.8h0M675.1 403.9h0M676.3 419.3h0M672.6 411.5h0"/>
<path class="d5" d="M668.9 391.7h0M673.9 414.1h0M671.7 395.9h0M678.4 410.1h0M666.9 423.6h0M670.5 398.9h0"/>
<path class="d5" d="M670.5 408.0h0M672.7 394.1h0M668.1 400.3h0M666.8 423.6h0M668.8 405.5h0M675.7 406.9h0"/>
<path class="d5" d="M670.7 412.3h0M668.6 395.6h0M677.4 392.4h0M676.3 389.8h0M678.6 383.7h0M670.6 407.3h0"/>
<path class="d5" d="M675.8 419.3h0M676.8 415.3h0M672.7 405.3h0M678.7 375.0h0M666.9 418.7h0M666.8 415.3h0"/>
<path class="d5" d="M677.7 393.6h0M675.8 426.0h0M672.7 405.4h0M670.5 424.1h0M668.1 432.5h0M673.7 391.1h0"/>
<path class="d5" d="M669.2 390.8h0M677.6 410.2h0M677.5 421.3h0M671.6 420.1h0M674.3 425.1h0M678.1 426.1h0"/>
<path class="d5" d="M666.4 406.8h0M668.4 405.3h0M678.4 402.3h0M666.6 419.5h0M676.8 398.9h0M674.2 397.4h0"/>
<path class="d5" d="M666.3 424.5h0M670.1 417.3h0M676.2 420.6h0M674.2 416.7h0M668.3 404.5h0M667.3 424.9h0"/>
<path class="d5" d="M677.6 411.3h0M674.0 414.8h0M672.4 398.7h0M667.1 413.8h0M670.2 415.7h0M668.4 404.7h0"/>
<path class="d5" d="M667.1 402.0h0M673.0 400.6h0M669.2 387.5h0M667.4 414.6h0M673.9 414.0h0"/>
<path class="d6" d="M581.4 494.1h0M616.8 471.9h0M617.5 471.6h0M667.7 431.7h0M606.9 487.9h0M605.1 472.5h0"/>
<path class="d6" d="M599.7 489.3h0M632.9 479.1h0M654.7 454.7h0M601.8 475.8h0M673.1 423.4h0M635.0 477.2h0"/>
<path class="d6" d="M677.9 428.4h0M611.3 491.3h0M602.1 476.6h0M591.1 489.9h0M661.7 441.9h0M609.6 482.7h0"/>
<path class="d6" d="M657.7 435.8h0M660.4 454.1h0M602.5 476.2h0M611.6 493.3h0M657.6 443.7h0M642.6 466.9h0"/>
<path class="d6" d="M646.0 471.3h0M665.1 456.0h0M677.1 425.6h0M579.1 500.3h0M604.0 492.5h0M628.4 466.3h0"/>
<path class="d6" d="M627.9 456.4h0M608.0 489.1h0M634.8 464.2h0M621.8 460.6h0M663.6 438.8h0M631.2 472.7h0"/>
<path class="d6" d="M676.5 444.8h0M647.6 468.4h0M642.6 449.4h0M615.8 479.3h0M614.6 486.6h0M674.7 433.8h0"/>
<path class="d6" d="M580.3 495.9h0M655.3 463.7h0M610.6 482.1h0M593.1 498.8h0M579.5 499.3h0M598.1 488.3h0"/>
<path class="d6" d="M638.3 476.2h0M587.8 496.0h0M596.7 499.2h0M625.9 472.6h0M677.7 444.6h0M657.6 439.9h0"/>
<path class="d6" d="M654.8 438.9h0M647.8 456.7h0M671.7 393.8h0M644.0 418.3h0M638.2 412.1h0M624.4 426.3h0"/>
<path class="d6" d="M646.0 406.9h0M645.5 410.7h0M655.5 405.9h0M637.9 417.8h0M642.6 417.2h0M658.7 401.4h0"/>
<path class="d6" d="M663.1 398.3h0M623.9 433.3h0M585.1 472.5h0M579.0 485.9h0M570.3 482.0h0M562.4 492.8h0"/>
<path class="d6" d="M577.3 485.5h0M556.3 501.8h0M584.6 482.4h0M569.0 490.9h0M676.8 381.2h0M626.4 493.7h0"/>
<line x1="546.90" y1="503.40" x2="679.40" y2="406.40" stroke="#444" stroke-width="0.5"/>
<line x1="553.52" y1="488.08" x2="553.52" y2="495.40" stroke="#333" stroke-width="0.55"/>
<line x1="553.52" y1="501.41" x2="553.52" y2="503.40" stroke="#333" stroke-width="0.55"/>
<rect x="547.73" y="495.40" width="11.60" height="6.02" fill="#e9b22e" stroke="#333" stroke-width="0.6" fill-opacity="0.15"/>
<line x1="547.73" y1="498.40" x2="559.32" y2="498.40" stroke="#111" stroke-width="1.0"/>
<line x1="566.77" y1="476.54" x2="566.77" y2="484.95" stroke="#333" stroke-width="0.55"/>
<line x1="566.77" y1="491.87" x2="566.77" y2="500.29" stroke="#333" stroke-width="0.55"/>
<rect x="560.98" y="484.95" width="11.60" height="6.92" fill="#e9b22e" stroke="#333" stroke-width="0.6" fill-opacity="0.15"/>
<line x1="560.98" y1="488.41" x2="572.57" y2="488.41" stroke="#111" stroke-width="1.0"/>
<line x1="580.02" y1="464.92" x2="580.02" y2="474.49" stroke="#333" stroke-width="0.55"/>
<line x1="580.02" y1="482.36" x2="580.02" y2="491.93" stroke="#333" stroke-width="0.55"/>
<rect x="574.23" y="474.49" width="11.60" height="7.87" fill="#e9b22e" stroke="#333" stroke-width="0.6" fill-opacity="0.15"/>
<line x1="574.23" y1="478.42" x2="585.82" y2="478.42" stroke="#111" stroke-width="1.0"/>
<line x1="593.27" y1="453.23" x2="593.27" y2="464.00" stroke="#333" stroke-width="0.55"/>
<line x1="593.27" y1="472.86" x2="593.27" y2="483.63" stroke="#333" stroke-width="0.55"/>
<rect x="587.48" y="464.00" width="11.60" height="8.86" fill="#e9b22e" stroke="#333" stroke-width="0.6" fill-opacity="0.15"/>
<line x1="587.48" y1="468.43" x2="599.07" y2="468.43" stroke="#111" stroke-width="1.0"/>
<line x1="606.52" y1="441.50" x2="606.52" y2="453.51" stroke="#333" stroke-width="0.55"/>
<line x1="606.52" y1="463.37" x2="606.52" y2="475.38" stroke="#333" stroke-width="0.55"/>
<rect x="600.73" y="453.51" width="11.60" height="9.87" fill="#e9b22e" stroke="#333" stroke-width="0.6" fill-opacity="0.15"/>
<line x1="600.73" y1="458.44" x2="612.32" y2="458.44" stroke="#111" stroke-width="1.0"/>
<line x1="619.77" y1="429.74" x2="619.77" y2="443.00" stroke="#333" stroke-width="0.55"/>
<line x1="619.77" y1="453.90" x2="619.77" y2="467.16" stroke="#333" stroke-width="0.55"/>
<rect x="613.98" y="443.00" width="11.60" height="10.90" fill="#e9b22e" stroke="#333" stroke-width="0.6" fill-opacity="0.15"/>
<line x1="613.98" y1="448.45" x2="625.57" y2="448.45" stroke="#111" stroke-width="1.0"/>
<line x1="633.02" y1="417.96" x2="633.02" y2="432.49" stroke="#333" stroke-width="0.55"/>
<line x1="633.02" y1="444.43" x2="633.02" y2="458.96" stroke="#333" stroke-width="0.55"/>
<rect x="627.23" y="432.49" width="11.60" height="11.94" fill="#e9b22e" stroke="#333" stroke-width="0.6" fill-opacity="0.15"/>
<line x1="627.23" y1="438.46" x2="638.82" y2="438.46" stroke="#111" stroke-width="1.0"/>
<line x1="646.27" y1="406.16" x2="646.27" y2="421.97" stroke="#333" stroke-width="0.55"/>
<line x1="646.27" y1="434.97" x2="646.27" y2="450.77" stroke="#333" stroke-width="0.55"/>
<rect x="640.48" y="421.97" width="11.60" height="13.00" fill="#e9b22e" stroke="#333" stroke-width="0.6" fill-opacity="0.15"/>
<line x1="640.48" y1="428.47" x2="652.07" y2="428.47" stroke="#111" stroke-width="1.0"/>
<line x1="659.52" y1="394.35" x2="659.52" y2="411.45" stroke="#333" stroke-width="0.55"/>
<line x1="659.52" y1="425.51" x2="659.52" y2="442.61" stroke="#333" stroke-width="0.55"/>
<rect x="653.73" y="411.45" width="11.60" height="14.06" fill="#e9b22e" stroke="#333" stroke-width="0.6" fill-opacity="0.15"/>
<line x1="653.73" y1="418.48" x2="665.32" y2="418.48" stroke="#111" stroke-width="1.0"/>
<line x1="672.77" y1="382.52" x2="672.77" y2="400.92" stroke="#333" stroke-width="0.55"/>
<line x1="672.77" y1="416.05" x2="672.77" y2="434.45" stroke="#333" stroke-width="0.55"/>
<rect x="666.98" y="400.92" width="11.60" height="15.13" fill="#e9b22e" stroke="#333" stroke-width="0.6" fill-opacity="0.15"/>
<line x1="666.98" y1="408.49" x2="678.57" y2="408.49" stroke="#111" stroke-width="1.0"/>
<line x1="544.90" y1="484.00" x2="546.90" y2="484.00" stroke="#444" stroke-width="0.7"/>
<text x="542.70" y="487.10" font-size="8.5" text-anchor="end" fill="#222">0.1</text>
<line x1="544.90" y1="445.20" x2="546.90" y2="445.20" stroke="#444" stroke-width="0.7"/>
<text x="542.70" y="448.30" font-size="8.5" text-anchor="end" fill="#222">0.3</text>
<line x1="544.90" y1="406.40" x2="546.90" y2="406.40" stroke="#444" stroke-width="0.7"/>
<text x="542.70" y="409.50" font-size="8.5" text-anchor="end" fill="#222">0.5</text>
<line x1="544.90" y1="367.60" x2="546.90" y2="367.60" stroke="#444" stroke-width="0.7"/>
<text x="542.70" y="370.70" font-size="8.5" text-anchor="end" fill="#222">0.7</text>
<line x1="546.90" y1="503.40" x2="546.90" y2="505.40" stroke="#444" stroke-width="0.7"/>
<text x="546.90" y="516.60" font-size="8.5" text-anchor="middle" fill="#222">0</text>
<line x1="573.40" y1="503.40" x2="573.40" y2="505.40" stroke="#444" stroke-width="0.7"/>
<text x="573.40" y="516.60" font-size="8.5" text-anchor="middle" fill="#222">0.1</text>
<line x1="599.90" y1="503.40" x2="599.90" y2="505.40" stroke="#444" stroke-width="0.7"/>
<text x="599.90" y="516.60" font-size="8.5" text-anchor="middle" fill="#222">0.2</text>
<line x1="626.40" y1="503.40" x2="626.40" y2="505.40" stroke="#444" stroke-width="0.7"/>
<text x="626.40" y="516.60" font-size="8.5" text-anchor="middle" fill="#222">0.3</text>
<line x1="652.90" y1="503.40" x2="652.90" y2="505.40" stroke="#444" stroke-width="0.7"/>
<text x="652.90" y="516.60" font-size="8.5" text-anchor="middle" fill="#222">0.4</text>
<line x1="679.40" y1="503.40" x2="679.40" y2="505.40" stroke="#444" stroke-width="0.7"/>
<text x="679.40" y="516.60" font-size="8.5" text-anchor="middle" fill="#222">0.5</text>
<rect x="554.20" y="374.20" width="76.60" height="22.90" fill="#fff" stroke="#333" stroke-width="0.8" stroke-dasharray="2.8,1.5"/>
<text x="560.00" y="382.90" font-size="8.1" fill="#222">RMSE = <tspan fill="#1f77c8">0.0473</tspan></text>
<text x="560.00" y="392.60" font-size="8.1" fill="#222">PCC = <tspan fill="#1f77c8">0.9496</tspan></text>
<text x="674.20" y="496.50" font-size="7.2" text-anchor="end" fill="#222">n = 200</text>
<line x1="213.40" y1="373.00" x2="213.40" y2="417.00" stroke="#333" stroke-width="0.7"/>
<line x1="213.40" y1="456.80" x2="213.40" y2="499.00" stroke="#333" stroke-width="0.7"/>
<path d="M210.8,375.5 L213.4,369.6 L216.0,375.5 Z" fill="#111" stroke="none" stroke-width="1"/>
<path d="M210.8,497.6 L213.4,503.6 L216.0,497.6 Z" fill="#111" stroke="none" stroke-width="1"/>
<line x1="207.10" y1="369.40" x2="219.50" y2="369.40" stroke="#555" stroke-width="0.7"/>
<line x1="207.10" y1="504.30" x2="219.50" y2="504.30" stroke="#555" stroke-width="0.7"/>
<text x="215.60" y="436.90" font-size="8.9" text-anchor="middle" fill="#222" transform="rotate(-90 215.6 436.9)">Prediction</text>
<line x1="240.00" y1="528.70" x2="412.00" y2="528.70" stroke="#333" stroke-width="0.7"/>
<line x1="505.50" y1="528.70" x2="677.00" y2="528.70" stroke="#333" stroke-width="0.7"/>
<path d="M244.0,526.1 L238.2,528.7 L244.0,531.3 Z" fill="#111" stroke="none" stroke-width="1"/>
<path d="M674.6,526.1 L680.4,528.7 L674.6,531.3 Z" fill="#111" stroke="none" stroke-width="1"/>
<line x1="237.90" y1="523.00" x2="237.90" y2="534.50" stroke="#888" stroke-width="0.8"/>
<line x1="680.60" y1="523.00" x2="680.60" y2="534.50" stroke="#888" stroke-width="0.8"/>
<text x="459.00" y="532.30" font-size="10.3" text-anchor="middle" fill="#111">True turmor fraction</text>
</svg></body></html>
